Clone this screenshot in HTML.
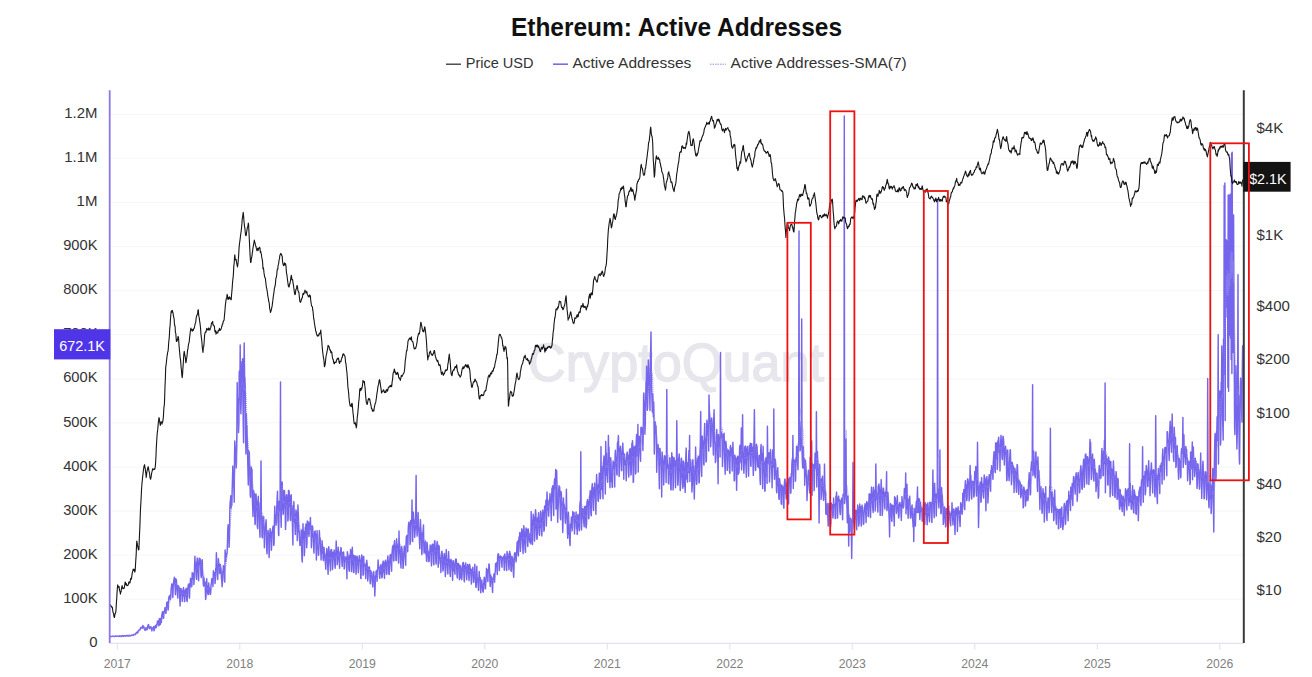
<!DOCTYPE html>
<html><head><meta charset="utf-8"><title>Ethereum: Active Addresses</title>
<style>
html,body{margin:0;padding:0;background:#fff;}
body{width:1312px;height:677px;overflow:hidden;font-family:"Liberation Sans",sans-serif;}
svg{display:block;font-family:"Liberation Sans",sans-serif;}
</style></head><body>
<svg width="1312" height="677" viewBox="0 0 1312 677">
<rect width="1312" height="677" fill="#ffffff"/>
<text x="676.5" y="35.5" text-anchor="middle" font-size="25" font-weight="bold" textLength="331" lengthAdjust="spacingAndGlyphs" fill="#111">Ethereum: Active Addresses</text>
<g font-size="14.5" fill="#333">
<line x1="446" x2="461" y1="64.2" y2="64.2" stroke="#333" stroke-width="1.3"/>
<text x="465.7" y="68" textLength="67.9" lengthAdjust="spacingAndGlyphs">Price USD</text>
<line x1="553" x2="568" y1="64.2" y2="64.2" stroke="#7b68ee" stroke-width="1.6"/>
<text x="572.4" y="68" textLength="118.9" lengthAdjust="spacingAndGlyphs">Active Addresses</text>
<line x1="710" x2="726" y1="64.2" y2="64.2" stroke="#9a8cf0" stroke-width="1" stroke-dasharray="1.5,1"/>
<text x="730.6" y="68" textLength="176.1" lengthAdjust="spacingAndGlyphs">Active Addresses-SMA(7)</text>
</g>
<g stroke="#f6f6f6" stroke-width="1"><line x1="110" x2="1243" y1="114.3" y2="114.3"/><line x1="110" x2="1243" y1="158.4" y2="158.4"/><line x1="110" x2="1243" y1="202.5" y2="202.5"/><line x1="110" x2="1243" y1="246.6" y2="246.6"/><line x1="110" x2="1243" y1="290.7" y2="290.7"/><line x1="110" x2="1243" y1="334.7" y2="334.7"/><line x1="110" x2="1243" y1="378.8" y2="378.8"/><line x1="110" x2="1243" y1="422.9" y2="422.9"/><line x1="110" x2="1243" y1="467.0" y2="467.0"/><line x1="110" x2="1243" y1="511.1" y2="511.1"/><line x1="110" x2="1243" y1="555.1" y2="555.1"/><line x1="110" x2="1243" y1="599.2" y2="599.2"/></g>
<text x="676" y="381" text-anchor="middle" font-size="53" fill="#e7e6ed" stroke="#e7e6ed" stroke-width="1.4" textLength="296" lengthAdjust="spacingAndGlyphs">CryptoQuant</text>
<line x1="109" x2="1244" y1="643.3" y2="643.3" stroke="#e4e2ee" stroke-width="1.2"/>
<g stroke="#e0e0e6" stroke-width="1"><line x1="117.3" x2="117.3" y1="643" y2="649.5"/><line x1="239.8" x2="239.8" y1="643" y2="649.5"/><line x1="362.3" x2="362.3" y1="643" y2="649.5"/><line x1="484.8" x2="484.8" y1="643" y2="649.5"/><line x1="607.3" x2="607.3" y1="643" y2="649.5"/><line x1="729.8" x2="729.8" y1="643" y2="649.5"/><line x1="852.3" x2="852.3" y1="643" y2="649.5"/><line x1="974.8" x2="974.8" y1="643" y2="649.5"/><line x1="1097.3" x2="1097.3" y1="643" y2="649.5"/><line x1="1219.8" x2="1219.8" y1="643" y2="649.5"/></g>
<g font-size="15.3" fill="#333"><text x="64.3" y="117.9" textLength="33.2" lengthAdjust="spacingAndGlyphs">1.2M</text><text x="64.3" y="162.0" textLength="33.2" lengthAdjust="spacingAndGlyphs">1.1M</text><text x="76.6" y="206.1" textLength="20.9" lengthAdjust="spacingAndGlyphs">1M</text><text x="63.2" y="250.2" textLength="34.3" lengthAdjust="spacingAndGlyphs">900K</text><text x="63.2" y="294.3" textLength="34.3" lengthAdjust="spacingAndGlyphs">800K</text><text x="63.2" y="338.3" textLength="34.3" lengthAdjust="spacingAndGlyphs">700K</text><text x="63.2" y="382.4" textLength="34.3" lengthAdjust="spacingAndGlyphs">600K</text><text x="63.2" y="426.5" textLength="34.3" lengthAdjust="spacingAndGlyphs">500K</text><text x="63.2" y="470.6" textLength="34.3" lengthAdjust="spacingAndGlyphs">400K</text><text x="63.2" y="514.7" textLength="34.3" lengthAdjust="spacingAndGlyphs">300K</text><text x="63.2" y="558.7" textLength="34.3" lengthAdjust="spacingAndGlyphs">200K</text><text x="63.2" y="602.8" textLength="34.3" lengthAdjust="spacingAndGlyphs">100K</text><text x="89.2" y="646.9" textLength="8.3" lengthAdjust="spacingAndGlyphs">0</text></g>
<g font-size="15" fill="#333"><text x="1256.5" y="133.3">$4K</text><text x="1256.5" y="240.2">$1K</text><text x="1256.5" y="310.9">$400</text><text x="1256.5" y="364.3">$200</text><text x="1256.5" y="417.8">$100</text><text x="1256.5" y="488.5">$40</text><text x="1256.5" y="541.9">$20</text><text x="1256.5" y="595.4">$10</text></g>
<g font-size="12.2" fill="#808080"><text x="117.3" y="667.5" text-anchor="middle">2017</text><text x="239.8" y="667.5" text-anchor="middle">2018</text><text x="362.3" y="667.5" text-anchor="middle">2019</text><text x="484.8" y="667.5" text-anchor="middle">2020</text><text x="607.3" y="667.5" text-anchor="middle">2021</text><text x="729.8" y="667.5" text-anchor="middle">2022</text><text x="852.3" y="667.5" text-anchor="middle">2023</text><text x="974.8" y="667.5" text-anchor="middle">2024</text><text x="1097.3" y="667.5" text-anchor="middle">2025</text><text x="1219.8" y="667.5" text-anchor="middle">2026</text></g>
<path d="M110.0,636.0 L110.3,636.4 L110.7,636.4 L111.0,636.5 L111.3,636.5 L111.7,636.6 L112.0,636.4 L112.3,636.3 L112.7,636.2 L113.0,636.3 L113.4,636.2 L113.7,636.3 L114.0,636.6 L114.4,636.6 L114.7,636.2 L115.0,636.2 L115.4,636.0 L115.7,636.2 L116.0,636.3 L116.4,636.3 L116.7,636.4 L117.0,636.2 L117.4,636.0 L117.7,636.1 L118.1,636.1 L118.4,636.3 L118.7,636.4 L119.1,636.4 L119.4,636.3 L119.7,635.8 L120.1,636.0 L120.4,636.0 L120.7,636.2 L121.1,636.6 L121.4,636.4 L121.7,635.8 L122.1,635.7 L122.4,635.9 L122.8,635.9 L123.1,635.8 L123.4,636.3 L123.8,636.2 L124.1,635.7 L124.4,635.8 L124.8,635.7 L125.1,635.7 L125.4,635.8 L125.8,636.1 L126.1,636.0 L126.4,635.6 L126.8,635.4 L127.1,635.7 L127.5,635.5 L127.8,635.6 L128.1,636.1 L128.5,636.1 L128.8,635.6 L129.1,635.3 L129.5,635.8 L129.8,635.5 L130.1,635.6 L130.5,635.9 L130.8,635.8 L131.1,635.4 L131.5,635.3 L131.8,635.1 L132.1,635.0 L132.5,635.0 L132.8,635.3 L133.2,635.5 L133.5,634.9 L133.8,634.6 L134.2,634.2 L134.5,634.4 L134.8,634.4 L135.2,634.7 L135.5,634.5 L135.8,633.6 L136.2,632.9 L136.5,632.6 L136.8,632.3 L137.2,632.1 L137.5,633.0 L137.9,632.7 L138.2,630.9 L138.5,630.7 L138.9,630.2 L139.2,629.9 L139.5,629.8 L139.9,629.8 L140.2,629.3 L140.5,627.9 L140.9,627.6 L141.2,627.3 L141.5,627.2 L141.9,627.3 L142.2,628.2 L142.6,628.1 L142.9,625.5 L143.2,626.4 L143.6,627.1 L143.9,626.8 L144.2,628.4 L144.6,629.8 L144.9,629.8 L145.2,630.2 L145.6,628.7 L145.9,627.7 L146.2,628.0 L146.6,628.9 L146.9,629.9 L147.3,628.9 L147.6,627.1 L147.9,625.6 L148.3,624.8 L148.6,624.6 L148.9,626.3 L149.3,628.5 L149.6,628.7 L149.9,627.5 L150.3,627.6 L150.6,626.7 L150.9,626.8 L151.3,628.2 L151.6,629.6 L151.9,630.9 L152.3,627.9 L152.6,628.0 L153.0,628.5 L153.3,628.9 L153.6,626.6 L154.0,630.8 L154.3,628.9 L154.6,629.2 L155.0,626.6 L155.3,625.8 L155.6,625.5 L156.0,626.0 L156.3,627.6 L156.6,624.6 L157.0,624.8 L157.3,622.2 L157.7,620.9 L158.0,623.6 L158.3,621.2 L158.7,625.8 L159.0,625.7 L159.3,618.7 L159.7,619.0 L160.0,620.0 L160.3,624.5 L160.7,618.5 L161.0,619.5 L161.3,622.6 L161.7,616.0 L162.0,614.1 L162.4,612.0 L162.7,611.7 L163.0,615.7 L163.4,618.4 L163.7,617.7 L164.0,611.2 L164.4,611.8 L164.7,609.8 L165.0,607.6 L165.4,608.8 L165.7,613.3 L166.0,613.3 L166.4,608.2 L166.7,603.1 L167.1,602.0 L167.4,602.2 L167.7,603.8 L168.1,610.1 L168.4,607.2 L168.7,598.1 L169.1,596.7 L169.4,596.2 L169.7,595.4 L170.1,597.1 L170.4,599.7 L170.7,597.4 L171.1,589.5 L171.4,587.2 L171.8,583.9 L172.1,584.2 L172.4,584.7 L172.8,597.5 L173.1,590.6 L173.4,583.7 L173.8,580.6 L174.1,578.6 L174.4,577.3 L174.8,582.7 L175.1,587.0 L175.4,594.8 L175.8,578.7 L176.1,583.9 L176.4,579.7 L176.8,586.6 L177.1,589.9 L177.5,594.9 L177.8,598.1 L178.1,585.4 L178.5,588.1 L178.8,589.2 L179.1,587.0 L179.5,590.4 L179.8,600.3 L180.1,605.9 L180.5,588.5 L180.8,588.7 L181.1,588.8 L181.5,594.4 L181.8,590.7 L182.2,601.5 L182.5,595.1 L182.8,596.1 L183.2,589.1 L183.5,587.6 L183.8,592.7 L184.2,595.7 L184.5,601.6 L184.8,601.0 L185.2,590.0 L185.5,592.3 L185.8,593.7 L186.2,588.3 L186.5,595.6 L186.9,600.8 L187.2,601.5 L187.5,589.0 L187.9,588.4 L188.2,585.6 L188.5,584.2 L188.9,584.1 L189.2,596.4 L189.5,598.0 L189.9,583.6 L190.2,586.5 L190.5,578.3 L190.9,581.1 L191.2,583.9 L191.6,586.8 L191.9,585.9 L192.2,572.7 L192.6,579.4 L192.9,576.7 L193.2,574.9 L193.6,573.2 L193.9,584.5 L194.2,580.0 L194.6,565.4 L194.9,556.3 L195.2,566.0 L195.6,562.9 L195.9,568.4 L196.2,577.0 L196.6,579.4 L196.9,561.7 L197.3,558.0 L197.6,560.8 L197.9,564.8 L198.3,574.2 L198.6,580.7 L198.9,569.6 L199.3,558.3 L199.6,564.6 L199.9,558.5 L200.3,560.2 L200.6,559.8 L200.9,574.8 L201.3,577.6 L201.6,566.2 L202.0,566.0 L202.3,559.8 L202.6,575.5 L203.0,575.9 L203.3,583.9 L203.6,586.1 L204.0,578.2 L204.3,583.9 L204.6,582.2 L205.0,582.0 L205.3,588.4 L205.6,599.4 L206.0,597.0 L206.3,587.9 L206.7,578.8 L207.0,585.3 L207.3,586.9 L207.7,592.6 L208.0,594.5 L208.3,594.4 L208.7,582.9 L209.0,587.2 L209.3,588.0 L209.7,589.9 L210.0,593.2 L210.3,594.6 L210.7,593.3 L211.0,584.8 L211.4,584.0 L211.7,579.4 L212.0,578.4 L212.4,581.5 L212.7,583.6 L213.0,586.4 L213.4,570.7 L213.7,575.9 L214.0,572.9 L214.4,574.0 L214.7,572.8 L215.0,583.6 L215.4,579.7 L215.7,568.5 L216.0,569.8 L216.4,552.7 L216.7,565.2 L217.1,571.3 L217.4,576.3 L217.7,579.6 L218.1,567.7 L218.4,558.6 L218.7,562.8 L219.1,563.7 L219.4,565.0 L219.7,573.4 L220.1,572.3 L220.4,564.5 L220.7,567.4 L221.1,569.1 L221.4,578.0 L221.8,580.9 L222.1,586.7 L222.4,583.1 L222.8,571.0 L223.1,571.8 L223.4,565.6 L223.8,569.4 L224.1,569.1 L224.4,579.9 L224.8,582.1 L225.1,550.0 L225.4,554.3 L225.8,561.2 L226.1,554.6 L226.5,556.2 L226.8,553.3 L227.1,553.5 L227.5,541.8 L227.8,529.6 L228.1,524.7 L228.5,529.9 L228.8,526.7 L229.1,547.2 L229.5,536.9 L229.8,511.2 L230.1,502.5 L230.5,499.8 L230.8,495.7 L231.2,508.0 L231.5,503.4 L231.8,505.4 L232.2,489.2 L232.5,479.1 L232.8,466.1 L233.2,486.9 L233.5,475.0 L233.8,486.5 L234.2,502.2 L234.5,458.4 L234.8,440.9 L235.2,448.0 L235.5,447.8 L235.8,459.6 L236.2,467.9 L236.5,462.3 L236.9,425.0 L237.2,382.6 L237.5,408.1 L237.9,412.7 L238.2,398.6 L238.5,432.6 L238.9,423.2 L239.2,372.6 L239.5,370.8 L239.9,386.0 L240.2,345.0 L240.5,399.4 L240.9,413.7 L241.2,402.8 L241.6,371.3 L241.9,361.6 L242.2,374.6 L242.6,358.8 L242.9,399.4 L243.2,421.1 L243.6,442.8 L243.9,373.2 L244.2,343.0 L244.6,376.3 L244.9,378.0 L245.2,386.8 L245.6,435.9 L245.9,453.9 L246.3,413.4 L246.6,428.7 L246.9,425.6 L247.3,439.2 L247.6,455.7 L247.9,467.9 L248.3,485.0 L248.6,450.6 L248.9,456.7 L249.3,451.9 L249.6,464.6 L249.9,476.9 L250.3,495.7 L250.6,497.2 L251.0,467.2 L251.3,467.1 L251.6,471.7 L252.0,469.1 L252.3,496.2 L252.6,505.6 L253.0,516.5 L253.3,491.2 L253.6,490.5 L254.0,498.3 L254.3,493.0 L254.6,511.4 L255.0,524.6 L255.3,523.0 L255.7,494.4 L256.0,494.1 L256.3,498.7 L256.7,503.8 L257.0,511.5 L257.3,526.3 L257.7,528.5 L258.0,501.6 L258.3,496.3 L258.7,510.7 L259.0,502.7 L259.3,516.9 L259.7,531.8 L260.0,537.3 L260.3,511.1 L260.7,509.5 L261.0,461.0 L261.4,517.7 L261.7,515.1 L262.0,536.0 L262.4,537.8 L262.7,517.3 L263.0,518.2 L263.4,520.9 L263.7,516.7 L264.0,528.1 L264.4,547.8 L264.7,540.4 L265.0,527.7 L265.4,528.0 L265.7,523.9 L266.1,519.7 L266.4,530.3 L266.7,550.4 L267.1,553.8 L267.4,537.1 L267.7,535.0 L268.1,530.4 L268.4,538.5 L268.7,533.5 L269.1,557.5 L269.4,550.1 L269.7,536.1 L270.1,528.6 L270.4,532.3 L270.8,540.5 L271.1,532.7 L271.4,550.2 L271.8,543.3 L272.1,531.1 L272.4,530.9 L272.8,528.1 L273.1,526.1 L273.4,527.9 L273.8,545.4 L274.1,543.8 L274.4,522.1 L274.8,506.2 L275.1,517.8 L275.5,514.6 L275.8,521.5 L276.1,525.1 L276.5,522.5 L276.8,507.3 L277.1,499.2 L277.5,491.3 L277.8,507.6 L278.1,513.8 L278.5,533.9 L278.8,535.5 L279.1,501.3 L279.5,505.7 L279.8,511.4 L280.1,502.0 L280.5,382.0 L280.8,514.2 L281.2,527.2 L281.5,488.3 L281.8,506.2 L282.2,481.9 L282.5,498.4 L282.8,509.3 L283.2,514.4 L283.5,512.2 L283.8,490.4 L284.2,498.1 L284.5,490.6 L284.8,498.4 L285.2,510.3 L285.5,529.4 L285.9,521.1 L286.2,497.6 L286.5,494.8 L286.9,495.3 L287.2,502.7 L287.5,501.9 L287.9,521.0 L288.2,518.1 L288.5,490.5 L288.9,490.4 L289.2,492.0 L289.5,506.3 L289.9,495.6 L290.2,519.8 L290.6,520.4 L290.9,502.7 L291.2,494.8 L291.6,507.8 L291.9,510.9 L292.2,514.6 L292.6,532.0 L292.9,545.1 L293.2,505.4 L293.6,512.7 L293.9,501.6 L294.2,513.2 L294.6,521.1 L294.9,524.0 L295.3,534.5 L295.6,518.6 L295.9,509.9 L296.3,511.7 L296.6,517.5 L296.9,523.0 L297.3,540.6 L297.6,534.8 L297.9,505.0 L298.3,513.9 L298.6,521.3 L298.9,531.7 L299.3,531.1 L299.6,540.1 L299.9,545.4 L300.3,544.4 L300.6,537.6 L301.0,541.2 L301.3,529.9 L301.6,547.5 L302.0,559.9 L302.3,562.0 L302.6,537.5 L303.0,523.8 L303.3,535.7 L303.6,538.3 L304.0,531.6 L304.3,555.7 L304.6,551.5 L305.0,535.9 L305.3,527.4 L305.7,526.9 L306.0,523.9 L306.3,531.6 L306.7,547.8 L307.0,542.4 L307.3,521.0 L307.7,523.6 L308.0,523.2 L308.3,533.9 L308.7,522.1 L309.0,536.4 L309.3,529.6 L309.7,523.8 L310.0,529.4 L310.4,517.5 L310.7,527.0 L311.0,527.7 L311.4,547.7 L311.7,541.0 L312.0,526.1 L312.4,525.9 L312.7,527.3 L313.0,535.2 L313.4,538.1 L313.7,548.7 L314.0,553.1 L314.4,535.0 L314.7,531.4 L315.1,531.0 L315.4,535.9 L315.7,534.3 L316.1,549.0 L316.4,560.1 L316.7,545.7 L317.1,530.6 L317.4,546.7 L317.7,548.3 L318.1,547.0 L318.4,555.3 L318.7,554.9 L319.1,536.5 L319.4,530.7 L319.7,538.9 L320.1,537.9 L320.4,543.2 L320.8,552.2 L321.1,559.9 L321.4,548.6 L321.8,552.7 L322.1,540.7 L322.4,547.5 L322.8,546.3 L323.1,558.8 L323.4,560.5 L323.8,549.8 L324.1,547.8 L324.4,554.0 L324.8,554.5 L325.1,559.8 L325.5,564.7 L325.8,569.2 L326.1,556.2 L326.5,552.8 L326.8,548.4 L327.1,552.7 L327.5,560.7 L327.8,568.2 L328.1,574.3 L328.5,550.9 L328.8,546.8 L329.1,551.2 L329.5,555.0 L329.8,561.6 L330.2,566.2 L330.5,570.7 L330.8,550.1 L331.2,554.8 L331.5,549.5 L331.8,552.4 L332.2,557.1 L332.5,569.5 L332.8,566.4 L333.2,552.3 L333.5,553.5 L333.8,558.4 L334.2,549.9 L334.5,558.6 L334.9,565.3 L335.2,568.3 L335.5,553.8 L335.9,552.2 L336.2,541.0 L336.5,549.4 L336.9,554.3 L337.2,564.7 L337.5,562.7 L337.9,556.6 L338.2,547.2 L338.5,551.0 L338.9,557.3 L339.2,558.9 L339.6,568.3 L339.9,560.1 L340.2,551.8 L340.6,552.5 L340.9,547.5 L341.2,548.2 L341.6,555.6 L341.9,561.9 L342.2,566.4 L342.6,557.0 L342.9,552.4 L343.2,555.5 L343.6,551.9 L343.9,556.6 L344.2,569.1 L344.6,568.0 L344.9,557.7 L345.3,557.0 L345.6,556.9 L345.9,560.9 L346.3,558.8 L346.6,563.5 L346.9,578.8 L347.3,551.7 L347.6,553.8 L347.9,554.7 L348.3,559.8 L348.6,561.5 L348.9,569.2 L349.3,571.2 L349.6,555.7 L350.0,555.0 L350.3,555.5 L350.6,549.4 L351.0,556.2 L351.3,569.8 L351.6,571.6 L352.0,559.3 L352.3,547.3 L352.6,557.1 L353.0,554.7 L353.3,565.2 L353.6,572.6 L354.0,572.0 L354.3,555.6 L354.7,556.2 L355.0,557.6 L355.3,556.1 L355.7,562.2 L356.0,574.2 L356.3,570.9 L356.7,557.4 L357.0,556.1 L357.3,556.7 L357.7,563.0 L358.0,564.1 L358.3,572.8 L358.7,566.5 L359.0,558.9 L359.4,555.7 L359.7,559.4 L360.0,561.5 L360.4,560.3 L360.7,578.3 L361.0,578.5 L361.4,559.9 L361.7,555.0 L362.0,556.2 L362.4,558.8 L362.7,562.1 L363.0,575.2 L363.4,574.5 L363.7,556.4 L364.0,564.4 L364.4,564.0 L364.7,566.1 L365.1,564.1 L365.4,572.7 L365.7,578.6 L366.1,565.3 L366.4,563.9 L366.7,560.2 L367.1,563.5 L367.4,569.4 L367.7,580.9 L368.1,577.2 L368.4,567.1 L368.7,569.4 L369.1,568.4 L369.4,566.9 L369.8,571.8 L370.1,582.3 L370.4,583.8 L370.8,570.8 L371.1,573.5 L371.4,572.3 L371.8,572.5 L372.1,578.8 L372.4,582.7 L372.8,586.9 L373.1,579.1 L373.4,576.2 L373.8,571.6 L374.1,579.5 L374.5,582.1 L374.8,596.0 L375.1,588.0 L375.5,576.1 L375.8,577.5 L376.1,571.0 L376.5,572.1 L376.8,570.5 L377.1,581.3 L377.5,570.1 L377.8,568.8 L378.1,559.9 L378.5,567.2 L378.8,567.1 L379.2,567.9 L379.5,577.0 L379.8,578.2 L380.2,567.4 L380.5,565.7 L380.8,564.7 L381.2,574.3 L381.5,566.4 L381.8,577.8 L382.2,577.2 L382.5,563.2 L382.8,564.4 L383.2,561.1 L383.5,563.4 L383.8,572.0 L384.2,574.0 L384.5,578.2 L384.9,561.9 L385.2,561.8 L385.5,560.2 L385.9,562.6 L386.2,564.9 L386.5,574.2 L386.9,573.9 L387.2,563.7 L387.5,559.9 L387.9,555.9 L388.2,561.0 L388.5,561.8 L388.9,574.3 L389.2,574.5 L389.6,564.9 L389.9,557.7 L390.2,554.8 L390.6,554.6 L390.9,561.1 L391.2,563.5 L391.6,571.2 L391.9,554.9 L392.2,551.3 L392.6,546.2 L392.9,550.7 L393.2,545.3 L393.6,560.6 L393.9,561.0 L394.3,543.4 L394.6,540.6 L394.9,545.1 L395.3,548.1 L395.6,549.6 L395.9,560.0 L396.3,560.6 L396.6,538.7 L396.9,542.9 L397.3,545.7 L397.6,547.8 L397.9,548.6 L398.3,558.0 L398.6,563.1 L399.0,531.0 L399.3,544.6 L399.6,543.9 L400.0,551.6 L400.3,554.9 L400.6,562.0 L401.0,568.0 L401.3,551.0 L401.6,546.4 L402.0,549.2 L402.3,553.5 L402.6,556.3 L403.0,568.4 L403.3,566.9 L403.6,558.0 L404.0,550.3 L404.3,546.0 L404.7,548.4 L405.0,555.1 L405.3,557.8 L405.7,565.2 L406.0,545.4 L406.3,536.9 L406.7,536.2 L407.0,535.4 L407.3,538.8 L407.7,551.7 L408.0,541.8 L408.3,527.7 L408.7,522.7 L409.0,522.1 L409.4,526.2 L409.7,523.8 L410.0,544.5 L410.4,542.1 L410.7,520.4 L411.0,522.1 L411.4,524.8 L411.7,524.7 L412.0,500.0 L412.4,540.9 L412.7,541.5 L413.0,523.4 L413.4,512.1 L413.7,517.9 L414.1,521.1 L414.4,526.0 L414.7,537.3 L415.1,531.7 L415.4,526.7 L415.7,516.9 L416.1,475.5 L416.4,517.8 L416.7,525.8 L417.1,536.1 L417.4,530.6 L417.7,520.6 L418.1,512.5 L418.4,527.2 L418.8,528.9 L419.1,534.3 L419.4,539.4 L419.8,548.8 L420.1,526.5 L420.4,519.6 L420.8,528.2 L421.1,532.0 L421.4,537.8 L421.8,554.6 L422.1,550.8 L422.4,532.8 L422.8,539.4 L423.1,530.3 L423.5,524.9 L423.8,545.4 L424.1,553.1 L424.5,550.0 L424.8,547.0 L425.1,543.8 L425.5,541.1 L425.8,554.0 L426.1,546.3 L426.5,560.8 L426.8,561.4 L427.1,542.5 L427.5,548.2 L427.8,552.2 L428.1,550.6 L428.5,557.6 L428.8,561.7 L429.2,560.9 L429.5,552.7 L429.8,552.9 L430.2,545.1 L430.5,547.5 L430.8,545.9 L431.2,561.0 L431.5,565.9 L431.8,552.0 L432.2,544.4 L432.5,551.0 L432.8,544.1 L433.2,545.5 L433.5,562.6 L433.9,564.8 L434.2,548.1 L434.5,541.3 L434.9,540.8 L435.2,552.1 L435.5,548.5 L435.9,562.5 L436.2,564.0 L436.5,549.0 L436.9,543.7 L437.2,541.5 L437.5,544.2 L437.9,551.4 L438.2,567.3 L438.6,555.6 L438.9,545.4 L439.2,547.3 L439.6,556.7 L439.9,557.0 L440.2,563.7 L440.6,562.0 L440.9,572.5 L441.2,561.0 L441.6,554.0 L441.9,551.2 L442.2,553.5 L442.6,559.0 L442.9,571.1 L443.3,568.9 L443.6,560.7 L443.9,557.6 L444.3,553.4 L444.6,556.5 L444.9,560.3 L445.3,576.6 L445.6,572.9 L445.9,558.4 L446.3,549.6 L446.6,558.8 L446.9,559.3 L447.3,565.6 L447.6,570.6 L447.9,574.0 L448.3,560.7 L448.6,551.6 L449.0,561.7 L449.3,559.6 L449.6,561.6 L450.0,572.8 L450.3,576.5 L450.6,562.9 L451.0,559.2 L451.3,560.0 L451.6,560.5 L452.0,567.0 L452.3,573.2 L452.6,580.4 L453.0,565.7 L453.3,560.8 L453.7,563.5 L454.0,567.7 L454.3,570.8 L454.7,571.4 L455.0,574.3 L455.3,561.2 L455.7,559.1 L456.0,560.4 L456.3,559.3 L456.7,567.1 L457.0,575.5 L457.3,578.0 L457.7,563.9 L458.0,563.5 L458.4,563.4 L458.7,568.6 L459.0,568.4 L459.4,579.8 L459.7,573.3 L460.0,565.1 L460.4,578.1 L460.7,566.3 L461.0,570.0 L461.4,570.8 L461.7,579.7 L462.0,576.5 L462.4,569.0 L462.7,563.1 L463.1,566.4 L463.4,562.5 L463.7,569.5 L464.1,580.0 L464.4,581.8 L464.7,565.4 L465.1,567.2 L465.4,565.1 L465.7,562.9 L466.1,569.0 L466.4,575.4 L466.7,579.8 L467.1,568.2 L467.4,568.5 L467.7,564.4 L468.1,568.3 L468.4,572.8 L468.8,577.3 L469.1,580.6 L469.4,564.2 L469.8,565.0 L470.1,568.1 L470.4,568.9 L470.8,573.5 L471.1,578.1 L471.4,584.1 L471.8,569.7 L472.1,569.1 L472.4,571.5 L472.8,567.3 L473.1,574.0 L473.5,582.2 L473.8,581.8 L474.1,572.4 L474.5,574.8 L474.8,564.2 L475.1,574.3 L475.5,578.9 L475.8,586.9 L476.1,587.5 L476.5,578.6 L476.8,566.3 L477.1,576.5 L477.5,578.9 L477.8,581.0 L478.2,586.0 L478.5,590.4 L478.8,579.6 L479.2,571.4 L479.5,579.6 L479.8,579.7 L480.2,577.4 L480.5,589.7 L480.8,592.8 L481.2,584.2 L481.5,580.7 L481.8,580.0 L482.2,586.4 L482.5,587.9 L482.9,591.4 L483.2,592.1 L483.5,583.8 L483.9,582.7 L484.2,577.3 L484.5,578.4 L484.9,584.1 L485.2,589.0 L485.5,588.4 L485.9,580.7 L486.2,576.6 L486.5,568.3 L486.9,570.4 L487.2,574.3 L487.5,577.4 L487.9,581.5 L488.2,569.6 L488.6,571.9 L488.9,563.9 L489.2,564.6 L489.6,572.2 L489.9,580.0 L490.2,586.5 L490.6,575.1 L490.9,576.4 L491.2,576.4 L491.6,577.3 L491.9,582.7 L492.2,586.3 L492.6,592.4 L492.9,580.0 L493.3,577.8 L493.6,578.5 L493.9,573.9 L494.3,576.0 L494.6,582.2 L494.9,573.3 L495.3,571.3 L495.6,563.4 L495.9,566.6 L496.3,566.6 L496.6,562.7 L496.9,565.6 L497.3,574.5 L497.6,557.7 L498.0,554.2 L498.3,553.8 L498.6,554.1 L499.0,557.8 L499.3,570.6 L499.6,565.9 L500.0,556.8 L500.3,556.7 L500.6,555.9 L501.0,556.9 L501.3,556.8 L501.6,561.4 L502.0,567.3 L502.3,557.7 L502.7,559.6 L503.0,559.3 L503.3,557.6 L503.7,556.1 L504.0,563.3 L504.3,570.3 L504.7,554.1 L505.0,554.4 L505.3,561.1 L505.7,561.5 L506.0,557.5 L506.3,568.7 L506.7,570.5 L507.0,551.4 L507.4,555.3 L507.7,553.1 L508.0,555.4 L508.4,560.2 L508.7,565.7 L509.0,569.7 L509.4,559.8 L509.7,551.3 L510.0,553.3 L510.4,554.0 L510.7,561.8 L511.0,570.8 L511.4,571.3 L511.7,564.7 L512.0,556.4 L512.4,558.5 L512.7,558.4 L513.1,564.2 L513.4,573.0 L513.7,577.2 L514.1,563.9 L514.4,554.2 L514.7,553.0 L515.1,552.7 L515.4,557.0 L515.7,558.0 L516.1,561.7 L516.4,557.3 L516.7,551.8 L517.1,542.3 L517.4,552.7 L517.8,541.1 L518.1,553.0 L518.4,555.9 L518.8,539.7 L519.1,536.8 L519.4,540.4 L519.8,532.4 L520.1,542.3 L520.4,551.4 L520.8,544.1 L521.1,536.5 L521.4,533.1 L521.8,528.8 L522.1,530.8 L522.5,539.9 L522.8,547.6 L523.1,553.6 L523.5,533.6 L523.8,525.8 L524.1,529.3 L524.5,535.6 L524.8,543.3 L525.1,549.5 L525.5,552.3 L525.8,531.0 L526.1,528.0 L526.5,537.0 L526.8,530.1 L527.2,529.4 L527.5,543.4 L527.8,546.5 L528.2,528.9 L528.5,531.1 L528.8,533.6 L529.2,534.2 L529.5,540.6 L529.8,542.1 L530.2,542.6 L530.5,534.3 L530.8,543.9 L531.2,511.6 L531.5,529.9 L531.8,520.1 L532.2,538.3 L532.5,544.5 L532.9,521.5 L533.2,514.2 L533.5,526.9 L533.9,518.2 L534.2,517.3 L534.5,541.1 L534.9,534.7 L535.2,516.4 L535.5,509.7 L535.9,513.0 L536.2,522.0 L536.5,528.3 L536.9,539.3 L537.2,537.9 L537.6,518.5 L537.9,517.5 L538.2,520.0 L538.6,512.7 L538.9,527.5 L539.2,534.0 L539.6,535.2 L539.9,522.2 L540.2,519.4 L540.6,511.2 L540.9,527.0 L541.2,522.8 L541.6,531.0 L541.9,535.9 L542.3,512.7 L542.6,511.7 L542.9,510.1 L543.3,515.5 L543.6,523.0 L543.9,531.2 L544.3,529.6 L544.6,506.0 L544.9,506.8 L545.3,507.3 L545.6,513.5 L545.9,500.2 L546.3,526.0 L546.6,515.7 L547.0,491.9 L547.3,499.0 L547.6,499.7 L548.0,510.1 L548.3,509.6 L548.6,516.1 L549.0,508.2 L549.3,500.4 L549.6,501.4 L550.0,493.6 L550.3,501.3 L550.6,499.9 L551.0,513.8 L551.3,520.6 L551.6,498.0 L552.0,488.0 L552.3,491.4 L552.7,485.8 L553.0,500.2 L553.3,503.6 L553.7,515.5 L554.0,493.6 L554.3,481.9 L554.7,478.8 L555.0,488.4 L555.3,482.8 L555.7,469.5 L556.0,508.9 L556.3,480.6 L556.7,470.6 L557.0,486.9 L557.4,508.8 L557.7,522.2 L558.0,510.5 L558.4,502.2 L558.7,490.9 L559.0,485.7 L559.4,495.1 L559.7,487.0 L560.0,497.7 L560.4,517.8 L560.7,519.7 L561.0,491.5 L561.4,494.2 L561.7,503.4 L562.1,502.6 L562.4,507.0 L562.7,532.4 L563.1,520.5 L563.4,498.0 L563.7,504.9 L564.1,504.3 L564.4,507.9 L564.7,508.0 L565.1,519.0 L565.4,523.3 L565.7,515.3 L566.1,508.3 L566.4,489.2 L566.8,514.3 L567.1,517.6 L567.4,531.8 L567.8,538.2 L568.1,523.0 L568.4,512.2 L568.8,522.6 L569.1,534.3 L569.4,529.3 L569.8,543.3 L570.1,545.5 L570.4,524.3 L570.8,527.4 L571.1,525.3 L571.4,516.9 L571.8,522.4 L572.1,530.8 L572.5,526.8 L572.8,511.4 L573.1,513.0 L573.5,513.0 L573.8,513.8 L574.1,512.8 L574.5,533.9 L574.8,523.0 L575.1,516.7 L575.5,516.3 L575.8,517.9 L576.1,512.0 L576.5,528.7 L576.8,521.2 L577.2,534.5 L577.5,523.0 L577.8,514.5 L578.2,515.1 L578.5,516.9 L578.8,525.8 L579.2,530.8 L579.5,528.4 L579.8,505.9 L580.2,501.4 L580.5,504.2 L580.8,451.8 L581.2,519.3 L581.5,530.0 L581.9,519.9 L582.2,513.9 L582.5,508.6 L582.9,512.5 L583.2,509.2 L583.5,517.4 L583.9,523.6 L584.2,526.7 L584.5,506.8 L584.9,513.5 L585.2,512.1 L585.5,506.3 L585.9,526.4 L586.2,527.9 L586.6,523.2 L586.9,503.2 L587.2,501.3 L587.6,499.5 L587.9,502.4 L588.2,501.9 L588.6,518.7 L588.9,518.3 L589.2,504.7 L589.6,496.0 L589.9,495.9 L590.2,490.8 L590.6,500.0 L590.9,514.1 L591.3,515.7 L591.6,494.4 L591.9,487.9 L592.3,483.7 L592.6,495.3 L592.9,494.9 L593.3,507.7 L593.6,510.4 L593.9,487.4 L594.3,496.7 L594.6,483.1 L594.9,494.9 L595.3,496.1 L595.6,501.9 L595.9,514.3 L596.3,485.6 L596.6,474.5 L597.0,485.4 L597.3,488.5 L597.6,484.6 L598.0,500.6 L598.3,501.3 L598.6,493.5 L599.0,482.8 L599.3,473.1 L599.6,480.8 L600.0,486.0 L600.3,498.8 L600.6,496.4 L601.0,446.6 L601.3,489.0 L601.7,466.5 L602.0,489.6 L602.3,475.8 L602.7,489.2 L603.0,498.8 L603.3,463.6 L603.7,460.2 L604.0,455.9 L604.3,460.9 L604.7,470.5 L605.0,476.8 L605.3,494.1 L605.7,441.4 L606.0,457.4 L606.4,452.9 L606.7,475.3 L607.0,468.8 L607.4,479.1 L607.7,482.3 L608.0,463.4 L608.4,435.5 L608.7,458.9 L609.0,447.1 L609.4,464.4 L609.7,479.6 L610.0,487.8 L610.4,459.4 L610.7,457.8 L611.1,463.6 L611.4,481.5 L611.7,471.6 L612.1,486.9 L612.4,487.3 L612.7,470.3 L613.1,460.9 L613.4,467.6 L613.7,462.5 L614.1,468.8 L614.4,463.5 L614.7,487.0 L615.1,455.1 L615.4,450.2 L615.7,456.6 L616.1,459.0 L616.4,464.8 L616.8,473.8 L617.1,475.0 L617.4,444.0 L617.8,441.9 L618.1,440.9 L618.4,435.6 L618.8,453.5 L619.1,476.5 L619.4,471.5 L619.8,448.4 L620.1,449.6 L620.4,446.2 L620.8,458.4 L621.1,458.0 L621.5,470.0 L621.8,470.7 L622.1,451.6 L622.5,447.3 L622.8,443.1 L623.1,451.1 L623.5,453.8 L623.8,479.2 L624.1,460.0 L624.5,454.0 L624.8,457.5 L625.1,461.3 L625.5,465.0 L625.8,460.9 L626.2,480.8 L626.5,469.6 L626.8,453.9 L627.2,452.1 L627.5,454.6 L627.8,455.0 L628.2,460.0 L628.5,473.3 L628.8,477.1 L629.2,461.9 L629.5,449.7 L629.8,451.4 L630.2,448.5 L630.5,459.1 L630.9,475.1 L631.2,473.5 L631.5,463.2 L631.9,443.2 L632.2,450.7 L632.5,440.6 L632.9,447.1 L633.2,482.4 L633.5,481.9 L633.9,456.2 L634.2,447.0 L634.5,453.3 L634.9,457.2 L635.2,446.1 L635.5,473.9 L635.9,473.0 L636.2,442.1 L636.6,434.4 L636.9,455.7 L637.2,448.2 L637.6,451.6 L637.9,424.5 L638.2,472.0 L638.6,447.3 L638.9,439.5 L639.2,436.2 L639.6,440.2 L639.9,446.4 L640.2,455.2 L640.6,461.2 L640.9,427.5 L641.3,432.4 L641.6,427.3 L641.9,429.0 L642.3,432.7 L642.6,436.4 L642.9,450.5 L643.3,431.1 L643.6,396.4 L643.9,392.9 L644.3,409.3 L644.6,402.0 L644.9,434.3 L645.3,422.5 L645.6,406.4 L646.0,382.0 L646.3,389.1 L646.6,366.2 L647.0,394.7 L647.3,410.3 L647.6,408.1 L648.0,392.3 L648.3,360.0 L648.6,368.1 L649.0,388.7 L649.3,385.0 L649.6,390.1 L650.0,410.5 L650.3,361.9 L650.7,347.8 L651.0,332.0 L651.3,369.1 L651.7,389.9 L652.0,400.3 L652.3,412.0 L652.7,393.9 L653.0,401.5 L653.3,416.7 L653.7,402.0 L654.0,420.3 L654.3,454.0 L654.7,439.3 L655.0,422.0 L655.3,422.1 L655.7,429.1 L656.0,425.6 L656.4,436.2 L656.7,472.3 L657.0,462.4 L657.4,446.1 L657.7,447.3 L658.0,444.4 L658.4,447.8 L658.7,449.0 L659.0,471.3 L659.4,488.7 L659.7,457.4 L660.0,448.4 L660.4,455.1 L660.7,463.8 L661.1,459.5 L661.4,471.2 L661.7,497.0 L662.1,451.9 L662.4,456.5 L662.7,460.0 L663.1,464.3 L663.4,466.5 L663.7,484.9 L664.1,471.1 L664.4,455.8 L664.7,461.2 L665.1,456.3 L665.4,458.6 L665.8,464.3 L666.1,482.5 L666.4,459.4 L666.8,389.4 L667.1,456.2 L667.4,465.3 L667.8,468.4 L668.1,465.0 L668.4,483.1 L668.8,483.9 L669.1,470.3 L669.4,462.0 L669.8,457.8 L670.1,468.4 L670.5,470.3 L670.8,489.5 L671.1,490.0 L671.5,461.0 L671.8,452.7 L672.1,463.6 L672.5,456.4 L672.8,469.8 L673.1,490.0 L673.5,481.1 L673.8,458.9 L674.1,457.6 L674.5,465.0 L674.8,463.2 L675.2,460.9 L675.5,487.7 L675.8,479.3 L676.2,461.1 L676.5,460.9 L676.8,420.8 L677.2,464.4 L677.5,459.1 L677.8,485.3 L678.2,482.0 L678.5,465.2 L678.8,458.2 L679.2,454.0 L679.5,464.9 L679.8,464.5 L680.2,490.6 L680.5,488.1 L680.9,466.3 L681.2,458.7 L681.5,458.2 L681.9,472.0 L682.2,477.2 L682.5,483.7 L682.9,488.3 L683.2,460.9 L683.5,465.7 L683.9,462.1 L684.2,469.7 L684.5,486.5 L684.9,483.4 L685.2,492.4 L685.6,466.2 L685.9,454.6 L686.2,448.1 L686.6,473.7 L686.9,479.1 L687.2,474.9 L687.6,482.1 L687.9,462.6 L688.2,465.5 L688.6,460.1 L688.9,450.4 L689.2,472.7 L689.6,435.5 L689.9,481.5 L690.3,459.4 L690.6,460.3 L690.9,467.3 L691.3,470.4 L691.6,467.3 L691.9,492.0 L692.3,484.8 L692.6,460.8 L692.9,459.7 L693.3,474.8 L693.6,465.9 L693.9,484.6 L694.3,499.0 L694.6,484.8 L695.0,473.8 L695.3,469.3 L695.6,446.9 L696.0,467.6 L696.3,478.2 L696.6,484.3 L697.0,480.8 L697.3,463.1 L697.6,458.2 L698.0,464.7 L698.3,456.1 L698.6,465.0 L699.0,483.1 L699.3,481.7 L699.6,460.1 L700.0,452.2 L700.3,445.3 L700.7,411.6 L701.0,454.8 L701.3,470.2 L701.7,476.4 L702.0,450.6 L702.3,436.1 L702.7,444.6 L703.0,442.5 L703.3,441.3 L703.7,463.5 L704.0,465.1 L704.3,434.8 L704.7,423.4 L705.0,444.1 L705.4,438.6 L705.7,443.5 L706.0,462.1 L706.4,460.6 L706.7,423.8 L707.0,420.1 L707.4,426.6 L707.7,434.4 L708.0,425.7 L708.4,441.4 L708.7,451.0 L709.0,395.0 L709.4,412.1 L709.7,414.6 L710.1,423.6 L710.4,420.2 L710.7,446.7 L711.1,437.6 L711.4,420.9 L711.7,417.9 L712.1,422.7 L712.4,428.9 L712.7,428.9 L713.1,445.6 L713.4,455.1 L713.7,420.9 L714.1,409.8 L714.4,427.7 L714.8,442.1 L715.1,442.5 L715.4,462.6 L715.8,460.9 L716.1,449.2 L716.4,448.0 L716.8,429.5 L717.1,447.4 L717.4,442.1 L717.8,459.0 L718.1,483.7 L718.4,434.4 L718.8,437.9 L719.1,441.7 L719.4,441.6 L719.8,446.7 L720.1,457.1 L720.5,352.5 L720.8,436.9 L721.1,436.9 L721.5,432.3 L721.8,436.0 L722.1,442.1 L722.5,466.6 L722.8,457.3 L723.1,434.4 L723.5,443.4 L723.8,448.0 L724.1,433.2 L724.5,452.0 L724.8,463.2 L725.2,474.2 L725.5,450.7 L725.8,441.2 L726.2,444.2 L726.5,454.5 L726.8,448.5 L727.2,470.4 L727.5,467.3 L727.8,455.4 L728.2,450.0 L728.5,452.2 L728.8,451.2 L729.2,456.0 L729.5,471.3 L729.9,473.4 L730.2,447.7 L730.5,445.5 L730.9,451.1 L731.2,447.8 L731.5,456.0 L731.9,455.1 L732.2,471.0 L732.5,455.7 L732.9,442.2 L733.2,452.8 L733.5,454.5 L733.9,460.6 L734.2,480.9 L734.6,480.1 L734.9,455.3 L735.2,460.1 L735.6,457.3 L735.9,462.0 L736.2,458.4 L736.6,490.2 L736.9,476.3 L737.2,462.0 L737.6,456.2 L737.9,456.2 L738.2,474.3 L738.6,457.2 L738.9,473.0 L739.2,468.3 L739.6,448.9 L739.9,445.3 L740.3,449.1 L740.6,445.4 L740.9,462.7 L741.3,428.0 L741.6,469.9 L741.9,446.2 L742.3,446.1 L742.6,414.7 L742.9,450.7 L743.3,457.4 L743.6,466.5 L743.9,473.3 L744.3,462.6 L744.6,447.0 L745.0,451.6 L745.3,445.9 L745.6,461.6 L746.0,465.3 L746.3,477.2 L746.6,449.9 L747.0,448.1 L747.3,446.4 L747.6,458.7 L748.0,452.5 L748.3,470.2 L748.6,476.3 L749.0,450.0 L749.3,445.8 L749.7,445.9 L750.0,453.8 L750.3,443.3 L750.7,465.2 L751.0,466.2 L751.3,446.4 L751.7,443.7 L752.0,454.7 L752.3,447.1 L752.7,455.4 L753.0,464.0 L753.3,475.4 L753.7,450.7 L754.0,438.5 L754.4,409.7 L754.7,443.8 L755.0,452.2 L755.4,470.6 L755.7,469.9 L756.0,459.2 L756.4,444.2 L756.7,446.1 L757.0,446.0 L757.4,456.7 L757.7,466.5 L758.0,466.0 L758.4,467.6 L758.7,461.9 L759.1,455.2 L759.4,456.3 L759.7,466.8 L760.1,480.1 L760.4,484.6 L760.7,449.8 L761.1,444.4 L761.4,456.6 L761.7,460.0 L762.1,453.5 L762.4,476.5 L762.7,488.6 L763.1,446.2 L763.4,460.6 L763.7,461.5 L764.1,462.8 L764.4,474.2 L764.8,491.3 L765.1,490.7 L765.4,459.0 L765.8,472.8 L766.1,457.5 L766.4,475.5 L766.8,473.3 L767.1,483.4 L767.4,426.3 L767.8,463.7 L768.1,463.3 L768.4,462.1 L768.8,461.0 L769.1,452.7 L769.5,482.0 L769.8,475.4 L770.1,461.5 L770.5,449.4 L770.8,461.5 L771.1,463.6 L771.5,463.8 L771.8,471.9 L772.1,487.8 L772.5,452.7 L772.8,449.8 L773.1,451.7 L773.5,467.0 L773.8,409.0 L774.2,469.8 L774.5,479.2 L774.8,468.1 L775.2,459.4 L775.5,462.9 L775.8,468.5 L776.2,477.0 L776.5,490.8 L776.8,492.8 L777.2,470.8 L777.5,471.6 L777.8,467.8 L778.2,481.4 L778.5,486.8 L778.9,499.1 L779.2,499.2 L779.5,478.6 L779.9,481.8 L780.2,489.1 L780.5,484.2 L780.9,492.6 L781.2,503.7 L781.5,504.3 L781.9,485.1 L782.2,492.5 L782.5,486.0 L782.9,488.1 L783.2,493.6 L783.5,505.4 L783.9,508.2 L784.2,487.0 L784.6,481.1 L784.9,478.9 L785.2,481.4 L785.6,493.8 L785.9,491.7 L786.2,499.0 L786.6,487.1 L786.9,482.7 L787.2,482.7 L787.6,478.5 L787.9,488.0 L788.2,490.6 L788.6,503.9 L788.9,480.8 L789.3,478.3 L789.6,479.5 L789.9,477.3 L790.3,483.1 L790.6,493.2 L790.9,493.0 L791.3,473.5 L791.6,475.9 L791.9,463.3 L792.3,458.8 L792.6,464.4 L792.9,435.5 L793.3,488.5 L793.6,459.2 L794.0,461.6 L794.3,462.1 L794.6,461.3 L795.0,460.3 L795.3,481.2 L795.6,480.5 L796.0,457.4 L796.3,462.3 L796.6,446.2 L797.0,447.2 L797.3,447.5 L797.6,463.0 L798.0,469.7 L798.3,444.8 L798.7,442.1 L799.0,231.0 L799.3,424.5 L799.7,438.1 L800.0,450.9 L800.3,449.7 L800.7,441.9 L801.0,422.1 L801.3,439.4 L801.7,319.0 L802.0,448.9 L802.3,460.4 L802.7,467.9 L803.0,446.4 L803.3,447.4 L803.7,467.0 L804.0,467.9 L804.4,458.6 L804.7,485.2 L805.0,477.2 L805.4,460.3 L805.7,463.4 L806.0,467.9 L806.4,474.6 L806.7,478.7 L807.0,500.5 L807.4,489.3 L807.7,483.8 L808.0,478.8 L808.4,470.2 L808.7,479.2 L809.1,479.2 L809.4,489.2 L809.7,493.0 L810.1,457.3 L810.4,469.3 L810.7,468.9 L811.1,470.1 L811.4,474.8 L811.7,441.0 L812.1,495.2 L812.4,463.7 L812.7,464.1 L813.1,467.9 L813.4,468.0 L813.8,465.0 L814.1,490.7 L814.4,482.7 L814.8,463.1 L815.1,453.1 L815.4,465.1 L815.8,461.3 L816.1,468.2 L816.4,411.6 L816.8,487.1 L817.1,468.6 L817.4,451.4 L817.8,462.9 L818.1,474.9 L818.5,468.8 L818.8,490.8 L819.1,522.9 L819.5,464.2 L819.8,466.1 L820.1,485.3 L820.5,484.0 L820.8,479.4 L821.1,499.5 L821.5,492.7 L821.8,478.6 L822.1,485.5 L822.5,476.1 L822.8,488.9 L823.1,492.0 L823.5,500.3 L823.8,499.9 L824.2,488.5 L824.5,464.1 L824.8,483.6 L825.2,493.1 L825.5,492.0 L825.8,514.1 L826.2,514.0 L826.5,509.8 L826.8,514.4 L827.2,503.5 L827.5,508.3 L827.8,516.3 L828.2,526.0 L828.5,524.4 L828.9,503.5 L829.2,507.9 L829.5,503.7 L829.9,509.8 L830.2,516.7 L830.5,526.9 L830.9,522.9 L831.2,503.0 L831.5,504.9 L831.9,509.6 L832.2,504.6 L832.5,506.9 L832.9,518.0 L833.2,514.8 L833.6,498.0 L833.9,505.5 L834.2,505.1 L834.6,506.6 L834.9,504.5 L835.2,518.5 L835.6,518.4 L835.9,496.2 L836.2,497.1 L836.6,492.1 L836.9,505.2 L837.2,501.4 L837.6,518.0 L837.9,502.2 L838.3,497.1 L838.6,496.1 L838.9,500.3 L839.3,499.6 L839.6,502.5 L839.9,511.6 L840.3,514.6 L840.6,503.2 L840.9,500.3 L841.3,504.1 L841.6,498.3 L841.9,499.4 L842.3,512.1 L842.6,519.7 L843.0,494.4 L843.3,494.8 L843.6,495.6 L844.0,494.7 L844.3,116.0 L844.6,503.5 L845.0,498.8 L845.3,483.3 L845.6,483.5 L846.0,439.0 L846.3,484.8 L846.6,497.9 L847.0,506.9 L847.3,522.8 L847.6,503.4 L848.0,496.0 L848.3,506.7 L848.7,546.0 L849.0,515.0 L849.3,528.7 L849.7,532.2 L850.0,518.6 L850.3,518.1 L850.7,520.2 L851.0,518.9 L851.3,526.5 L851.7,558.6 L852.0,537.1 L852.3,524.3 L852.7,518.8 L853.0,462.4 L853.4,515.8 L853.7,520.8 L854.0,523.4 L854.4,528.5 L854.7,513.3 L855.0,514.5 L855.4,518.7 L855.7,510.2 L856.0,513.2 L856.4,523.8 L856.7,529.7 L857.0,510.3 L857.4,511.9 L857.7,505.1 L858.1,509.0 L858.4,516.6 L858.7,526.1 L859.1,523.3 L859.4,513.8 L859.7,504.0 L860.1,513.5 L860.4,506.4 L860.7,508.4 L861.1,523.8 L861.4,526.1 L861.7,509.1 L862.1,505.1 L862.4,509.7 L862.8,514.5 L863.1,513.9 L863.4,524.3 L863.8,523.7 L864.1,510.9 L864.4,506.9 L864.8,506.3 L865.1,503.8 L865.4,509.6 L865.8,514.6 L866.1,522.5 L866.4,506.0 L866.8,501.5 L867.1,503.3 L867.4,509.2 L867.8,503.1 L868.1,516.2 L868.5,516.6 L868.8,505.8 L869.1,493.9 L869.5,500.9 L869.8,494.0 L870.1,499.8 L870.5,517.6 L870.8,509.2 L871.1,498.7 L871.5,487.1 L871.8,490.9 L872.1,495.8 L872.5,503.0 L872.8,508.9 L873.2,512.5 L873.5,487.3 L873.8,491.0 L874.2,490.5 L874.5,500.1 L874.8,493.6 L875.2,511.0 L875.5,504.2 L875.8,464.0 L876.2,490.0 L876.5,499.0 L876.8,498.4 L877.2,493.5 L877.5,506.5 L877.9,512.1 L878.2,486.1 L878.5,488.5 L878.9,484.0 L879.2,486.9 L879.5,494.6 L879.9,505.0 L880.2,515.4 L880.5,489.9 L880.9,488.9 L881.2,479.6 L881.5,490.7 L881.9,495.4 L882.2,515.4 L882.6,510.4 L882.9,493.5 L883.2,488.0 L883.6,488.9 L883.9,497.6 L884.2,495.7 L884.6,506.7 L884.9,509.0 L885.2,492.2 L885.6,496.7 L885.9,491.5 L886.2,490.6 L886.6,471.7 L886.9,510.6 L887.2,509.0 L887.6,495.0 L887.9,492.4 L888.3,498.5 L888.6,504.0 L888.9,511.6 L889.3,521.9 L889.6,536.9 L889.9,510.3 L890.3,509.7 L890.6,503.6 L890.9,504.6 L891.3,515.0 L891.6,520.0 L891.9,521.3 L892.3,505.1 L892.6,508.9 L893.0,510.7 L893.3,505.6 L893.6,513.9 L894.0,519.3 L894.3,526.0 L894.6,496.8 L895.0,505.6 L895.3,497.8 L895.6,503.7 L896.0,504.9 L896.3,513.3 L896.6,511.5 L897.0,501.3 L897.3,495.8 L897.7,505.9 L898.0,504.6 L898.3,512.7 L898.7,518.0 L899.0,516.0 L899.3,504.4 L899.7,502.6 L900.0,502.7 L900.3,506.1 L900.7,504.7 L901.0,512.9 L901.3,520.4 L901.7,507.2 L902.0,496.6 L902.4,503.4 L902.7,504.6 L903.0,507.3 L903.4,508.0 L903.7,506.1 L904.0,499.0 L904.4,488.4 L904.7,492.7 L905.0,498.6 L905.4,494.2 L905.7,473.0 L906.0,513.8 L906.4,494.4 L906.7,488.5 L907.0,484.2 L907.4,509.0 L907.7,499.2 L908.1,518.3 L908.4,513.6 L908.7,499.1 L909.1,502.9 L909.4,502.3 L909.7,496.3 L910.1,505.7 L910.4,518.1 L910.7,517.7 L911.1,509.9 L911.4,509.0 L911.7,507.5 L912.1,505.0 L912.4,517.6 L912.8,520.8 L913.1,527.0 L913.4,514.1 L913.8,541.5 L914.1,508.3 L914.4,513.5 L914.8,516.1 L915.1,522.6 L915.4,526.1 L915.8,509.1 L916.1,504.6 L916.4,501.3 L916.8,512.4 L917.1,499.9 L917.5,487.0 L917.8,512.5 L918.1,502.3 L918.5,500.8 L918.8,498.5 L919.1,512.8 L919.5,499.2 L919.8,519.6 L920.1,514.0 L920.5,502.3 L920.8,507.3 L921.1,506.7 L921.5,511.1 L921.8,508.2 L922.2,521.2 L922.5,521.0 L922.8,511.1 L923.2,507.2 L923.5,503.5 L923.8,504.2 L924.2,508.9 L924.5,524.5 L924.8,524.5 L925.2,502.6 L925.5,508.7 L925.8,514.4 L926.2,504.2 L926.5,510.6 L926.9,519.7 L927.2,524.7 L927.5,507.4 L927.9,502.8 L928.2,507.4 L928.5,515.4 L928.9,511.2 L929.2,519.0 L929.5,521.8 L929.9,502.1 L930.2,505.9 L930.5,504.2 L930.9,502.8 L931.2,508.1 L931.5,516.5 L931.9,522.5 L932.2,504.6 L932.6,497.8 L932.9,470.0 L933.2,498.6 L933.6,502.8 L933.9,511.3 L934.2,517.7 L934.6,483.3 L934.9,493.0 L935.2,498.9 L935.6,501.8 L935.9,494.3 L936.2,516.1 L936.6,504.8 L936.9,493.8 L937.3,496.6 L937.6,200.0 L937.9,493.3 L938.3,496.8 L938.6,503.4 L938.9,507.9 L939.3,489.9 L939.6,487.9 L939.9,450.0 L940.3,501.5 L940.6,501.8 L940.9,513.8 L941.3,512.4 L941.6,487.6 L942.0,496.4 L942.3,495.0 L942.6,503.8 L943.0,507.4 L943.3,524.4 L943.6,523.1 L944.0,514.9 L944.3,509.7 L944.6,506.9 L945.0,514.0 L945.3,516.6 L945.6,526.9 L946.0,525.9 L946.3,508.4 L946.7,512.8 L947.0,511.6 L947.3,509.4 L947.7,515.8 L948.0,527.9 L948.3,524.7 L948.7,506.0 L949.0,516.6 L949.3,514.9 L949.7,511.7 L950.0,519.1 L950.3,523.4 L950.7,525.7 L951.0,513.4 L951.3,514.1 L951.7,513.9 L952.0,502.8 L952.4,515.3 L952.7,519.5 L953.0,525.0 L953.4,510.2 L953.7,509.0 L954.0,510.2 L954.4,513.4 L954.7,524.0 L955.0,534.6 L955.4,517.8 L955.7,509.6 L956.0,508.0 L956.4,509.9 L956.7,515.0 L957.1,508.9 L957.4,531.4 L957.7,521.6 L958.1,506.7 L958.4,512.7 L958.7,511.9 L959.1,511.1 L959.4,514.7 L959.7,520.4 L960.1,526.6 L960.4,511.8 L960.7,502.8 L961.1,504.4 L961.4,508.1 L961.8,512.6 L962.1,514.2 L962.4,511.3 L962.8,493.3 L963.1,494.5 L963.4,499.4 L963.8,489.6 L964.1,494.6 L964.4,507.7 L964.8,509.5 L965.1,486.1 L965.4,480.8 L965.8,492.5 L966.1,484.8 L966.5,493.8 L966.8,500.8 L967.1,497.7 L967.5,478.9 L967.8,478.9 L968.1,480.5 L968.5,483.3 L968.8,487.6 L969.1,500.9 L969.5,494.0 L969.8,482.3 L970.1,465.5 L970.5,479.5 L970.8,475.2 L971.1,483.1 L971.5,499.1 L971.8,498.3 L972.2,481.9 L972.5,481.2 L972.8,485.4 L973.2,482.9 L973.5,481.9 L973.8,497.1 L974.2,495.2 L974.5,479.3 L974.8,471.5 L975.2,477.6 L975.5,475.1 L975.8,466.4 L976.2,491.3 L976.5,496.1 L976.9,475.5 L977.2,477.7 L977.5,442.2 L977.9,479.4 L978.2,494.1 L978.5,527.5 L978.9,511.1 L979.2,486.2 L979.5,489.4 L979.9,485.0 L980.2,482.0 L980.5,488.0 L980.9,502.3 L981.2,501.4 L981.6,477.6 L981.9,483.3 L982.2,491.2 L982.6,484.0 L982.9,489.3 L983.2,495.1 L983.6,498.0 L983.9,483.4 L984.2,475.0 L984.6,480.4 L984.9,477.4 L985.2,486.4 L985.6,494.9 L985.9,510.7 L986.3,479.3 L986.6,481.0 L986.9,476.5 L987.3,483.4 L987.6,482.2 L987.9,502.9 L988.3,494.0 L988.6,481.5 L988.9,478.1 L989.3,474.6 L989.6,475.5 L989.9,479.4 L990.3,489.1 L990.6,491.2 L990.9,470.6 L991.3,473.5 L991.6,465.8 L992.0,473.6 L992.3,470.1 L992.6,475.7 L993.0,479.3 L993.3,462.7 L993.6,457.7 L994.0,451.8 L994.3,455.1 L994.6,464.7 L995.0,471.6 L995.3,472.6 L995.6,443.0 L996.0,458.7 L996.3,450.4 L996.7,456.2 L997.0,442.5 L997.3,469.5 L997.7,461.7 L998.0,440.5 L998.3,440.8 L998.7,437.2 L999.0,445.7 L999.3,452.4 L999.7,447.5 L1000.0,470.9 L1000.3,448.5 L1000.7,441.4 L1001.0,435.4 L1001.4,444.8 L1001.7,444.0 L1002.0,457.8 L1002.4,459.6 L1002.7,440.3 L1003.0,436.3 L1003.4,438.2 L1003.7,442.4 L1004.0,452.5 L1004.4,465.0 L1004.7,455.2 L1005.0,451.9 L1005.4,446.2 L1005.7,447.7 L1006.1,451.6 L1006.4,458.6 L1006.7,480.8 L1007.1,480.0 L1007.4,451.9 L1007.7,449.9 L1008.1,464.6 L1008.4,463.2 L1008.7,474.6 L1009.1,480.6 L1009.4,474.7 L1009.7,459.3 L1010.1,450.0 L1010.4,449.7 L1010.8,467.6 L1011.1,468.6 L1011.4,484.8 L1011.8,480.3 L1012.1,462.2 L1012.4,463.0 L1012.8,466.4 L1013.1,472.4 L1013.4,466.3 L1013.8,480.5 L1014.1,492.6 L1014.4,471.7 L1014.8,468.2 L1015.1,470.6 L1015.4,471.7 L1015.8,476.9 L1016.1,486.6 L1016.5,492.3 L1016.8,474.3 L1017.1,464.4 L1017.5,465.5 L1017.8,475.9 L1018.1,481.1 L1018.5,491.9 L1018.8,494.4 L1019.1,480.5 L1019.5,484.5 L1019.8,484.0 L1020.1,482.0 L1020.5,484.8 L1020.8,497.7 L1021.2,495.5 L1021.5,485.0 L1021.8,485.3 L1022.2,493.5 L1022.5,489.9 L1022.8,491.1 L1023.2,507.7 L1023.5,506.7 L1023.8,486.9 L1024.2,489.1 L1024.5,494.4 L1024.8,491.2 L1025.2,490.8 L1025.5,505.9 L1025.9,496.3 L1026.2,501.1 L1026.5,495.2 L1026.9,489.8 L1027.2,489.5 L1027.5,496.2 L1027.9,500.6 L1028.2,497.7 L1028.5,482.8 L1028.9,479.1 L1029.2,472.7 L1029.5,487.0 L1029.9,484.5 L1030.2,494.9 L1030.6,494.0 L1030.9,470.2 L1031.2,466.0 L1031.6,461.7 L1031.9,470.0 L1032.2,469.3 L1032.6,384.8 L1032.9,475.5 L1033.2,457.0 L1033.6,450.9 L1033.9,461.3 L1034.2,463.0 L1034.6,475.1 L1034.9,473.9 L1035.2,477.8 L1035.6,456.8 L1035.9,451.9 L1036.3,465.2 L1036.6,465.7 L1036.9,460.9 L1037.3,486.1 L1037.6,491.5 L1037.9,456.9 L1038.3,469.6 L1038.6,471.4 L1038.9,470.5 L1039.3,480.2 L1039.6,497.1 L1039.9,509.6 L1040.3,489.3 L1040.6,488.8 L1041.0,486.7 L1041.3,496.5 L1041.6,494.0 L1042.0,513.3 L1042.3,511.4 L1042.6,496.3 L1043.0,488.7 L1043.3,492.8 L1043.6,492.9 L1044.0,504.1 L1044.3,522.0 L1044.6,511.3 L1045.0,493.8 L1045.3,501.7 L1045.7,486.8 L1046.0,502.2 L1046.3,501.7 L1046.7,517.4 L1047.0,520.5 L1047.3,502.4 L1047.7,507.3 L1048.0,497.9 L1048.3,498.2 L1048.7,499.4 L1049.0,512.8 L1049.3,509.9 L1049.7,486.5 L1050.0,487.0 L1050.4,428.3 L1050.7,492.7 L1051.0,494.4 L1051.4,505.7 L1051.7,512.4 L1052.0,491.9 L1052.4,493.7 L1052.7,506.1 L1053.0,497.5 L1053.4,502.4 L1053.7,520.7 L1054.0,519.2 L1054.4,499.6 L1054.7,490.1 L1055.0,503.5 L1055.4,509.7 L1055.7,506.5 L1056.1,519.5 L1056.4,524.2 L1056.7,510.5 L1057.1,508.9 L1057.4,511.7 L1057.7,510.3 L1058.1,510.1 L1058.4,528.7 L1058.7,528.7 L1059.1,509.4 L1059.4,512.7 L1059.7,513.8 L1060.1,517.8 L1060.4,509.1 L1060.8,527.4 L1061.1,522.2 L1061.4,514.2 L1061.8,507.0 L1062.1,519.8 L1062.4,517.1 L1062.8,529.6 L1063.1,526.0 L1063.4,525.8 L1063.8,516.4 L1064.1,505.7 L1064.4,503.4 L1064.8,506.8 L1065.1,509.0 L1065.5,524.2 L1065.8,520.0 L1066.1,509.9 L1066.5,501.5 L1066.8,510.4 L1067.1,502.3 L1067.5,500.3 L1067.8,514.3 L1068.1,520.7 L1068.5,502.8 L1068.8,491.2 L1069.1,499.1 L1069.5,495.4 L1069.8,500.8 L1070.2,503.8 L1070.5,510.5 L1070.8,487.1 L1071.2,491.2 L1071.5,489.5 L1071.8,498.8 L1072.2,483.6 L1072.5,499.1 L1072.8,505.5 L1073.2,485.6 L1073.5,477.4 L1073.8,476.5 L1074.2,486.2 L1074.5,486.1 L1074.8,487.6 L1075.2,494.1 L1075.5,478.5 L1075.9,475.6 L1076.2,472.8 L1076.5,477.5 L1076.9,477.5 L1077.2,501.2 L1077.5,495.5 L1077.9,475.5 L1078.2,472.5 L1078.5,479.0 L1078.9,479.0 L1079.2,482.3 L1079.5,492.8 L1079.9,490.6 L1080.2,471.3 L1080.6,469.1 L1080.9,465.6 L1081.2,471.6 L1081.6,480.7 L1081.9,488.4 L1082.2,489.2 L1082.6,474.3 L1082.9,468.9 L1083.2,466.2 L1083.6,459.2 L1083.9,469.8 L1084.2,487.3 L1084.6,482.7 L1084.9,468.0 L1085.3,454.7 L1085.6,460.8 L1085.9,453.9 L1086.3,466.1 L1086.6,476.5 L1086.9,484.0 L1087.3,456.7 L1087.6,456.9 L1087.9,458.0 L1088.3,464.2 L1088.6,461.7 L1088.9,484.6 L1089.3,472.7 L1089.6,455.0 L1090.0,439.4 L1090.3,460.4 L1090.6,442.2 L1091.0,461.2 L1091.3,479.6 L1091.6,476.3 L1092.0,464.9 L1092.3,459.5 L1092.6,454.1 L1093.0,469.5 L1093.3,467.3 L1093.6,478.3 L1094.0,481.1 L1094.3,459.2 L1094.7,466.8 L1095.0,471.5 L1095.3,469.2 L1095.7,475.3 L1096.0,491.5 L1096.3,486.7 L1096.7,484.1 L1097.0,473.1 L1097.3,480.3 L1097.7,484.4 L1098.0,486.7 L1098.3,498.2 L1098.7,496.2 L1099.0,470.3 L1099.3,465.5 L1099.7,469.7 L1100.0,472.1 L1100.4,478.1 L1100.7,478.0 L1101.0,478.1 L1101.4,463.2 L1101.7,452.4 L1102.0,448.5 L1102.4,460.7 L1102.7,458.1 L1103.0,475.8 L1103.4,475.4 L1103.7,451.1 L1104.0,463.7 L1104.4,440.4 L1104.7,460.4 L1105.1,383.0 L1105.4,492.8 L1105.7,466.2 L1106.1,455.3 L1106.4,464.1 L1106.7,458.2 L1107.1,458.8 L1107.4,468.2 L1107.7,484.6 L1108.1,485.2 L1108.4,466.1 L1108.7,457.1 L1109.1,462.4 L1109.4,460.7 L1109.8,472.1 L1110.1,496.8 L1110.4,487.2 L1110.8,461.4 L1111.1,473.4 L1111.4,470.8 L1111.8,469.1 L1112.1,479.6 L1112.4,493.0 L1112.8,495.6 L1113.1,470.3 L1113.4,461.0 L1113.8,469.9 L1114.1,474.7 L1114.5,479.0 L1114.8,496.6 L1115.1,497.5 L1115.5,485.1 L1115.8,477.2 L1116.1,471.6 L1116.5,477.0 L1116.8,479.0 L1117.1,499.4 L1117.5,498.7 L1117.8,481.3 L1118.1,478.7 L1118.5,489.8 L1118.8,489.0 L1119.1,498.2 L1119.5,508.4 L1119.8,509.3 L1120.2,489.6 L1120.5,498.4 L1120.8,496.1 L1121.2,506.0 L1121.5,494.9 L1121.8,506.5 L1122.2,511.6 L1122.5,498.9 L1122.8,499.0 L1123.2,496.2 L1123.5,500.3 L1123.8,503.4 L1124.2,515.6 L1124.5,507.7 L1124.9,499.9 L1125.2,497.7 L1125.5,488.8 L1125.9,492.9 L1126.2,491.2 L1126.5,505.2 L1126.9,510.0 L1127.2,490.3 L1127.5,495.5 L1127.9,492.0 L1128.2,488.6 L1128.5,495.9 L1128.9,505.8 L1129.2,500.3 L1129.6,443.7 L1129.9,497.5 L1130.2,483.2 L1130.6,502.2 L1130.9,497.4 L1131.2,508.9 L1131.6,509.2 L1131.9,495.7 L1132.2,496.1 L1132.6,485.8 L1132.9,502.2 L1133.2,503.4 L1133.6,512.7 L1133.9,512.9 L1134.3,490.0 L1134.6,492.5 L1134.9,494.4 L1135.3,495.5 L1135.6,499.0 L1135.9,513.7 L1136.3,514.3 L1136.6,499.3 L1136.9,496.5 L1137.3,497.9 L1137.6,498.9 L1137.9,497.1 L1138.3,520.8 L1138.6,511.4 L1138.9,492.5 L1139.3,490.0 L1139.6,490.8 L1140.0,487.1 L1140.3,492.8 L1140.6,503.2 L1141.0,505.6 L1141.3,485.2 L1141.6,479.9 L1142.0,479.6 L1142.3,479.9 L1142.6,446.8 L1143.0,495.4 L1143.3,502.2 L1143.6,484.4 L1144.0,476.3 L1144.3,478.4 L1144.7,484.2 L1145.0,471.4 L1145.3,494.8 L1145.7,490.2 L1146.0,471.8 L1146.3,465.5 L1146.7,469.1 L1147.0,472.3 L1147.3,474.2 L1147.7,486.6 L1148.0,485.9 L1148.3,471.6 L1148.7,460.8 L1149.0,472.2 L1149.4,480.3 L1149.7,474.0 L1150.0,495.8 L1150.4,482.7 L1150.7,471.2 L1151.0,469.8 L1151.4,462.9 L1151.7,469.9 L1152.0,472.1 L1152.4,484.9 L1152.7,492.9 L1153.0,472.6 L1153.4,469.8 L1153.7,469.9 L1154.1,471.7 L1154.4,470.6 L1154.7,493.4 L1155.1,496.8 L1155.4,468.6 L1155.7,415.8 L1156.1,472.0 L1156.4,482.9 L1156.7,487.0 L1157.1,498.6 L1157.4,503.6 L1157.7,475.0 L1158.1,478.2 L1158.4,468.5 L1158.7,479.4 L1159.1,477.5 L1159.4,483.9 L1159.8,493.6 L1160.1,465.7 L1160.4,466.7 L1160.8,471.6 L1161.1,464.8 L1161.4,462.9 L1161.8,470.1 L1162.1,484.1 L1162.4,456.2 L1162.8,449.0 L1163.1,456.1 L1163.4,458.1 L1163.8,459.0 L1164.1,479.8 L1164.5,468.4 L1164.8,447.8 L1165.1,447.7 L1165.5,447.2 L1165.8,452.4 L1166.1,448.5 L1166.5,459.7 L1166.8,475.7 L1167.1,431.6 L1167.5,432.0 L1167.8,439.6 L1168.1,440.5 L1168.5,442.9 L1168.8,451.7 L1169.2,460.5 L1169.5,434.8 L1169.8,430.0 L1170.2,421.2 L1170.5,430.1 L1170.8,442.6 L1171.2,445.2 L1171.5,452.2 L1171.8,429.5 L1172.2,414.0 L1172.5,433.6 L1172.8,435.5 L1173.2,441.6 L1173.5,458.2 L1173.9,461.5 L1174.2,427.2 L1174.5,433.9 L1174.9,441.2 L1175.2,447.7 L1175.5,437.8 L1175.9,467.4 L1176.2,466.1 L1176.5,455.3 L1176.9,450.7 L1177.2,445.7 L1177.5,456.3 L1177.9,454.9 L1178.2,469.9 L1178.6,479.3 L1178.9,459.8 L1179.2,458.3 L1179.6,460.8 L1179.9,462.2 L1180.2,465.8 L1180.6,477.7 L1180.9,476.6 L1181.2,453.6 L1181.6,448.7 L1181.9,449.9 L1182.2,453.2 L1182.6,444.2 L1182.9,417.4 L1183.2,467.6 L1183.6,448.6 L1183.9,434.6 L1184.3,456.7 L1184.6,447.1 L1184.9,453.0 L1185.3,462.5 L1185.6,464.3 L1185.9,446.6 L1186.3,450.8 L1186.6,449.5 L1186.9,458.5 L1187.3,458.3 L1187.6,480.8 L1187.9,475.1 L1188.3,464.5 L1188.6,461.3 L1189.0,461.2 L1189.3,465.8 L1189.6,469.4 L1190.0,484.4 L1190.3,482.4 L1190.6,451.9 L1191.0,458.2 L1191.3,461.3 L1191.6,468.7 L1192.0,454.0 L1192.3,442.0 L1192.6,479.7 L1193.0,454.5 L1193.3,446.9 L1193.7,459.6 L1194.0,462.1 L1194.3,466.9 L1194.7,476.4 L1195.0,472.8 L1195.3,458.2 L1195.7,466.4 L1196.0,461.1 L1196.3,468.5 L1196.7,471.6 L1197.0,488.5 L1197.3,484.0 L1197.7,463.7 L1198.0,464.4 L1198.4,471.3 L1198.7,472.8 L1199.0,479.4 L1199.4,489.1 L1199.7,486.8 L1200.0,470.0 L1200.4,468.3 L1200.7,453.1 L1201.0,476.6 L1201.4,477.0 L1201.7,498.4 L1202.0,487.6 L1202.4,475.4 L1202.7,464.8 L1203.0,461.3 L1203.4,475.4 L1203.7,479.0 L1204.1,498.7 L1204.4,498.4 L1204.7,483.2 L1205.1,471.8 L1205.4,474.4 L1205.7,471.9 L1206.1,477.1 L1206.4,489.2 L1206.7,499.8 L1207.1,486.6 L1207.4,481.7 L1207.7,378.6 L1208.1,482.9 L1208.4,485.0 L1208.8,505.3 L1209.1,507.8 L1209.4,483.7 L1209.8,493.8 L1210.1,480.4 L1210.4,498.8 L1210.8,486.3 L1211.1,513.6 L1211.4,508.6 L1211.8,485.1 L1212.1,490.5 L1212.4,481.2 L1212.8,468.5 L1213.1,496.4 L1213.5,513.0 L1213.8,532.0 L1214.1,484.8 L1214.5,455.8 L1214.8,440.1 L1215.1,433.6 L1215.5,447.2 L1215.8,479.9 L1216.1,477.1 L1216.5,431.4 L1216.8,433.8 L1217.1,416.7 L1217.5,440.4 L1217.8,423.8 L1218.2,334.8 L1218.5,464.0 L1218.8,407.0 L1219.2,399.9 L1219.5,391.2 L1219.8,402.6 L1220.2,391.1 L1220.5,445.0 L1220.8,440.5 L1221.2,382.1 L1221.5,388.3 L1221.8,345.9 L1222.2,370.0 L1222.5,413.8 L1222.8,425.9 L1223.2,440.0 L1223.5,338.9 L1223.9,374.4 L1224.2,185.5 L1224.5,339.3 L1224.9,183.0 L1225.2,420.5 L1225.5,242.6 L1225.9,317.0 L1226.2,239.8 L1226.5,306.9 L1226.9,240.8 L1227.2,304.0 L1227.5,240.8 L1227.9,387.6 L1228.2,195.0 L1228.6,391.3 L1228.9,195.9 L1229.2,303.2 L1229.6,195.3 L1229.9,335.0 L1230.2,194.3 L1230.6,338.3 L1230.9,195.0 L1231.2,359.5 L1231.6,153.2 L1231.9,373.5 L1232.2,152.1 L1232.6,341.4 L1232.9,248.1 L1233.3,352.4 L1233.6,215.0 L1233.9,309.0 L1234.3,369.5 L1234.6,426.7 L1234.9,434.6 L1235.3,392.6 L1235.6,382.6 L1235.9,365.8 L1236.3,386.0 L1236.6,428.5 L1236.9,449.0 L1237.3,431.7 L1237.6,386.7 L1238.0,274.8 L1238.3,406.5 L1238.6,395.3 L1239.0,432.9 L1239.3,459.0 L1239.6,464.0 L1240.0,417.6 L1240.3,387.1 L1240.6,378.1 L1241.0,387.0 L1241.3,400.4 L1241.6,411.0 L1242.0,422.1 L1242.3,371.3 L1242.6,346.3 L1243.0,345.6 L1243.3,345.4" fill="none" stroke="#7565ec" stroke-width="1.45" stroke-linejoin="round"/>
<path d="M110.0,636.0 L110.3,636.4 L110.7,636.4 L111.0,636.5 L111.3,636.5 L111.7,636.6 L112.0,636.4 L112.3,636.4 L112.7,636.4 L113.0,636.4 L113.4,636.4 L113.7,636.3 L114.0,636.3 L114.4,636.4 L114.7,636.3 L115.0,636.3 L115.4,636.3 L115.7,636.3 L116.0,636.3 L116.4,636.3 L116.7,636.2 L117.0,636.2 L117.4,636.2 L117.7,636.2 L118.1,636.2 L118.4,636.2 L118.7,636.2 L119.1,636.2 L119.4,636.2 L119.7,636.2 L120.1,636.2 L120.4,636.2 L120.7,636.2 L121.1,636.2 L121.4,636.2 L121.7,636.1 L122.1,636.1 L122.4,636.1 L122.8,636.1 L123.1,636.0 L123.4,636.0 L123.8,635.9 L124.1,635.9 L124.4,635.9 L124.8,635.9 L125.1,635.9 L125.4,635.9 L125.8,635.9 L126.1,635.8 L126.4,635.8 L126.8,635.8 L127.1,635.8 L127.5,635.7 L127.8,635.7 L128.1,635.7 L128.5,635.7 L128.8,635.7 L129.1,635.7 L129.5,635.7 L129.8,635.7 L130.1,635.7 L130.5,635.7 L130.8,635.6 L131.1,635.6 L131.5,635.6 L131.8,635.5 L132.1,635.4 L132.5,635.4 L132.8,635.3 L133.2,635.2 L133.5,635.2 L133.8,635.1 L134.2,634.9 L134.5,634.8 L134.8,634.7 L135.2,634.7 L135.5,634.5 L135.8,634.3 L136.2,634.1 L136.5,633.9 L136.8,633.6 L137.2,633.3 L137.5,633.0 L137.9,632.8 L138.2,632.4 L138.5,632.1 L138.9,631.7 L139.2,631.4 L139.5,631.0 L139.9,630.6 L140.2,630.1 L140.5,629.7 L140.9,629.2 L141.2,628.8 L141.5,628.4 L141.9,628.1 L142.2,627.8 L142.6,627.7 L142.9,627.3 L143.2,627.1 L143.6,627.1 L143.9,627.1 L144.2,627.2 L144.6,627.4 L144.9,627.7 L145.2,628.4 L145.6,628.7 L145.9,628.8 L146.2,628.9 L146.6,629.0 L146.9,629.0 L147.3,628.9 L147.6,628.5 L147.9,628.0 L148.3,627.6 L148.6,627.1 L148.9,626.8 L149.3,626.6 L149.6,626.5 L149.9,626.6 L150.3,626.9 L150.6,627.1 L150.9,627.4 L151.3,627.7 L151.6,627.9 L151.9,628.2 L152.3,628.2 L152.6,628.3 L153.0,628.6 L153.3,628.9 L153.6,628.6 L154.0,628.8 L154.3,628.5 L154.6,628.7 L155.0,628.5 L155.3,628.1 L155.6,627.6 L156.0,627.5 L156.3,627.1 L156.6,626.5 L157.0,625.9 L157.3,625.2 L157.7,624.5 L158.0,624.2 L158.3,623.6 L158.7,623.3 L159.0,623.4 L159.3,622.6 L159.7,622.1 L160.0,622.0 L160.3,622.1 L160.7,621.7 L161.0,620.9 L161.3,620.4 L161.7,620.0 L162.0,619.3 L162.4,618.2 L162.7,616.4 L163.0,615.9 L163.4,615.8 L163.7,615.1 L164.0,614.4 L164.4,614.1 L164.7,613.8 L165.0,613.2 L165.4,612.2 L165.7,611.5 L166.0,610.8 L166.4,610.4 L166.7,609.2 L167.1,608.0 L167.4,607.3 L167.7,606.6 L168.1,606.1 L168.4,605.2 L168.7,603.8 L169.1,602.9 L169.4,602.0 L169.7,601.1 L170.1,600.1 L170.4,598.6 L170.7,597.2 L171.1,596.0 L171.4,594.7 L171.8,592.9 L172.1,591.3 L172.4,589.5 L172.8,589.2 L173.1,588.2 L173.4,587.4 L173.8,586.5 L174.1,585.7 L174.4,584.7 L174.8,584.4 L175.1,582.9 L175.4,583.5 L175.8,582.8 L176.1,583.3 L176.4,583.4 L176.8,584.8 L177.1,585.8 L177.5,586.9 L177.8,587.4 L178.1,588.4 L178.5,589.0 L178.8,590.3 L179.1,590.4 L179.5,590.5 L179.8,591.2 L180.1,592.3 L180.5,592.8 L180.8,592.9 L181.1,592.8 L181.5,593.9 L181.8,593.9 L182.2,594.1 L182.5,592.5 L182.8,593.6 L183.2,593.7 L183.5,593.5 L183.8,593.3 L184.2,594.0 L184.5,594.0 L184.8,594.8 L185.2,594.0 L185.5,594.4 L185.8,595.3 L186.2,594.6 L186.5,594.6 L186.9,594.5 L187.2,594.6 L187.5,594.4 L187.9,593.9 L188.2,592.7 L188.5,592.1 L188.9,590.5 L189.2,589.9 L189.5,589.4 L189.9,588.6 L190.2,588.3 L190.5,587.3 L190.9,586.9 L191.2,586.8 L191.6,585.5 L191.9,583.7 L192.2,582.2 L192.6,581.2 L192.9,580.9 L193.2,580.1 L193.6,578.5 L193.9,578.2 L194.2,577.3 L194.6,576.3 L194.9,573.0 L195.2,571.5 L195.6,569.7 L195.9,569.1 L196.2,568.0 L196.6,567.9 L196.9,567.4 L197.3,567.6 L197.6,566.9 L197.9,567.2 L198.3,568.0 L198.6,568.5 L198.9,567.1 L199.3,566.6 L199.6,567.6 L199.9,567.2 L200.3,566.6 L200.6,564.5 L200.9,563.7 L201.3,564.9 L201.6,566.0 L202.0,566.2 L202.3,566.4 L202.6,568.5 L203.0,570.8 L203.3,572.1 L203.6,573.4 L204.0,575.1 L204.3,577.6 L204.6,580.8 L205.0,581.7 L205.3,583.5 L205.6,585.7 L206.0,587.3 L206.3,588.7 L206.7,588.0 L207.0,588.4 L207.3,589.1 L207.7,589.7 L208.0,589.0 L208.3,588.6 L208.7,587.9 L209.0,589.1 L209.3,589.5 L209.7,589.9 L210.0,590.0 L210.3,590.0 L210.7,589.9 L211.0,590.1 L211.4,589.7 L211.7,588.5 L212.0,586.8 L212.4,585.1 L212.7,583.6 L213.0,582.6 L213.4,580.6 L213.7,579.4 L214.0,578.5 L214.4,577.9 L214.7,576.6 L215.0,576.6 L215.4,575.7 L215.7,575.4 L216.0,574.5 L216.4,571.6 L216.7,570.3 L217.1,570.1 L217.4,569.1 L217.7,569.1 L218.1,568.9 L218.4,567.3 L218.7,568.8 L219.1,568.6 L219.4,567.7 L219.7,567.2 L220.1,566.2 L220.4,565.7 L220.7,567.0 L221.1,567.9 L221.4,569.9 L221.8,572.2 L222.1,574.1 L222.4,575.7 L222.8,576.6 L223.1,577.2 L223.4,576.7 L223.8,575.5 L224.1,573.8 L224.4,572.8 L224.8,572.7 L225.1,569.7 L225.4,567.2 L225.8,566.6 L226.1,564.5 L226.5,562.6 L226.8,558.8 L227.1,554.7 L227.5,553.6 L227.8,550.0 L228.1,544.8 L228.5,541.3 L228.8,537.1 L229.1,536.2 L229.5,533.8 L229.8,529.5 L230.1,525.6 L230.5,522.0 L230.8,517.1 L231.2,514.4 L231.5,508.2 L231.8,503.7 L232.2,500.6 L232.5,497.2 L232.8,492.4 L233.2,491.2 L233.5,486.5 L233.8,484.0 L234.2,483.6 L234.5,479.2 L234.8,473.7 L235.2,471.1 L235.5,465.5 L235.8,463.3 L236.2,460.7 L236.5,455.0 L236.9,450.2 L237.2,441.9 L237.5,436.2 L237.9,431.2 L238.2,422.5 L238.5,417.4 L238.9,411.8 L239.2,404.3 L239.5,402.7 L239.9,399.5 L240.2,389.8 L240.5,389.9 L240.9,387.2 L241.2,384.3 L241.6,384.1 L241.9,382.8 L242.2,381.2 L242.6,383.2 L242.9,383.2 L243.2,384.2 L243.6,389.9 L243.9,390.2 L244.2,387.5 L244.6,387.8 L244.9,390.5 L245.2,388.7 L245.6,390.9 L245.9,392.5 L246.3,398.2 L246.6,410.5 L246.9,417.5 L247.3,426.2 L247.6,436.1 L247.9,440.6 L248.3,445.1 L248.6,450.4 L248.9,454.4 L249.3,458.1 L249.6,461.8 L249.9,464.8 L250.3,468.8 L250.6,470.5 L251.0,472.9 L251.3,474.4 L251.6,477.2 L252.0,477.9 L252.3,480.6 L252.6,482.0 L253.0,484.8 L253.3,488.2 L253.6,491.5 L254.0,495.3 L254.3,498.7 L254.6,500.9 L255.0,503.6 L255.3,504.6 L255.7,505.0 L256.0,505.5 L256.3,505.6 L256.7,507.1 L257.0,507.1 L257.3,507.4 L257.7,508.2 L258.0,509.2 L258.3,509.5 L258.7,511.2 L259.0,511.1 L259.3,511.8 L259.7,512.6 L260.0,513.9 L260.3,515.2 L260.7,517.1 L261.0,510.0 L261.4,512.2 L261.7,511.9 L262.0,512.5 L262.4,512.6 L262.7,513.5 L263.0,514.7 L263.4,523.3 L263.7,523.1 L264.0,525.0 L264.4,526.7 L264.7,527.1 L265.0,528.5 L265.4,529.9 L265.7,530.4 L266.1,530.8 L266.4,531.1 L266.7,531.5 L267.1,533.4 L267.4,534.7 L267.7,535.7 L268.1,536.7 L268.4,539.3 L268.7,539.8 L269.1,540.8 L269.4,540.3 L269.7,540.2 L270.1,539.2 L270.4,539.5 L270.8,539.8 L271.1,539.7 L271.4,538.6 L271.8,537.7 L272.1,537.0 L272.4,537.3 L272.8,536.7 L273.1,534.6 L273.4,533.9 L273.8,533.3 L274.1,533.3 L274.4,532.0 L274.8,528.5 L275.1,527.0 L275.5,525.4 L275.8,524.5 L276.1,521.6 L276.5,518.5 L276.8,516.4 L277.1,515.4 L277.5,511.6 L277.8,510.6 L278.1,509.5 L278.5,510.8 L278.8,512.6 L279.1,511.8 L279.5,512.7 L279.8,515.6 L280.1,514.8 L280.5,496.0 L280.8,493.1 L281.2,492.0 L281.5,490.1 L281.8,490.2 L282.2,486.0 L282.5,485.5 L282.8,503.7 L283.2,503.7 L283.5,501.5 L283.8,501.8 L284.2,500.7 L284.5,501.9 L284.8,501.9 L285.2,502.0 L285.5,504.2 L285.9,505.5 L286.2,506.5 L286.5,506.0 L286.9,506.7 L287.2,507.3 L287.5,506.1 L287.9,504.9 L288.2,504.5 L288.5,503.5 L288.9,502.9 L289.2,502.4 L289.5,502.9 L289.9,502.0 L290.2,501.8 L290.6,502.1 L290.9,503.9 L291.2,504.5 L291.6,506.8 L291.9,507.4 L292.2,510.1 L292.6,511.9 L292.9,515.4 L293.2,515.8 L293.6,518.3 L293.9,517.5 L294.2,517.8 L294.6,518.7 L294.9,517.6 L295.3,516.1 L295.6,518.0 L295.9,517.6 L296.3,519.0 L296.6,519.6 L296.9,519.9 L297.3,522.2 L297.6,522.3 L297.9,520.3 L298.3,520.9 L298.6,522.3 L298.9,524.3 L299.3,525.5 L299.6,525.4 L299.9,526.9 L300.3,532.6 L300.6,535.9 L301.0,538.8 L301.3,538.5 L301.6,540.9 L302.0,543.7 L302.3,546.1 L302.6,545.1 L303.0,543.1 L303.3,542.3 L303.6,543.5 L304.0,541.3 L304.3,540.7 L304.6,539.2 L305.0,538.9 L305.3,539.4 L305.7,538.2 L306.0,536.1 L306.3,536.1 L306.7,535.0 L307.0,533.7 L307.3,531.6 L307.7,531.0 L308.0,530.5 L308.3,531.9 L308.7,530.6 L309.0,528.9 L309.3,527.1 L309.7,527.5 L310.0,528.3 L310.4,527.5 L310.7,526.5 L311.0,527.3 L311.4,528.9 L311.7,530.6 L312.0,530.9 L312.4,530.4 L312.7,531.8 L313.0,533.0 L313.4,534.5 L313.7,534.6 L314.0,536.3 L314.4,537.6 L314.7,538.4 L315.1,538.9 L315.4,539.0 L315.7,538.5 L316.1,538.5 L316.4,539.5 L316.7,541.1 L317.1,540.9 L317.4,543.2 L317.7,545.0 L318.1,546.8 L318.4,547.7 L318.7,546.9 L319.1,545.6 L319.4,545.6 L319.7,544.5 L320.1,543.0 L320.4,542.5 L320.8,542.1 L321.1,542.8 L321.4,544.5 L321.8,547.6 L322.1,547.9 L322.4,549.3 L322.8,549.7 L323.1,550.6 L323.4,550.7 L323.8,550.9 L324.1,550.2 L324.4,552.1 L324.8,553.1 L325.1,555.0 L325.5,555.9 L325.8,557.1 L326.1,558.0 L326.5,558.8 L326.8,558.0 L327.1,557.7 L327.5,557.8 L327.8,558.3 L328.1,559.0 L328.5,558.3 L328.8,557.4 L329.1,557.8 L329.5,558.2 L329.8,558.3 L330.2,558.0 L330.5,557.5 L330.8,557.4 L331.2,558.5 L331.5,558.3 L331.8,557.9 L332.2,557.3 L332.5,557.7 L332.8,557.1 L333.2,557.5 L333.5,557.3 L333.8,558.5 L334.2,558.2 L334.5,558.4 L334.9,557.8 L335.2,558.0 L335.5,558.3 L335.9,558.1 L336.2,555.6 L336.5,555.5 L336.9,554.9 L337.2,554.8 L337.5,554.0 L337.9,554.4 L338.2,553.7 L338.5,555.1 L338.9,556.3 L339.2,556.9 L339.6,557.4 L339.9,557.1 L340.2,556.4 L340.6,557.1 L340.9,556.6 L341.2,555.3 L341.6,554.9 L341.9,553.9 L342.2,554.8 L342.6,555.6 L342.9,555.6 L343.2,556.7 L343.6,557.2 L343.9,557.4 L344.2,558.4 L344.6,558.6 L344.9,558.7 L345.3,559.4 L345.6,559.6 L345.9,560.9 L346.3,561.2 L346.6,560.4 L346.9,561.9 L347.3,561.1 L347.6,560.6 L347.9,560.3 L348.3,560.2 L348.6,560.6 L348.9,561.4 L349.3,560.3 L349.6,560.9 L350.0,561.0 L350.3,561.1 L350.6,559.6 L351.0,558.9 L351.3,559.0 L351.6,559.0 L352.0,559.5 L352.3,558.4 L352.6,558.7 L353.0,559.4 L353.3,560.7 L353.6,561.1 L354.0,561.2 L354.3,560.7 L354.7,561.9 L355.0,562.0 L355.3,562.2 L355.7,561.8 L356.0,562.0 L356.3,561.8 L356.7,562.1 L357.0,562.1 L357.3,562.0 L357.7,562.9 L358.0,563.2 L358.3,563.0 L358.7,562.4 L359.0,562.6 L359.4,562.5 L359.7,562.9 L360.0,562.7 L360.4,562.1 L360.7,562.9 L361.0,564.6 L361.4,564.8 L361.7,564.7 L362.0,564.2 L362.4,563.9 L362.7,564.1 L363.0,563.7 L363.4,563.1 L363.7,562.6 L364.0,563.9 L364.4,565.1 L364.7,566.1 L365.1,566.4 L365.4,566.0 L365.7,566.6 L366.1,567.9 L366.4,567.8 L366.7,567.3 L367.1,566.9 L367.4,567.7 L367.7,568.8 L368.1,568.6 L368.4,568.9 L368.7,569.7 L369.1,570.8 L369.4,571.3 L369.8,571.7 L370.1,571.9 L370.4,572.8 L370.8,573.3 L371.1,573.9 L371.4,574.5 L371.8,575.3 L372.1,576.3 L372.4,576.3 L372.8,576.8 L373.1,578.0 L373.4,578.4 L373.8,578.3 L374.1,579.3 L374.5,579.7 L374.8,581.7 L375.1,581.8 L375.5,581.4 L375.8,581.5 L376.1,581.5 L376.5,580.4 L376.8,578.7 L377.1,576.6 L377.5,574.1 L377.8,573.0 L378.1,570.5 L378.5,570.0 L378.8,569.3 L379.2,568.9 L379.5,568.3 L379.8,569.4 L380.2,569.2 L380.5,570.1 L380.8,569.7 L381.2,570.7 L381.5,570.5 L381.8,570.6 L382.2,570.5 L382.5,569.9 L382.8,569.7 L383.2,569.2 L383.5,567.7 L383.8,568.5 L384.2,567.9 L384.5,568.1 L384.9,567.9 L385.2,567.5 L385.5,567.4 L385.9,567.2 L386.2,566.2 L386.5,566.3 L386.9,565.6 L387.2,565.9 L387.5,565.6 L387.9,565.0 L388.2,564.8 L388.5,564.3 L388.9,564.4 L389.2,564.4 L389.6,564.6 L389.9,564.3 L390.2,564.2 L390.6,563.2 L390.9,563.1 L391.2,561.6 L391.6,561.1 L391.9,559.7 L392.2,558.8 L392.6,557.5 L392.9,557.0 L393.2,554.7 L393.6,554.3 L393.9,552.8 L394.3,551.2 L394.6,549.7 L394.9,549.5 L395.3,549.2 L395.6,549.8 L395.9,549.7 L396.3,549.6 L396.6,549.0 L396.9,549.3 L397.3,549.4 L397.6,549.3 L397.9,549.2 L398.3,548.9 L398.6,549.3 L399.0,548.2 L399.3,548.4 L399.6,548.1 L400.0,548.7 L400.3,549.6 L400.6,550.2 L401.0,550.9 L401.3,553.7 L401.6,554.0 L402.0,554.7 L402.3,555.0 L402.6,555.2 L403.0,556.1 L403.3,555.9 L403.6,556.9 L404.0,557.5 L404.3,557.1 L404.7,556.3 L405.0,556.2 L405.3,554.6 L405.7,554.4 L406.0,552.6 L406.3,550.7 L406.7,549.3 L407.0,547.4 L407.3,545.1 L407.7,544.2 L408.0,540.9 L408.3,538.4 L408.7,536.3 L409.0,534.3 L409.4,533.0 L409.7,530.9 L410.0,529.8 L410.4,529.9 L410.7,528.8 L411.0,528.7 L411.4,529.1 L411.7,528.9 L412.0,525.5 L412.4,525.0 L412.7,524.9 L413.0,525.4 L413.4,523.9 L413.7,522.9 L414.1,522.4 L414.4,526.1 L414.7,525.6 L415.1,524.2 L415.4,524.7 L415.7,525.4 L416.1,519.3 L416.4,518.8 L416.7,518.8 L417.1,518.6 L417.4,518.5 L417.7,517.6 L418.1,517.0 L418.4,524.4 L418.8,526.0 L419.1,527.2 L419.4,527.7 L419.8,530.3 L420.1,531.1 L420.4,532.1 L420.8,532.2 L421.1,532.7 L421.4,533.2 L421.8,535.3 L422.1,535.6 L422.4,536.5 L422.8,539.4 L423.1,539.7 L423.5,538.7 L423.8,539.7 L424.1,539.5 L424.5,539.4 L424.8,541.4 L425.1,542.1 L425.5,543.6 L425.8,547.8 L426.1,547.9 L426.5,549.0 L426.8,550.6 L427.1,550.0 L427.5,550.6 L427.8,552.2 L428.1,551.7 L428.5,553.3 L428.8,553.5 L429.2,553.4 L429.5,554.9 L429.8,555.5 L430.2,554.5 L430.5,554.1 L430.8,552.4 L431.2,552.3 L431.5,553.0 L431.8,552.9 L432.2,551.7 L432.5,552.5 L432.8,552.0 L433.2,552.0 L433.5,552.2 L433.9,552.1 L434.2,551.5 L434.5,551.0 L434.9,549.6 L435.2,550.7 L435.5,551.2 L435.9,551.1 L436.2,551.0 L436.5,551.2 L436.9,551.5 L437.2,551.6 L437.5,550.5 L437.9,550.9 L438.2,551.6 L438.6,550.4 L438.9,549.9 L439.2,550.4 L439.6,552.5 L439.9,554.4 L440.2,556.1 L440.6,555.4 L440.9,557.8 L441.2,560.0 L441.6,561.0 L441.9,560.2 L442.2,559.7 L442.6,559.1 L442.9,560.3 L443.3,559.8 L443.6,559.8 L443.9,560.3 L444.3,560.6 L444.6,561.0 L444.9,561.2 L445.3,562.0 L445.6,562.6 L445.9,562.2 L446.3,561.1 L446.6,561.9 L446.9,562.2 L447.3,563.0 L447.6,562.2 L447.9,562.3 L448.3,562.6 L448.6,562.9 L449.0,563.3 L449.3,563.4 L449.6,562.8 L450.0,563.2 L450.3,563.5 L450.6,563.8 L451.0,564.9 L451.3,564.7 L451.6,564.8 L452.0,565.6 L452.3,565.6 L452.6,566.2 L453.0,566.6 L453.3,566.8 L453.7,567.3 L454.0,568.3 L454.3,568.9 L454.7,568.6 L455.0,567.8 L455.3,567.1 L455.7,566.9 L456.0,566.4 L456.3,565.2 L456.7,564.7 L457.0,565.3 L457.3,565.8 L457.7,566.2 L458.0,566.8 L458.4,567.2 L458.7,568.6 L459.0,568.7 L459.4,569.4 L459.7,568.7 L460.0,568.9 L460.4,571.0 L460.7,571.4 L461.0,571.6 L461.4,571.9 L461.7,571.9 L462.0,572.4 L462.4,572.9 L462.7,570.8 L463.1,570.8 L463.4,569.7 L463.7,569.5 L464.1,569.6 L464.4,570.3 L464.7,569.8 L465.1,570.4 L465.4,570.2 L465.7,570.3 L466.1,570.2 L466.4,569.5 L466.7,569.2 L467.1,569.7 L467.4,569.8 L467.7,569.8 L468.1,570.5 L468.4,571.1 L468.8,571.3 L469.1,571.5 L469.4,570.9 L469.8,570.4 L470.1,570.9 L470.4,571.0 L470.8,571.1 L471.1,571.2 L471.4,571.7 L471.8,572.5 L472.1,573.1 L472.4,573.6 L472.8,573.3 L473.1,573.4 L473.5,574.0 L473.8,573.7 L474.1,574.0 L474.5,574.9 L474.8,573.8 L475.1,574.8 L475.5,575.5 L475.8,576.2 L476.1,577.0 L476.5,577.9 L476.8,576.7 L477.1,578.4 L477.5,579.1 L477.8,579.4 L478.2,579.2 L478.5,579.7 L478.8,579.8 L479.2,580.5 L479.5,581.0 L479.8,581.1 L480.2,580.6 L480.5,581.1 L480.8,581.5 L481.2,582.1 L481.5,583.4 L481.8,583.5 L482.2,584.5 L482.5,586.0 L482.9,586.2 L483.2,586.1 L483.5,586.1 L483.9,586.4 L484.2,586.0 L484.5,584.8 L484.9,584.3 L485.2,583.9 L485.5,583.4 L485.9,583.0 L486.2,582.1 L486.5,580.8 L486.9,579.6 L487.2,578.2 L487.5,576.6 L487.9,575.6 L488.2,574.0 L488.6,573.3 L488.9,572.7 L489.2,571.9 L489.6,571.6 L489.9,572.0 L490.2,572.7 L490.6,573.5 L490.9,574.1 L491.2,575.9 L491.6,577.7 L491.9,579.2 L492.2,580.1 L492.6,581.0 L492.9,581.6 L493.3,581.8 L493.6,582.1 L493.9,581.6 L494.3,580.7 L494.6,580.1 L494.9,577.4 L495.3,576.1 L495.6,574.1 L495.9,572.4 L496.3,571.3 L496.6,569.4 L496.9,567.1 L497.3,567.2 L497.6,565.3 L498.0,564.0 L498.3,562.2 L498.6,560.4 L499.0,559.7 L499.3,560.4 L499.6,559.1 L500.0,559.0 L500.3,559.4 L500.6,559.7 L501.0,560.1 L501.3,559.9 L501.6,558.6 L502.0,558.8 L502.3,558.9 L502.7,559.4 L503.0,559.8 L503.3,559.9 L503.7,559.8 L504.0,560.1 L504.3,560.6 L504.7,560.0 L505.0,559.3 L505.3,559.6 L505.7,560.1 L506.0,560.3 L506.3,561.1 L506.7,561.1 L507.0,560.7 L507.4,560.9 L507.7,559.7 L508.0,558.8 L508.4,559.2 L508.7,558.8 L509.0,558.7 L509.4,559.9 L509.7,559.3 L510.0,559.4 L510.4,559.2 L510.7,559.4 L511.0,560.1 L511.4,560.3 L511.7,561.0 L512.0,561.8 L512.4,562.5 L512.7,563.1 L513.1,563.5 L513.4,563.8 L513.7,564.6 L514.1,564.5 L514.4,564.2 L514.7,563.4 L515.1,562.6 L515.4,561.6 L515.7,559.4 L516.1,557.2 L516.4,556.3 L516.7,555.9 L517.1,554.4 L517.4,554.4 L517.8,552.1 L518.1,551.4 L518.4,550.6 L518.8,548.1 L519.1,545.9 L519.4,545.6 L519.8,542.8 L520.1,542.9 L520.4,542.7 L520.8,541.0 L521.1,540.6 L521.4,540.0 L521.8,538.4 L522.1,538.2 L522.5,537.8 L522.8,537.3 L523.1,538.6 L523.5,538.2 L523.8,537.2 L524.1,537.2 L524.5,537.9 L524.8,538.4 L525.1,538.7 L525.5,538.5 L525.8,538.1 L526.1,538.4 L526.5,539.5 L526.8,538.7 L527.2,536.7 L527.5,535.9 L527.8,535.0 L528.2,534.7 L528.5,535.2 L528.8,534.7 L529.2,535.3 L529.5,536.9 L529.8,536.7 L530.2,536.1 L530.5,536.9 L530.8,538.7 L531.2,535.6 L531.5,535.0 L531.8,532.1 L532.2,531.5 L532.5,531.8 L532.9,530.0 L533.2,525.7 L533.5,527.9 L533.9,526.3 L534.2,525.8 L534.5,526.2 L534.9,524.8 L535.2,524.1 L535.5,523.5 L535.9,521.5 L536.2,522.0 L536.5,523.6 L536.9,523.3 L537.2,523.8 L537.6,524.1 L537.9,525.2 L538.2,526.2 L538.6,524.9 L538.9,524.8 L539.2,524.0 L539.6,523.7 L539.9,524.2 L540.2,524.4 L540.6,523.2 L540.9,525.2 L541.2,524.5 L541.6,524.1 L541.9,524.2 L542.3,522.8 L542.6,521.7 L542.9,521.6 L543.3,519.9 L543.6,520.0 L543.9,520.0 L544.3,519.1 L544.6,518.1 L544.9,517.4 L545.3,517.0 L545.6,516.8 L545.9,513.5 L546.3,512.8 L546.6,510.8 L547.0,508.8 L547.3,507.7 L547.6,506.6 L548.0,506.1 L548.3,507.4 L548.6,506.0 L549.0,504.9 L549.3,506.2 L549.6,506.5 L550.0,505.6 L550.3,504.4 L550.6,503.0 L551.0,502.7 L551.3,504.4 L551.6,504.1 L552.0,502.2 L552.3,501.9 L552.7,499.6 L553.0,499.7 L553.3,498.2 L553.7,497.5 L554.0,496.9 L554.3,496.0 L554.7,494.2 L555.0,494.6 L555.3,492.1 L555.7,487.2 L556.0,486.3 L556.3,484.4 L556.7,482.8 L557.0,484.0 L557.4,486.9 L557.7,492.5 L558.0,498.3 L558.4,497.4 L558.7,498.9 L559.0,501.0 L559.4,502.2 L559.7,499.1 L560.0,495.6 L560.4,496.6 L560.7,499.1 L561.0,499.2 L561.4,500.4 L561.7,501.6 L562.1,503.8 L562.4,505.2 L562.7,507.2 L563.1,507.4 L563.4,508.3 L563.7,509.8 L564.1,509.9 L564.4,510.7 L564.7,510.8 L565.1,508.9 L565.4,509.3 L565.7,511.8 L566.1,512.3 L566.4,510.1 L566.8,511.1 L567.1,512.4 L567.4,514.2 L567.8,516.4 L568.1,517.5 L568.4,518.0 L568.8,522.8 L569.1,525.7 L569.4,527.3 L569.8,529.0 L570.1,530.0 L570.4,530.2 L570.8,532.4 L571.1,532.8 L571.4,530.3 L571.8,529.3 L572.1,527.5 L572.5,524.8 L572.8,523.0 L573.1,520.9 L573.5,519.2 L573.8,518.7 L574.1,517.4 L574.5,517.8 L574.8,517.3 L575.1,518.0 L575.5,518.5 L575.8,519.2 L576.1,518.9 L576.5,521.2 L576.8,519.4 L577.2,521.0 L577.5,521.9 L577.8,521.7 L578.2,521.3 L578.5,522.0 L578.8,521.6 L579.2,522.9 L579.5,522.1 L579.8,519.6 L580.2,517.8 L580.5,516.2 L580.8,506.9 L581.2,506.0 L581.5,505.9 L581.9,504.6 L582.2,505.8 L582.5,506.8 L582.9,508.0 L583.2,516.2 L583.5,515.9 L583.9,515.0 L584.2,516.0 L584.5,515.0 L584.9,515.7 L585.2,515.6 L585.5,515.2 L585.9,516.5 L586.2,517.1 L586.6,516.6 L586.9,516.1 L587.2,514.3 L587.6,512.5 L587.9,512.0 L588.2,508.5 L588.6,507.2 L588.9,506.5 L589.2,506.7 L589.6,505.9 L589.9,505.4 L590.2,503.8 L590.6,503.5 L590.9,502.9 L591.3,502.5 L591.6,501.0 L591.9,499.8 L592.3,498.1 L592.6,498.7 L592.9,498.0 L593.3,497.1 L593.6,496.3 L593.9,495.3 L594.3,496.6 L594.6,496.5 L594.9,496.4 L595.3,496.6 L595.6,495.8 L595.9,496.3 L596.3,496.1 L596.6,492.9 L597.0,493.2 L597.3,492.3 L597.6,490.7 L598.0,490.5 L598.3,488.6 L598.6,489.8 L599.0,491.0 L599.3,489.2 L599.6,488.1 L600.0,488.3 L600.3,488.0 L600.6,487.3 L601.0,480.6 L601.3,481.5 L601.7,480.6 L602.0,481.8 L602.3,480.4 L602.7,479.0 L603.0,479.4 L603.3,481.8 L603.7,477.7 L604.0,476.1 L604.3,472.0 L604.7,471.3 L605.0,469.5 L605.3,468.9 L605.7,465.7 L606.0,465.3 L606.4,464.9 L606.7,466.9 L607.0,466.7 L607.4,467.0 L607.7,465.3 L608.0,468.5 L608.4,465.3 L608.7,466.2 L609.0,462.2 L609.4,461.5 L609.7,461.6 L610.0,462.4 L610.4,461.8 L610.7,465.0 L611.1,465.7 L611.4,470.6 L611.7,471.6 L612.1,472.7 L612.4,472.6 L612.7,474.1 L613.1,474.6 L613.4,475.2 L613.7,472.4 L614.1,472.0 L614.4,468.7 L614.7,468.7 L615.1,466.5 L615.4,465.0 L615.7,463.4 L616.1,462.9 L616.4,462.3 L616.8,463.8 L617.1,462.1 L617.4,460.5 L617.8,459.3 L618.1,457.1 L618.4,453.7 L618.8,452.1 L619.1,452.5 L619.4,452.0 L619.8,452.6 L620.1,453.7 L620.4,454.5 L620.8,457.7 L621.1,458.4 L621.5,457.4 L621.8,457.3 L622.1,457.8 L622.5,457.5 L622.8,457.0 L623.1,456.0 L623.5,455.4 L623.8,456.7 L624.1,455.2 L624.5,455.5 L624.8,457.0 L625.1,459.6 L625.5,461.5 L625.8,462.5 L626.2,462.8 L626.5,464.2 L626.8,464.1 L627.2,463.4 L627.5,462.4 L627.8,461.0 L628.2,460.9 L628.5,459.8 L628.8,460.8 L629.2,462.0 L629.5,461.7 L629.8,461.2 L630.2,460.3 L630.5,460.1 L630.9,460.4 L631.2,459.9 L631.5,460.1 L631.9,459.2 L632.2,459.1 L632.5,457.9 L632.9,456.2 L633.2,457.3 L633.5,458.5 L633.9,457.5 L634.2,458.0 L634.5,458.4 L634.9,460.7 L635.2,460.6 L635.5,459.4 L635.9,458.1 L636.2,456.1 L636.6,454.3 L636.9,454.6 L637.2,453.3 L637.6,454.1 L637.9,447.1 L638.2,446.9 L638.6,447.7 L638.9,448.4 L639.2,445.6 L639.6,444.5 L639.9,443.7 L640.2,448.1 L640.6,446.6 L640.9,443.7 L641.3,442.7 L641.6,441.5 L641.9,439.8 L642.3,437.9 L642.6,435.2 L642.9,433.7 L643.3,434.2 L643.6,429.1 L643.9,424.1 L644.3,421.3 L644.6,417.0 L644.9,416.6 L645.3,412.6 L645.6,409.1 L646.0,407.1 L646.3,406.5 L646.6,400.4 L647.0,399.3 L647.3,395.9 L647.6,393.8 L648.0,391.8 L648.3,388.7 L648.6,385.7 L649.0,388.9 L649.3,387.5 L649.6,384.6 L650.0,385.0 L650.3,380.6 L650.7,378.9 L651.0,373.7 L651.3,370.9 L651.7,371.6 L652.0,373.1 L652.3,373.3 L652.7,377.8 L653.0,385.5 L653.3,397.6 L653.7,402.3 L654.0,406.7 L654.3,414.4 L654.7,418.3 L655.0,422.3 L655.3,425.2 L655.7,427.0 L656.0,430.3 L656.4,432.6 L656.7,435.2 L657.0,438.5 L657.4,442.0 L657.7,445.6 L658.0,447.8 L658.4,450.9 L658.7,452.8 L659.0,452.6 L659.4,456.4 L659.7,458.0 L660.0,458.1 L660.4,459.7 L660.7,462.0 L661.1,463.4 L661.4,463.4 L661.7,464.6 L662.1,463.8 L662.4,465.0 L662.7,465.7 L663.1,465.8 L663.4,466.8 L663.7,468.7 L664.1,465.0 L664.4,465.6 L664.7,466.3 L665.1,465.7 L665.4,464.9 L665.8,464.6 L666.1,464.3 L666.4,462.6 L666.8,453.1 L667.1,452.4 L667.4,453.7 L667.8,455.1 L668.1,455.2 L668.4,455.3 L668.8,458.8 L669.1,470.3 L669.4,471.2 L669.8,470.1 L670.1,470.1 L670.5,470.8 L670.8,471.7 L671.1,472.6 L671.5,471.3 L671.8,469.9 L672.1,470.8 L672.5,469.1 L672.8,469.0 L673.1,469.1 L673.5,467.8 L673.8,467.5 L674.1,468.2 L674.5,468.4 L674.8,469.4 L675.2,468.1 L675.5,467.8 L675.8,467.5 L676.2,467.8 L676.5,468.3 L676.8,462.0 L677.2,462.2 L677.5,461.9 L677.8,461.5 L678.2,461.9 L678.5,462.5 L678.8,462.1 L679.2,466.9 L679.5,467.0 L679.8,467.7 L680.2,468.5 L680.5,469.4 L680.9,469.5 L681.2,469.6 L681.5,470.2 L681.9,471.2 L682.2,473.0 L682.5,472.0 L682.9,472.0 L683.2,471.3 L683.5,472.3 L683.9,472.8 L684.2,472.5 L684.5,473.8 L684.9,473.8 L685.2,474.4 L685.6,475.1 L685.9,473.6 L686.2,471.6 L686.6,472.1 L686.9,471.1 L687.2,469.9 L687.6,468.4 L687.9,467.9 L688.2,469.4 L688.6,471.1 L688.9,467.8 L689.2,466.9 L689.6,461.3 L689.9,461.2 L690.3,460.7 L690.6,460.0 L690.9,461.0 L691.3,463.9 L691.6,463.1 L691.9,471.2 L692.3,471.7 L692.6,471.9 L692.9,471.8 L693.3,472.8 L693.6,472.2 L693.9,474.7 L694.3,475.7 L694.6,475.7 L695.0,477.5 L695.3,478.9 L695.6,474.9 L696.0,475.1 L696.3,474.2 L696.6,472.1 L697.0,471.5 L697.3,470.0 L697.6,468.4 L698.0,471.0 L698.3,469.4 L698.6,467.5 L699.0,467.3 L699.3,467.4 L699.6,467.0 L700.0,466.1 L700.3,463.4 L700.7,457.0 L701.0,455.5 L701.3,453.7 L701.7,452.9 L702.0,451.6 L702.3,449.3 L702.7,449.2 L703.0,453.6 L703.3,451.7 L703.7,450.7 L704.0,449.1 L704.3,446.8 L704.7,445.0 L705.0,445.0 L705.4,444.4 L705.7,444.7 L706.0,444.5 L706.4,443.9 L706.7,442.3 L707.0,441.8 L707.4,439.3 L707.7,438.7 L708.0,436.2 L708.4,433.2 L708.7,431.9 L709.0,427.7 L709.4,426.6 L709.7,424.9 L710.1,423.4 L710.4,422.6 L710.7,423.3 L711.1,421.4 L711.4,425.1 L711.7,425.9 L712.1,427.1 L712.4,427.8 L712.7,429.1 L713.1,428.9 L713.4,431.4 L713.7,431.4 L714.1,430.3 L714.4,431.0 L714.8,432.8 L715.1,434.8 L715.4,437.2 L715.8,438.1 L716.1,442.1 L716.4,447.6 L716.8,447.8 L717.1,448.6 L717.4,448.5 L717.8,448.0 L718.1,451.3 L718.4,449.2 L718.8,447.7 L719.1,449.4 L719.4,448.6 L719.8,449.3 L720.1,449.0 L720.5,430.3 L720.8,430.6 L721.1,430.5 L721.5,429.1 L721.8,428.3 L722.1,427.7 L722.5,429.0 L722.8,444.0 L723.1,443.7 L723.5,444.6 L723.8,446.8 L724.1,446.4 L724.5,447.8 L724.8,447.3 L725.2,449.7 L725.5,452.1 L725.8,451.8 L726.2,451.2 L726.5,454.3 L726.8,453.8 L727.2,454.8 L727.5,453.8 L727.8,454.5 L728.2,455.8 L728.5,456.9 L728.8,456.4 L729.2,457.5 L729.5,457.6 L729.9,458.5 L730.2,457.4 L730.5,456.8 L730.9,456.6 L731.2,456.1 L731.5,456.1 L731.9,453.8 L732.2,453.5 L732.5,454.6 L732.9,454.1 L733.2,454.4 L733.5,455.3 L733.9,456.0 L734.2,459.7 L734.6,461.0 L734.9,460.9 L735.2,463.5 L735.6,464.1 L735.9,465.2 L736.2,464.9 L736.6,466.2 L736.9,465.7 L737.2,466.6 L737.6,466.1 L737.9,465.9 L738.2,467.7 L738.6,467.5 L738.9,465.0 L739.2,463.9 L739.6,462.0 L739.9,460.5 L740.3,459.5 L740.6,455.3 L740.9,456.1 L741.3,449.7 L741.6,449.9 L741.9,449.5 L742.3,449.6 L742.6,444.7 L742.9,445.5 L743.3,444.7 L743.6,450.2 L743.9,450.7 L744.3,453.1 L744.6,453.2 L745.0,458.5 L745.3,457.8 L745.6,458.4 L746.0,458.2 L746.3,458.7 L746.6,456.9 L747.0,457.1 L747.3,456.3 L747.6,458.2 L748.0,456.9 L748.3,457.6 L748.6,457.4 L749.0,457.4 L749.3,457.1 L749.7,457.0 L750.0,456.3 L750.3,455.0 L750.7,454.3 L751.0,452.9 L751.3,452.4 L751.7,452.1 L752.0,453.3 L752.3,452.4 L752.7,454.1 L753.0,453.9 L753.3,455.2 L753.7,455.8 L754.0,455.1 L754.4,448.7 L754.7,448.2 L755.0,447.7 L755.4,448.7 L755.7,447.9 L756.0,449.1 L756.4,450.0 L756.7,455.1 L757.0,455.5 L757.4,456.1 L757.7,455.5 L758.0,455.0 L758.4,456.2 L758.7,458.7 L759.1,460.0 L759.4,461.5 L759.7,462.9 L760.1,464.9 L760.4,467.5 L760.7,465.0 L761.1,462.5 L761.4,462.7 L761.7,463.2 L762.1,461.3 L762.4,460.8 L762.7,461.3 L763.1,460.8 L763.4,463.1 L763.7,463.8 L764.1,464.2 L764.4,467.2 L764.8,469.3 L765.1,469.6 L765.4,471.4 L765.8,473.2 L766.1,472.6 L766.4,474.4 L766.8,474.3 L767.1,473.2 L767.4,464.0 L767.8,464.6 L768.1,463.3 L768.4,463.9 L768.8,461.9 L769.1,458.9 L769.5,458.7 L769.8,465.8 L770.1,465.4 L770.5,463.4 L770.8,463.4 L771.1,463.7 L771.5,465.3 L771.8,463.9 L772.1,465.6 L772.5,464.4 L772.8,464.4 L773.1,463.0 L773.5,463.5 L773.8,455.7 L774.2,455.4 L774.5,454.2 L774.8,456.4 L775.2,457.7 L775.5,459.3 L775.8,459.5 L776.2,469.3 L776.5,472.3 L776.8,474.2 L777.2,474.6 L777.5,476.3 L777.8,477.0 L778.2,478.9 L778.5,480.3 L778.9,481.5 L779.2,482.4 L779.5,483.5 L779.9,485.0 L780.2,488.0 L780.5,488.4 L780.9,489.2 L781.2,489.9 L781.5,490.6 L781.9,491.5 L782.2,493.1 L782.5,492.6 L782.9,493.2 L783.2,493.3 L783.5,493.6 L783.9,494.1 L784.2,494.4 L784.6,492.8 L784.9,491.7 L785.2,490.8 L785.6,490.8 L785.9,488.9 L786.2,487.6 L786.6,487.6 L786.9,487.8 L787.2,488.4 L787.6,487.9 L787.9,487.1 L788.2,486.9 L788.6,487.6 L788.9,486.7 L789.3,486.1 L789.6,485.7 L789.9,485.5 L790.3,484.8 L790.6,485.2 L790.9,483.6 L791.3,482.6 L791.6,482.2 L791.9,479.9 L792.3,477.3 L792.6,474.6 L792.9,466.3 L793.3,465.7 L793.6,463.6 L794.0,461.6 L794.3,461.4 L794.6,461.8 L795.0,461.2 L795.3,467.7 L795.6,466.6 L796.0,466.3 L796.3,466.4 L796.6,464.2 L797.0,462.1 L797.3,460.3 L797.6,457.7 L798.0,456.2 L798.3,454.4 L798.7,451.5 L799.0,420.8 L799.3,417.5 L799.7,416.2 L800.0,414.4 L800.3,411.6 L800.7,411.1 L801.0,408.3 L801.3,438.1 L801.7,423.0 L802.0,424.5 L802.3,425.9 L802.7,428.5 L803.0,429.2 L803.3,432.8 L803.7,436.7 L804.0,458.0 L804.4,459.4 L804.7,462.9 L805.0,464.2 L805.4,466.2 L805.7,468.5 L806.0,468.6 L806.4,469.6 L806.7,472.5 L807.0,474.7 L807.4,476.4 L807.7,479.7 L808.0,482.0 L808.4,482.3 L808.7,483.0 L809.1,483.0 L809.4,481.4 L809.7,481.9 L810.1,478.1 L810.4,476.8 L810.7,476.6 L811.1,475.3 L811.4,474.6 L811.7,467.8 L812.1,468.1 L812.4,469.0 L812.7,468.3 L813.1,468.1 L813.4,467.8 L813.8,466.4 L814.1,473.5 L814.4,471.7 L814.8,471.6 L815.1,470.1 L815.4,469.7 L815.8,468.7 L816.1,469.2 L816.4,457.9 L816.8,458.5 L817.1,459.3 L817.4,459.0 L817.8,458.7 L818.1,460.7 L818.5,460.8 L818.8,472.1 L819.1,477.2 L819.5,476.6 L819.8,478.7 L820.1,481.9 L820.5,483.2 L820.8,484.7 L821.1,485.9 L821.5,481.6 L821.8,483.7 L822.1,486.4 L822.5,485.1 L822.8,485.8 L823.1,487.6 L823.5,487.7 L823.8,488.8 L824.2,490.2 L824.5,487.1 L824.8,488.2 L825.2,488.8 L825.5,488.8 L825.8,490.7 L826.2,492.8 L826.5,495.8 L826.8,503.0 L827.2,505.8 L827.5,508.0 L827.8,511.5 L828.2,513.2 L828.5,514.7 L828.9,513.8 L829.2,512.8 L829.5,512.9 L829.9,513.1 L830.2,513.1 L830.5,513.3 L830.9,513.0 L831.2,513.0 L831.5,512.5 L831.9,513.4 L832.2,512.6 L832.5,511.2 L832.9,510.0 L833.2,508.8 L833.6,508.1 L833.9,508.2 L834.2,507.6 L834.6,507.9 L834.9,507.5 L835.2,507.6 L835.6,508.1 L835.9,507.8 L836.2,506.6 L836.6,504.8 L836.9,504.6 L837.2,504.1 L837.6,504.1 L837.9,501.7 L838.3,501.9 L838.6,501.7 L838.9,502.9 L839.3,502.1 L839.6,502.3 L839.9,501.3 L840.3,503.1 L840.6,504.0 L840.9,504.6 L841.3,505.1 L841.6,504.9 L841.9,504.5 L842.3,504.6 L842.6,505.3 L843.0,504.1 L843.3,503.3 L843.6,502.1 L844.0,501.5 L844.3,446.8 L844.6,445.5 L845.0,442.5 L845.3,441.0 L845.6,439.3 L846.0,431.3 L846.3,429.8 L846.6,484.4 L847.0,484.9 L847.3,488.3 L847.6,491.2 L848.0,493.0 L848.3,502.6 L848.7,511.4 L849.0,513.8 L849.3,516.9 L849.7,518.3 L850.0,520.5 L850.3,523.6 L850.7,525.6 L851.0,521.7 L851.3,523.3 L851.7,527.6 L852.0,528.3 L852.3,529.1 L852.7,529.2 L853.0,521.0 L853.4,520.5 L853.7,519.7 L854.0,514.7 L854.4,513.4 L854.7,511.9 L855.0,511.3 L855.4,519.3 L855.7,518.5 L856.0,517.4 L856.4,517.5 L856.7,517.6 L857.0,517.2 L857.4,516.8 L857.7,514.9 L858.1,514.7 L858.4,515.2 L858.7,515.5 L859.1,514.6 L859.4,515.1 L859.7,514.0 L860.1,515.2 L860.4,514.8 L860.7,513.7 L861.1,513.3 L861.4,513.7 L861.7,513.1 L862.1,513.2 L862.4,512.7 L862.8,513.8 L863.1,514.6 L863.4,514.7 L863.8,514.3 L864.1,514.6 L864.4,514.8 L864.8,514.3 L865.1,512.8 L865.4,512.2 L865.8,510.8 L866.1,510.7 L866.4,509.9 L866.8,509.2 L867.1,508.7 L867.4,509.5 L867.8,508.6 L868.1,508.8 L868.5,508.0 L868.8,507.9 L869.1,506.9 L869.5,506.5 L869.8,504.3 L870.1,503.9 L870.5,504.1 L870.8,503.0 L871.1,502.0 L871.5,501.0 L871.8,499.6 L872.1,499.9 L872.5,500.3 L872.8,499.1 L873.2,499.6 L873.5,497.9 L873.8,498.5 L874.2,498.4 L874.5,499.0 L874.8,497.7 L875.2,498.0 L875.5,496.8 L875.8,493.5 L876.2,493.3 L876.5,494.5 L876.8,494.3 L877.2,494.3 L877.5,493.6 L877.9,494.8 L878.2,497.9 L878.5,497.7 L878.9,495.6 L879.2,493.9 L879.5,494.1 L879.9,493.9 L880.2,494.4 L880.5,494.9 L880.9,494.9 L881.2,494.3 L881.5,494.8 L881.9,495.0 L882.2,496.4 L882.6,495.7 L882.9,496.3 L883.2,496.1 L883.6,497.5 L883.9,498.5 L884.2,498.5 L884.6,497.3 L884.9,497.1 L885.2,496.9 L885.6,498.1 L885.9,498.5 L886.2,497.5 L886.6,494.1 L886.9,494.6 L887.2,494.6 L887.6,495.0 L887.9,494.4 L888.3,495.4 L888.6,497.3 L888.9,503.0 L889.3,504.6 L889.6,508.6 L889.9,510.8 L890.3,513.3 L890.6,514.0 L890.9,514.1 L891.3,514.6 L891.6,514.3 L891.9,512.1 L892.3,511.3 L892.6,511.2 L893.0,512.2 L893.3,512.4 L893.6,512.2 L894.0,512.1 L894.3,512.8 L894.6,511.6 L895.0,511.1 L895.3,509.3 L895.6,509.0 L896.0,507.7 L896.3,506.9 L896.6,504.8 L897.0,505.4 L897.3,504.0 L897.7,505.2 L898.0,505.3 L898.3,506.4 L898.7,507.1 L899.0,507.8 L899.3,508.2 L899.7,509.2 L900.0,508.7 L900.3,508.9 L900.7,507.8 L901.0,507.1 L901.3,507.7 L901.7,508.1 L902.0,507.2 L902.4,507.4 L902.7,507.1 L903.0,507.5 L903.4,506.8 L903.7,504.8 L904.0,503.6 L904.4,502.4 L904.7,500.9 L905.0,500.0 L905.4,498.1 L905.7,493.1 L906.0,494.2 L906.4,493.6 L906.7,493.6 L907.0,492.4 L907.4,493.9 L907.7,494.6 L908.1,501.1 L908.4,501.0 L908.7,501.7 L909.1,503.8 L909.4,506.3 L909.7,504.5 L910.1,505.5 L910.4,505.4 L910.7,506.0 L911.1,507.6 L911.4,508.4 L911.7,509.2 L912.1,510.4 L912.4,512.1 L912.8,512.5 L913.1,513.8 L913.4,514.4 L913.8,519.1 L914.1,519.2 L914.4,520.4 L914.8,520.2 L915.1,520.4 L915.4,520.3 L915.8,519.6 L916.1,514.3 L916.4,513.3 L916.8,513.2 L917.1,510.8 L917.5,505.8 L917.8,503.8 L918.1,502.9 L918.5,502.3 L918.8,501.9 L919.1,502.0 L919.5,501.9 L919.8,506.5 L920.1,506.8 L920.5,506.7 L920.8,507.7 L921.1,508.8 L921.5,508.6 L921.8,509.9 L922.2,510.1 L922.5,511.1 L922.8,512.4 L923.2,512.4 L923.5,511.9 L923.8,510.9 L924.2,511.0 L924.5,511.5 L924.8,512.0 L925.2,510.8 L925.5,511.0 L925.8,512.5 L926.2,512.5 L926.5,512.8 L926.9,512.1 L927.2,512.1 L927.5,512.8 L927.9,512.0 L928.2,511.0 L928.5,512.6 L928.9,512.7 L929.2,512.6 L929.5,512.2 L929.9,511.4 L930.2,511.8 L930.5,511.4 L930.9,509.6 L931.2,509.1 L931.5,508.8 L931.9,508.9 L932.2,509.2 L932.6,508.1 L932.9,503.2 L933.2,502.6 L933.6,501.8 L933.9,501.1 L934.2,500.4 L934.6,497.3 L934.9,496.7 L935.2,500.8 L935.6,501.2 L935.9,500.0 L936.2,500.7 L936.6,498.9 L936.9,500.4 L937.3,500.9 L937.6,458.2 L937.9,457.0 L938.3,457.4 L938.6,455.5 L938.9,456.0 L939.3,455.4 L939.6,454.2 L939.9,489.9 L940.3,491.1 L940.6,491.8 L940.9,493.3 L941.3,493.9 L941.6,493.6 L942.0,494.8 L942.3,501.2 L942.6,501.5 L943.0,502.3 L943.3,503.8 L943.6,505.4 L944.0,509.3 L944.3,511.2 L944.6,512.9 L945.0,514.3 L945.3,515.6 L945.6,516.0 L946.0,516.4 L946.3,515.5 L946.7,515.9 L947.0,516.6 L947.3,515.9 L947.7,515.8 L948.0,516.0 L948.3,515.8 L948.7,515.5 L949.0,516.0 L949.3,516.5 L949.7,516.8 L950.0,517.3 L950.3,516.6 L950.7,516.8 L951.0,517.8 L951.3,517.5 L951.7,517.3 L952.0,516.1 L952.4,515.5 L952.7,515.0 L953.0,514.9 L953.4,514.4 L953.7,513.7 L954.0,513.2 L954.4,514.7 L954.7,515.9 L955.0,518.1 L955.4,517.0 L955.7,516.9 L956.0,516.8 L956.4,516.8 L956.7,517.0 L957.1,514.8 L957.4,514.4 L957.7,514.9 L958.1,514.5 L958.4,515.2 L958.7,515.5 L959.1,514.9 L959.4,515.7 L959.7,514.1 L960.1,514.9 L960.4,515.6 L960.7,514.2 L961.1,513.1 L961.4,512.7 L961.8,512.4 L962.1,511.5 L962.4,509.3 L962.8,506.7 L963.1,505.5 L963.4,504.8 L963.8,502.1 L964.1,499.6 L964.4,498.6 L964.8,498.4 L965.1,497.3 L965.4,495.4 L965.8,494.4 L966.1,493.7 L966.5,493.6 L966.8,492.6 L967.1,490.9 L967.5,489.9 L967.8,489.6 L968.1,487.9 L968.5,487.7 L968.8,486.8 L969.1,486.8 L969.5,486.3 L969.8,486.8 L970.1,484.9 L970.5,484.7 L970.8,483.6 L971.1,482.9 L971.5,482.7 L971.8,483.3 L972.2,483.2 L972.5,485.5 L972.8,486.3 L973.2,487.4 L973.5,487.2 L973.8,487.0 L974.2,486.5 L974.5,486.2 L974.8,484.8 L975.2,483.6 L975.5,482.5 L975.8,480.3 L976.2,479.5 L976.5,479.6 L976.9,479.1 L977.2,479.9 L977.5,474.9 L977.9,475.5 L978.2,479.5 L978.5,484.6 L978.9,486.8 L979.2,488.3 L979.5,490.0 L979.9,496.1 L980.2,496.5 L980.5,495.6 L980.9,492.0 L981.2,490.6 L981.6,489.4 L981.9,488.5 L982.2,489.4 L982.6,489.7 L982.9,489.9 L983.2,488.8 L983.6,488.4 L983.9,489.2 L984.2,488.0 L984.6,486.5 L984.9,485.5 L985.2,485.1 L985.6,485.1 L985.9,486.9 L986.3,486.3 L986.6,487.1 L986.9,486.6 L987.3,487.4 L987.6,486.8 L987.9,488.0 L988.3,485.6 L988.6,485.9 L988.9,485.5 L989.3,485.2 L989.6,484.1 L989.9,483.7 L990.3,481.8 L990.6,481.4 L990.9,479.8 L991.3,479.1 L991.6,477.9 L992.0,477.6 L992.3,476.3 L992.6,474.4 L993.0,472.6 L993.3,471.5 L993.6,469.3 L994.0,467.3 L994.3,464.6 L994.6,463.9 L995.0,463.3 L995.3,462.3 L995.6,459.5 L996.0,459.7 L996.3,459.5 L996.7,459.6 L997.0,456.4 L997.3,456.1 L997.7,454.6 L998.0,454.2 L998.3,451.7 L998.7,449.8 L999.0,448.3 L999.3,449.7 L999.7,446.5 L1000.0,447.9 L1000.3,449.0 L1000.7,449.1 L1001.0,448.8 L1001.4,448.7 L1001.7,447.5 L1002.0,449.0 L1002.4,447.4 L1002.7,446.2 L1003.0,445.4 L1003.4,445.9 L1003.7,445.5 L1004.0,446.7 L1004.4,447.8 L1004.7,447.1 L1005.0,448.8 L1005.4,450.2 L1005.7,451.5 L1006.1,452.9 L1006.4,453.7 L1006.7,456.0 L1007.1,459.5 L1007.4,459.5 L1007.7,460.1 L1008.1,462.5 L1008.4,464.1 L1008.7,466.4 L1009.1,466.4 L1009.4,465.6 L1009.7,466.7 L1010.1,466.7 L1010.4,464.6 L1010.8,465.2 L1011.1,464.4 L1011.4,465.0 L1011.8,465.8 L1012.1,466.2 L1012.4,468.0 L1012.8,470.4 L1013.1,471.1 L1013.4,470.8 L1013.8,470.2 L1014.1,471.9 L1014.4,473.3 L1014.8,474.0 L1015.1,474.6 L1015.4,474.5 L1015.8,476.0 L1016.1,476.9 L1016.5,476.9 L1016.8,477.2 L1017.1,476.7 L1017.5,476.0 L1017.8,476.6 L1018.1,477.2 L1018.5,477.9 L1018.8,478.2 L1019.1,479.1 L1019.5,482.0 L1019.8,484.6 L1020.1,485.5 L1020.5,486.0 L1020.8,486.9 L1021.2,487.0 L1021.5,487.7 L1021.8,487.8 L1022.2,489.1 L1022.5,490.2 L1022.8,491.1 L1023.2,492.6 L1023.5,494.2 L1023.8,494.4 L1024.2,495.0 L1024.5,495.1 L1024.8,495.3 L1025.2,495.2 L1025.5,495.0 L1025.9,493.5 L1026.2,495.5 L1026.5,496.4 L1026.9,495.8 L1027.2,495.5 L1027.5,496.3 L1027.9,495.5 L1028.2,495.7 L1028.5,493.1 L1028.9,490.8 L1029.2,488.4 L1029.5,488.0 L1029.9,486.3 L1030.2,485.5 L1030.6,485.0 L1030.9,483.2 L1031.2,481.3 L1031.6,479.7 L1031.9,477.3 L1032.2,475.2 L1032.6,459.4 L1032.9,456.8 L1033.2,454.9 L1033.6,452.7 L1033.9,452.7 L1034.2,451.7 L1034.6,452.5 L1034.9,465.2 L1035.2,465.5 L1035.6,465.5 L1035.9,465.7 L1036.3,466.2 L1036.6,466.6 L1036.9,464.6 L1037.3,466.3 L1037.6,468.3 L1037.9,468.3 L1038.3,470.8 L1038.6,471.7 L1038.9,472.4 L1039.3,475.2 L1039.6,476.7 L1039.9,479.3 L1040.3,484.0 L1040.6,486.7 L1041.0,488.9 L1041.3,492.6 L1041.6,494.6 L1042.0,496.9 L1042.3,497.1 L1042.6,498.1 L1043.0,498.1 L1043.3,499.0 L1043.6,498.5 L1044.0,499.9 L1044.3,501.2 L1044.6,501.1 L1045.0,500.8 L1045.3,502.7 L1045.7,501.8 L1046.0,503.1 L1046.3,502.8 L1046.7,502.1 L1047.0,503.4 L1047.3,504.7 L1047.7,505.5 L1048.0,507.1 L1048.3,506.5 L1048.7,506.2 L1049.0,505.5 L1049.3,504.0 L1049.7,501.7 L1050.0,498.8 L1050.4,488.9 L1050.7,488.1 L1051.0,487.4 L1051.4,486.4 L1051.7,486.7 L1052.0,487.5 L1052.4,488.4 L1052.7,499.6 L1053.0,500.3 L1053.4,501.4 L1053.7,503.5 L1054.0,504.5 L1054.4,505.6 L1054.7,505.1 L1055.0,504.7 L1055.4,506.5 L1055.7,507.0 L1056.1,506.9 L1056.4,507.6 L1056.7,509.1 L1057.1,511.8 L1057.4,513.0 L1057.7,513.1 L1058.1,513.6 L1058.4,514.9 L1058.7,515.6 L1059.1,515.4 L1059.4,516.0 L1059.7,516.2 L1060.1,517.3 L1060.4,517.2 L1060.8,517.0 L1061.1,516.1 L1061.4,516.7 L1061.8,515.9 L1062.1,516.8 L1062.4,516.7 L1062.8,519.6 L1063.1,519.4 L1063.4,519.9 L1063.8,520.2 L1064.1,520.1 L1064.4,517.7 L1064.8,516.3 L1065.1,513.3 L1065.5,513.1 L1065.8,512.2 L1066.1,511.3 L1066.5,510.7 L1066.8,511.7 L1067.1,511.0 L1067.5,509.8 L1067.8,508.4 L1068.1,508.5 L1068.5,507.5 L1068.8,506.0 L1069.1,504.4 L1069.5,503.4 L1069.8,503.5 L1070.2,502.0 L1070.5,500.5 L1070.8,498.3 L1071.2,498.3 L1071.5,496.9 L1071.8,497.4 L1072.2,494.9 L1072.5,494.3 L1072.8,493.6 L1073.2,493.3 L1073.5,491.4 L1073.8,489.5 L1074.2,487.7 L1074.5,488.1 L1074.8,486.4 L1075.2,484.8 L1075.5,483.8 L1075.9,483.5 L1076.2,483.0 L1076.5,481.7 L1076.9,480.5 L1077.2,482.4 L1077.5,482.6 L1077.9,482.2 L1078.2,481.8 L1078.5,482.7 L1078.9,482.9 L1079.2,483.6 L1079.5,482.4 L1079.9,481.7 L1080.2,481.1 L1080.6,480.6 L1080.9,478.7 L1081.2,477.6 L1081.6,477.4 L1081.9,476.8 L1082.2,476.5 L1082.6,477.0 L1082.9,476.9 L1083.2,477.0 L1083.6,475.3 L1083.9,473.7 L1084.2,473.6 L1084.6,472.6 L1084.9,471.7 L1085.3,469.7 L1085.6,468.9 L1085.9,468.2 L1086.3,467.6 L1086.6,466.1 L1086.9,466.3 L1087.3,464.7 L1087.6,465.0 L1087.9,464.6 L1088.3,466.1 L1088.6,465.4 L1088.9,466.6 L1089.3,465.0 L1089.6,464.7 L1090.0,462.2 L1090.3,462.6 L1090.6,459.4 L1091.0,459.4 L1091.3,458.7 L1091.6,459.2 L1092.0,460.6 L1092.3,463.5 L1092.6,462.6 L1093.0,466.4 L1093.3,467.3 L1093.6,467.1 L1094.0,467.8 L1094.3,467.0 L1094.7,468.0 L1095.0,470.5 L1095.3,470.5 L1095.7,471.6 L1096.0,473.5 L1096.3,474.3 L1096.7,477.9 L1097.0,478.8 L1097.3,480.0 L1097.7,482.2 L1098.0,483.8 L1098.3,484.8 L1098.7,486.2 L1099.0,484.2 L1099.3,483.1 L1099.7,481.6 L1100.0,479.8 L1100.4,478.6 L1100.7,475.7 L1101.0,473.1 L1101.4,472.1 L1101.7,470.2 L1102.0,467.2 L1102.4,465.6 L1102.7,462.7 L1103.0,462.4 L1103.4,462.0 L1103.7,460.3 L1104.0,461.9 L1104.4,460.8 L1104.7,460.7 L1105.1,450.0 L1105.4,452.4 L1105.7,451.1 L1106.1,451.7 L1106.4,451.7 L1106.7,454.3 L1107.1,454.1 L1107.4,466.2 L1107.7,465.1 L1108.1,467.8 L1108.4,469.3 L1108.7,468.3 L1109.1,468.9 L1109.4,469.2 L1109.8,469.7 L1110.1,471.5 L1110.4,471.8 L1110.8,471.1 L1111.1,473.4 L1111.4,474.6 L1111.8,475.8 L1112.1,476.9 L1112.4,476.4 L1112.8,477.6 L1113.1,478.8 L1113.4,477.0 L1113.8,476.9 L1114.1,477.7 L1114.5,477.6 L1114.8,478.1 L1115.1,478.4 L1115.5,480.5 L1115.8,482.9 L1116.1,483.1 L1116.5,483.4 L1116.8,483.4 L1117.1,483.8 L1117.5,484.0 L1117.8,483.5 L1118.1,483.7 L1118.5,486.3 L1118.8,488.0 L1119.1,490.7 L1119.5,492.0 L1119.8,493.5 L1120.2,494.7 L1120.5,497.5 L1120.8,498.4 L1121.2,500.9 L1121.5,500.4 L1121.8,500.1 L1122.2,500.5 L1122.5,501.8 L1122.8,501.9 L1123.2,501.9 L1123.5,501.1 L1123.8,502.3 L1124.2,503.6 L1124.5,503.0 L1124.9,503.1 L1125.2,503.0 L1125.5,501.9 L1125.9,500.9 L1126.2,499.1 L1126.5,497.6 L1126.9,497.9 L1127.2,496.6 L1127.5,496.3 L1127.9,496.7 L1128.2,496.1 L1128.5,496.8 L1128.9,496.9 L1129.2,495.5 L1129.6,488.8 L1129.9,489.1 L1130.2,487.9 L1130.6,489.8 L1130.9,490.0 L1131.2,490.5 L1131.6,491.7 L1131.9,499.2 L1132.2,499.0 L1132.6,499.3 L1132.9,499.4 L1133.2,500.2 L1133.6,500.8 L1133.9,501.3 L1134.3,500.5 L1134.6,499.9 L1134.9,501.2 L1135.3,500.2 L1135.6,499.6 L1135.9,499.7 L1136.3,499.9 L1136.6,501.3 L1136.9,501.8 L1137.3,502.3 L1137.6,502.8 L1137.9,502.5 L1138.3,503.5 L1138.6,503.1 L1138.9,502.1 L1139.3,501.2 L1139.6,500.2 L1140.0,498.5 L1140.3,497.9 L1140.6,495.4 L1141.0,494.6 L1141.3,493.5 L1141.6,492.1 L1142.0,490.5 L1142.3,489.5 L1142.6,482.9 L1143.0,481.8 L1143.3,481.3 L1143.6,481.2 L1144.0,480.7 L1144.3,480.5 L1144.7,481.1 L1145.0,484.6 L1145.3,484.5 L1145.7,482.8 L1146.0,481.0 L1146.3,479.5 L1146.7,478.2 L1147.0,476.4 L1147.3,476.8 L1147.7,475.7 L1148.0,475.1 L1148.3,475.0 L1148.7,474.4 L1149.0,474.8 L1149.4,475.9 L1149.7,475.9 L1150.0,477.2 L1150.4,476.8 L1150.7,476.7 L1151.0,478.0 L1151.4,476.7 L1151.7,475.2 L1152.0,474.9 L1152.4,473.4 L1152.7,474.8 L1153.0,475.0 L1153.4,475.0 L1153.7,476.0 L1154.1,476.3 L1154.4,476.1 L1154.7,477.3 L1155.1,477.8 L1155.4,477.3 L1155.7,469.6 L1156.1,469.9 L1156.4,471.5 L1156.7,473.8 L1157.1,474.5 L1157.4,475.5 L1157.7,476.4 L1158.1,485.3 L1158.4,484.8 L1158.7,484.3 L1159.1,483.0 L1159.4,480.9 L1159.8,479.4 L1160.1,478.1 L1160.4,476.5 L1160.8,476.9 L1161.1,474.8 L1161.4,472.7 L1161.8,470.8 L1162.1,469.4 L1162.4,468.1 L1162.8,465.5 L1163.1,463.3 L1163.4,462.4 L1163.8,461.8 L1164.1,463.2 L1164.5,461.0 L1164.8,459.7 L1165.1,459.6 L1165.5,458.3 L1165.8,457.5 L1166.1,456.0 L1166.5,453.1 L1166.8,454.1 L1167.1,451.8 L1167.5,449.6 L1167.8,448.5 L1168.1,446.8 L1168.5,446.0 L1168.8,444.9 L1169.2,442.7 L1169.5,443.1 L1169.8,442.9 L1170.2,440.2 L1170.5,438.7 L1170.8,438.7 L1171.2,437.8 L1171.5,436.6 L1171.8,435.8 L1172.2,433.5 L1172.5,435.3 L1172.8,436.1 L1173.2,435.9 L1173.5,437.8 L1173.9,439.1 L1174.2,438.8 L1174.5,441.7 L1174.9,442.7 L1175.2,444.5 L1175.5,443.9 L1175.9,445.2 L1176.2,445.9 L1176.5,449.9 L1176.9,452.3 L1177.2,452.9 L1177.5,454.2 L1177.9,456.6 L1178.2,457.0 L1178.6,458.9 L1178.9,459.5 L1179.2,460.6 L1179.6,462.8 L1179.9,463.6 L1180.2,465.2 L1180.6,466.3 L1180.9,465.9 L1181.2,465.0 L1181.6,463.6 L1181.9,462.1 L1182.2,460.8 L1182.6,457.7 L1182.9,449.1 L1183.2,447.8 L1183.6,447.1 L1183.9,445.1 L1184.3,446.0 L1184.6,445.2 L1184.9,446.4 L1185.3,452.9 L1185.6,452.4 L1185.9,452.1 L1186.3,454.4 L1186.6,453.4 L1186.9,455.0 L1187.3,455.8 L1187.6,458.4 L1187.9,459.9 L1188.3,462.5 L1188.6,464.0 L1189.0,465.7 L1189.3,466.7 L1189.6,468.3 L1190.0,468.8 L1190.3,469.8 L1190.6,468.0 L1191.0,467.6 L1191.3,467.6 L1191.6,468.0 L1192.0,465.8 L1192.3,459.8 L1192.6,459.4 L1193.0,459.8 L1193.3,458.2 L1193.7,457.9 L1194.0,457.0 L1194.3,458.8 L1194.7,463.7 L1195.0,462.8 L1195.3,463.3 L1195.7,466.1 L1196.0,466.3 L1196.3,467.2 L1196.7,467.9 L1197.0,469.6 L1197.3,471.2 L1197.7,472.0 L1198.0,471.7 L1198.4,473.1 L1198.7,473.7 L1199.0,474.9 L1199.4,475.0 L1199.7,475.3 L1200.0,476.2 L1200.4,476.8 L1200.7,474.2 L1201.0,474.8 L1201.4,474.4 L1201.7,475.7 L1202.0,475.9 L1202.4,476.6 L1202.7,476.1 L1203.0,477.3 L1203.4,477.1 L1203.7,477.4 L1204.1,477.4 L1204.4,479.0 L1204.7,480.1 L1205.1,481.1 L1205.4,483.0 L1205.7,482.5 L1206.1,482.2 L1206.4,480.9 L1206.7,481.1 L1207.1,481.5 L1207.4,483.0 L1207.7,469.3 L1208.1,470.8 L1208.4,472.0 L1208.8,474.3 L1209.1,475.4 L1209.4,475.0 L1209.8,476.7 L1210.1,491.3 L1210.4,493.5 L1210.8,493.7 L1211.1,494.9 L1211.4,495.0 L1211.8,495.2 L1212.1,494.7 L1212.4,494.9 L1212.8,490.5 L1213.1,492.0 L1213.5,491.9 L1213.8,495.2 L1214.1,495.2 L1214.5,490.2 L1214.8,484.4 L1215.1,479.4 L1215.5,472.4 L1215.8,467.6 L1216.1,459.8 L1216.5,452.2 L1216.8,449.0 L1217.1,445.7 L1217.5,446.7 L1217.8,443.3 L1218.2,422.6 L1218.5,420.7 L1218.8,417.2 L1219.2,412.4 L1219.5,408.7 L1219.8,403.3 L1220.2,398.6 L1220.5,414.4 L1220.8,411.0 L1221.2,407.5 L1221.5,405.8 L1221.8,399.4 L1222.2,394.7 L1222.5,397.9 L1222.8,395.2 L1223.2,395.1 L1223.5,389.0 L1223.9,387.0 L1224.2,364.1 L1224.5,359.7 L1224.9,326.7 L1225.2,326.0 L1225.5,297.7 L1225.9,294.6 L1226.2,275.4 L1226.5,292.7 L1226.9,278.7 L1227.2,296.0 L1227.5,270.3 L1227.9,291.0 L1228.2,273.6 L1228.6,295.2 L1228.9,279.4 L1229.2,288.3 L1229.6,272.7 L1229.9,286.2 L1230.2,258.6 L1230.6,279.0 L1230.9,251.0 L1231.2,274.4 L1231.6,252.9 L1231.9,278.4 L1232.2,252.3 L1232.6,273.3 L1232.9,260.4 L1233.3,282.9 L1233.6,262.2 L1233.9,284.5 L1234.3,283.9 L1234.6,323.2 L1234.9,336.5 L1235.3,357.1 L1235.6,361.4 L1235.9,383.0 L1236.3,394.0 L1236.6,402.4 L1236.9,405.6 L1237.3,405.2 L1237.6,404.3 L1238.0,388.9 L1238.3,394.7 L1238.6,396.1 L1239.0,396.7 L1239.3,398.1 L1239.6,402.7 L1240.0,407.2 L1240.3,423.2 L1240.6,419.1 L1241.0,418.0 L1241.3,413.3 L1241.6,406.5 L1242.0,400.5 L1242.3,393.9 L1242.6,388.1 L1243.0,383.4 L1243.3,377.5" fill="none" stroke="#8f82f0" stroke-width="1" stroke-dasharray="1,1" opacity="0.8"/>
<path d="M110.0,605.0 L110.3,604.9 L110.7,605.5 L111.0,606.5 L111.3,606.1 L111.7,606.6 L112.0,607.8 L112.3,607.2 L112.7,610.0 L113.0,612.3 L113.4,613.1 L113.7,614.5 L114.0,616.7 L114.4,617.5 L114.7,616.3 L115.0,613.6 L115.4,613.4 L115.7,612.6 L116.0,610.1 L116.4,602.6 L116.7,599.0 L117.0,593.6 L117.4,587.5 L117.7,584.8 L118.1,586.5 L118.4,586.5 L118.7,587.7 L119.1,586.6 L119.4,589.7 L119.7,590.9 L120.1,591.8 L120.4,594.2 L120.7,591.6 L121.1,591.9 L121.4,588.8 L121.7,587.5 L122.1,585.6 L122.4,586.9 L122.8,588.7 L123.1,587.9 L123.4,588.6 L123.8,588.0 L124.1,588.4 L124.4,587.1 L124.8,584.6 L125.1,582.0 L125.4,582.2 L125.8,584.6 L126.1,584.6 L126.4,583.6 L126.8,585.7 L127.1,585.7 L127.5,585.4 L127.8,585.4 L128.1,584.9 L128.5,584.2 L128.8,582.1 L129.1,582.3 L129.5,581.9 L129.8,583.0 L130.1,582.2 L130.5,579.2 L130.8,578.3 L131.1,579.5 L131.5,578.2 L131.8,576.3 L132.1,573.9 L132.5,571.8 L132.8,570.9 L133.2,569.0 L133.5,570.5 L133.8,569.7 L134.2,569.4 L134.5,570.8 L134.8,572.2 L135.2,570.4 L135.5,565.0 L135.8,560.1 L136.2,554.1 L136.5,546.0 L136.8,541.0 L137.2,543.0 L137.5,545.7 L137.9,546.7 L138.2,548.6 L138.5,550.0 L138.9,549.6 L139.2,541.9 L139.5,534.5 L139.9,525.9 L140.2,517.3 L140.5,508.8 L140.9,502.4 L141.2,496.6 L141.5,490.1 L141.9,484.3 L142.2,481.4 L142.6,477.3 L142.9,474.7 L143.2,472.0 L143.6,468.8 L143.9,467.1 L144.2,465.4 L144.6,464.7 L144.9,467.1 L145.2,468.3 L145.6,471.9 L145.9,474.0 L146.2,477.5 L146.6,474.6 L146.9,471.9 L147.3,470.0 L147.6,469.0 L147.9,467.4 L148.3,466.8 L148.6,468.9 L148.9,470.8 L149.3,472.1 L149.6,473.2 L149.9,477.2 L150.3,478.6 L150.6,479.3 L150.9,477.9 L151.3,475.8 L151.6,473.5 L151.9,472.2 L152.3,470.6 L152.6,468.8 L153.0,469.0 L153.3,469.7 L153.6,469.2 L154.0,469.1 L154.3,468.8 L154.6,469.4 L155.0,468.3 L155.3,466.4 L155.6,462.7 L156.0,455.5 L156.3,447.6 L156.6,442.7 L157.0,436.3 L157.3,432.7 L157.7,429.9 L158.0,426.4 L158.3,422.7 L158.7,420.0 L159.0,417.6 L159.3,418.5 L159.7,421.8 L160.0,423.6 L160.3,425.5 L160.7,422.7 L161.0,421.8 L161.3,422.0 L161.7,422.7 L162.0,424.2 L162.4,421.6 L162.7,421.9 L163.0,420.1 L163.4,416.7 L163.7,410.9 L164.0,406.8 L164.4,404.5 L164.7,396.3 L165.0,386.6 L165.4,377.8 L165.7,366.9 L166.0,365.6 L166.4,362.2 L166.7,359.1 L167.1,356.0 L167.4,354.2 L167.7,352.0 L168.1,351.1 L168.4,347.2 L168.7,342.5 L169.1,339.1 L169.4,335.3 L169.7,329.1 L170.1,325.4 L170.4,320.2 L170.7,316.2 L171.1,312.0 L171.4,310.9 L171.8,312.2 L172.1,311.0 L172.4,310.4 L172.8,312.5 L173.1,313.3 L173.4,315.8 L173.8,317.3 L174.1,318.8 L174.4,323.5 L174.8,325.8 L175.1,326.6 L175.4,332.5 L175.8,333.4 L176.1,337.6 L176.4,341.5 L176.8,341.5 L177.1,339.2 L177.5,340.2 L177.8,338.2 L178.1,336.3 L178.5,337.5 L178.8,342.1 L179.1,346.1 L179.5,350.8 L179.8,353.9 L180.1,357.4 L180.5,359.6 L180.8,362.9 L181.1,367.3 L181.5,370.5 L181.8,374.8 L182.2,377.7 L182.5,375.5 L182.8,370.1 L183.2,364.4 L183.5,359.7 L183.8,354.4 L184.2,351.2 L184.5,352.8 L184.8,355.2 L185.2,356.6 L185.5,359.3 L185.8,362.8 L186.2,361.6 L186.5,358.8 L186.9,357.0 L187.2,354.1 L187.5,350.7 L187.9,349.2 L188.2,346.6 L188.5,344.3 L188.9,343.1 L189.2,341.8 L189.5,338.6 L189.9,335.2 L190.2,332.8 L190.5,330.3 L190.9,328.0 L191.2,329.7 L191.6,329.8 L191.9,330.8 L192.2,329.4 L192.6,331.1 L192.9,330.5 L193.2,330.5 L193.6,328.8 L193.9,328.7 L194.2,328.3 L194.6,326.3 L194.9,325.2 L195.2,323.5 L195.6,323.0 L195.9,320.7 L196.2,317.8 L196.6,316.0 L196.9,315.1 L197.3,314.9 L197.6,314.2 L197.9,310.3 L198.3,309.8 L198.6,314.0 L198.9,316.4 L199.3,318.1 L199.6,320.9 L199.9,322.6 L200.3,325.7 L200.6,328.6 L200.9,333.4 L201.3,337.1 L201.6,339.3 L202.0,343.2 L202.3,347.5 L202.6,349.9 L203.0,352.5 L203.3,348.1 L203.6,347.2 L204.0,344.3 L204.3,339.6 L204.6,335.3 L205.0,333.0 L205.3,332.4 L205.6,331.9 L206.0,332.2 L206.3,330.4 L206.7,328.4 L207.0,329.2 L207.3,329.4 L207.7,329.0 L208.0,330.3 L208.3,328.7 L208.7,327.9 L209.0,328.6 L209.3,329.9 L209.7,328.9 L210.0,330.0 L210.3,328.3 L210.7,327.7 L211.0,326.5 L211.4,323.5 L211.7,322.8 L212.0,323.0 L212.4,321.8 L212.7,321.5 L213.0,325.0 L213.4,325.2 L213.7,325.1 L214.0,326.0 L214.4,326.3 L214.7,329.7 L215.0,331.9 L215.4,331.5 L215.7,330.6 L216.0,334.1 L216.4,333.1 L216.7,332.0 L217.1,332.3 L217.4,332.9 L217.7,333.1 L218.1,331.8 L218.4,330.2 L218.7,330.8 L219.1,330.6 L219.4,328.4 L219.7,329.7 L220.1,330.4 L220.4,329.8 L220.7,329.2 L221.1,329.1 L221.4,327.9 L221.8,325.9 L222.1,326.0 L222.4,323.8 L222.8,324.0 L223.1,321.9 L223.4,321.4 L223.8,320.5 L224.1,320.2 L224.4,316.4 L224.8,312.1 L225.1,308.8 L225.4,304.9 L225.8,301.7 L226.1,299.7 L226.5,298.2 L226.8,297.8 L227.1,294.3 L227.5,295.7 L227.8,299.0 L228.1,299.5 L228.5,297.4 L228.8,298.1 L229.1,299.0 L229.5,296.9 L229.8,297.8 L230.1,298.3 L230.5,298.1 L230.8,299.7 L231.2,299.7 L231.5,295.5 L231.8,292.2 L232.2,287.8 L232.5,283.2 L232.8,279.7 L233.2,276.8 L233.5,272.4 L233.8,266.1 L234.2,263.2 L234.5,257.6 L234.8,254.8 L235.2,258.5 L235.5,259.9 L235.8,259.8 L236.2,259.5 L236.5,262.4 L236.9,263.8 L237.2,265.9 L237.5,266.9 L237.9,264.2 L238.2,261.2 L238.5,257.4 L238.9,250.9 L239.2,246.4 L239.5,243.7 L239.9,240.8 L240.2,238.7 L240.5,235.7 L240.9,233.0 L241.2,231.1 L241.6,227.1 L241.9,223.9 L242.2,219.0 L242.6,217.3 L242.9,214.5 L243.2,212.2 L243.6,215.9 L243.9,220.3 L244.2,223.2 L244.6,227.2 L244.9,228.4 L245.2,231.9 L245.6,235.1 L245.9,235.8 L246.3,235.2 L246.6,232.1 L246.9,230.7 L247.3,227.9 L247.6,226.9 L247.9,226.3 L248.3,223.0 L248.6,224.4 L248.9,231.1 L249.3,239.0 L249.6,245.4 L249.9,251.5 L250.3,259.0 L250.6,262.4 L251.0,262.2 L251.3,259.1 L251.6,258.0 L252.0,255.7 L252.3,252.9 L252.6,251.1 L253.0,247.8 L253.3,246.4 L253.6,244.2 L254.0,242.3 L254.3,240.0 L254.6,241.6 L255.0,242.6 L255.3,244.4 L255.7,246.2 L256.0,246.3 L256.3,248.2 L256.7,249.8 L257.0,250.8 L257.3,249.5 L257.7,248.2 L258.0,248.4 L258.3,250.3 L258.7,248.5 L259.0,248.4 L259.3,247.2 L259.7,247.4 L260.0,248.3 L260.3,252.2 L260.7,251.2 L261.0,253.1 L261.4,254.4 L261.7,256.9 L262.0,258.5 L262.4,260.3 L262.7,263.7 L263.0,268.7 L263.4,267.7 L263.7,269.9 L264.0,272.9 L264.4,275.4 L264.7,277.1 L265.0,277.5 L265.4,278.5 L265.7,281.5 L266.1,285.0 L266.4,287.2 L266.7,288.3 L267.1,290.5 L267.4,292.4 L267.7,295.2 L268.1,297.5 L268.4,298.9 L268.7,301.4 L269.1,302.1 L269.4,305.3 L269.7,309.0 L270.1,309.7 L270.4,312.5 L270.8,311.5 L271.1,310.7 L271.4,309.7 L271.8,307.3 L272.1,306.5 L272.4,303.8 L272.8,300.9 L273.1,298.1 L273.4,295.8 L273.8,293.3 L274.1,291.3 L274.4,288.4 L274.8,287.1 L275.1,286.0 L275.5,283.1 L275.8,279.0 L276.1,277.7 L276.5,276.8 L276.8,274.3 L277.1,270.4 L277.5,268.8 L277.8,269.2 L278.1,265.3 L278.5,264.4 L278.8,262.5 L279.1,259.8 L279.5,258.9 L279.8,255.8 L280.1,254.6 L280.5,254.7 L280.8,253.4 L281.2,254.0 L281.5,254.5 L281.8,255.7 L282.2,256.1 L282.5,260.8 L282.8,263.2 L283.2,264.6 L283.5,265.7 L283.8,264.5 L284.2,264.3 L284.5,262.9 L284.8,265.1 L285.2,264.4 L285.5,263.6 L285.9,265.1 L286.2,269.2 L286.5,273.1 L286.9,274.7 L287.2,277.3 L287.5,279.7 L287.9,282.7 L288.2,285.2 L288.5,286.3 L288.9,287.0 L289.2,287.0 L289.5,283.9 L289.9,284.0 L290.2,282.5 L290.6,279.6 L290.9,277.5 L291.2,275.3 L291.6,276.4 L291.9,279.6 L292.2,279.9 L292.6,279.6 L292.9,282.1 L293.2,283.9 L293.6,286.2 L293.9,288.8 L294.2,290.7 L294.6,293.7 L294.9,294.7 L295.3,294.3 L295.6,292.0 L295.9,289.3 L296.3,288.8 L296.6,288.3 L296.9,285.6 L297.3,285.8 L297.6,287.6 L297.9,290.5 L298.3,291.2 L298.6,292.4 L298.9,292.2 L299.3,296.8 L299.6,298.9 L299.9,301.6 L300.3,302.3 L300.6,302.0 L301.0,301.4 L301.3,299.6 L301.6,299.1 L302.0,297.8 L302.3,298.0 L302.6,295.7 L303.0,293.6 L303.3,293.5 L303.6,294.4 L304.0,293.8 L304.3,292.2 L304.6,291.4 L305.0,290.1 L305.3,291.7 L305.7,292.1 L306.0,293.0 L306.3,292.7 L306.7,291.3 L307.0,292.5 L307.3,294.5 L307.7,295.2 L308.0,295.2 L308.3,296.6 L308.7,296.1 L309.0,297.0 L309.3,296.2 L309.7,294.9 L310.0,295.6 L310.4,296.1 L310.7,299.9 L311.0,302.2 L311.4,304.9 L311.7,306.1 L312.0,306.4 L312.4,306.8 L312.7,310.0 L313.0,311.2 L313.4,315.3 L313.7,318.5 L314.0,319.6 L314.4,323.0 L314.7,324.7 L315.1,327.5 L315.4,328.6 L315.7,331.2 L316.1,331.4 L316.4,333.6 L316.7,334.4 L317.1,335.7 L317.4,336.1 L317.7,335.7 L318.1,335.1 L318.4,335.4 L318.7,335.9 L319.1,333.6 L319.4,333.7 L319.7,334.0 L320.1,332.5 L320.4,332.4 L320.8,330.1 L321.1,334.7 L321.4,337.8 L321.8,341.0 L322.1,345.8 L322.4,348.9 L322.8,353.0 L323.1,354.9 L323.4,357.5 L323.8,359.1 L324.1,362.2 L324.4,366.7 L324.8,365.8 L325.1,364.9 L325.5,361.5 L325.8,358.4 L326.1,355.8 L326.5,354.4 L326.8,352.8 L327.1,350.8 L327.5,349.5 L327.8,347.2 L328.1,345.2 L328.5,346.7 L328.8,346.2 L329.1,346.7 L329.5,349.0 L329.8,349.3 L330.2,350.5 L330.5,350.0 L330.8,352.8 L331.2,351.6 L331.5,351.8 L331.8,352.1 L332.2,355.8 L332.5,357.9 L332.8,359.2 L333.2,359.2 L333.5,361.3 L333.8,363.1 L334.2,363.8 L334.5,363.5 L334.9,362.0 L335.2,362.2 L335.5,362.5 L335.9,362.5 L336.2,362.2 L336.5,359.9 L336.9,359.9 L337.2,358.5 L337.5,358.4 L337.9,358.9 L338.2,358.0 L338.5,358.2 L338.9,360.9 L339.2,362.8 L339.6,363.5 L339.9,361.2 L340.2,361.2 L340.6,361.2 L340.9,361.8 L341.2,360.2 L341.6,358.7 L341.9,357.4 L342.2,357.7 L342.6,355.4 L342.9,354.5 L343.2,353.8 L343.6,355.0 L343.9,354.0 L344.2,355.3 L344.6,355.6 L344.9,356.2 L345.3,359.0 L345.6,362.9 L345.9,363.2 L346.3,366.9 L346.6,370.1 L346.9,372.2 L347.3,377.4 L347.6,381.5 L347.9,386.9 L348.3,389.9 L348.6,392.6 L348.9,396.8 L349.3,400.8 L349.6,402.9 L350.0,405.3 L350.3,406.0 L350.6,405.5 L351.0,405.0 L351.3,406.6 L351.6,404.1 L352.0,403.3 L352.3,404.2 L352.6,408.0 L353.0,412.9 L353.3,415.0 L353.6,418.2 L354.0,422.4 L354.3,423.8 L354.7,423.8 L355.0,423.6 L355.3,422.6 L355.7,425.1 L356.0,425.6 L356.3,428.0 L356.7,425.4 L357.0,421.0 L357.3,416.7 L357.7,414.1 L358.0,410.6 L358.3,407.5 L358.7,402.1 L359.0,399.8 L359.4,395.2 L359.7,389.8 L360.0,388.5 L360.4,388.6 L360.7,390.8 L361.0,389.9 L361.4,387.8 L361.7,389.1 L362.0,387.8 L362.4,386.0 L362.7,383.2 L363.0,380.4 L363.4,382.3 L363.7,382.2 L364.0,381.9 L364.4,381.5 L364.7,385.0 L365.1,388.0 L365.4,392.4 L365.7,396.4 L366.1,400.4 L366.4,403.0 L366.7,403.2 L367.1,404.5 L367.4,403.8 L367.7,402.0 L368.1,399.8 L368.4,399.3 L368.7,398.4 L369.1,398.6 L369.4,399.9 L369.8,399.3 L370.1,401.5 L370.4,403.1 L370.8,404.3 L371.1,405.8 L371.4,408.2 L371.8,409.1 L372.1,408.8 L372.4,411.1 L372.8,411.3 L373.1,411.2 L373.4,410.1 L373.8,410.9 L374.1,408.8 L374.5,406.4 L374.8,405.3 L375.1,403.6 L375.5,403.2 L375.8,401.9 L376.1,399.7 L376.5,397.4 L376.8,394.3 L377.1,392.7 L377.5,390.3 L377.8,387.3 L378.1,385.9 L378.5,384.7 L378.8,383.1 L379.2,380.2 L379.5,379.7 L379.8,380.3 L380.2,383.2 L380.5,385.5 L380.8,387.3 L381.2,389.9 L381.5,393.0 L381.8,392.5 L382.2,391.9 L382.5,391.0 L382.8,391.1 L383.2,391.0 L383.5,389.7 L383.8,390.3 L384.2,391.3 L384.5,392.5 L384.9,392.6 L385.2,392.5 L385.5,391.3 L385.9,392.5 L386.2,390.0 L386.5,389.8 L386.9,389.6 L387.2,390.8 L387.5,391.1 L387.9,389.9 L388.2,388.1 L388.5,387.1 L388.9,387.1 L389.2,387.1 L389.6,386.8 L389.9,385.9 L390.2,385.6 L390.6,386.7 L390.9,385.3 L391.2,385.2 L391.6,386.7 L391.9,384.6 L392.2,381.3 L392.6,379.3 L392.9,375.6 L393.2,372.9 L393.6,372.1 L393.9,371.7 L394.3,369.0 L394.6,369.9 L394.9,372.5 L395.3,371.9 L395.6,372.3 L395.9,374.3 L396.3,373.7 L396.6,374.4 L396.9,374.5 L397.3,372.3 L397.6,373.0 L397.9,372.9 L398.3,374.3 L398.6,377.1 L399.0,378.1 L399.3,377.9 L399.6,378.6 L400.0,379.1 L400.3,380.5 L400.6,378.9 L401.0,377.6 L401.3,375.3 L401.6,376.2 L402.0,376.4 L402.3,375.8 L402.6,375.1 L403.0,374.5 L403.3,373.6 L403.6,373.3 L404.0,372.9 L404.3,371.4 L404.7,368.5 L405.0,364.1 L405.3,360.0 L405.7,358.1 L406.0,355.3 L406.3,352.3 L406.7,350.3 L407.0,350.6 L407.3,347.5 L407.7,344.9 L408.0,341.2 L408.3,340.4 L408.7,339.9 L409.0,339.1 L409.4,338.1 L409.7,339.0 L410.0,338.8 L410.4,338.1 L410.7,339.7 L411.0,338.4 L411.4,336.8 L411.7,340.3 L412.0,341.0 L412.4,341.4 L412.7,341.5 L413.0,342.5 L413.4,344.5 L413.7,346.5 L414.1,348.3 L414.4,349.0 L414.7,348.3 L415.1,348.4 L415.4,348.7 L415.7,348.4 L416.1,346.5 L416.4,345.9 L416.7,343.8 L417.1,342.1 L417.4,338.9 L417.7,337.0 L418.1,335.6 L418.4,333.8 L418.8,333.2 L419.1,334.0 L419.4,333.7 L419.8,331.3 L420.1,328.3 L420.4,325.5 L420.8,322.3 L421.1,322.5 L421.4,324.5 L421.8,326.3 L422.1,328.1 L422.4,329.9 L422.8,331.3 L423.1,330.3 L423.5,331.5 L423.8,331.9 L424.1,329.8 L424.5,327.7 L424.8,326.7 L425.1,328.3 L425.5,331.5 L425.8,334.3 L426.1,337.2 L426.5,342.0 L426.8,347.2 L427.1,351.9 L427.5,356.3 L427.8,360.0 L428.1,357.7 L428.5,356.0 L428.8,356.7 L429.2,354.5 L429.5,352.2 L429.8,351.9 L430.2,351.7 L430.5,351.1 L430.8,353.1 L431.2,353.9 L431.5,354.9 L431.8,354.3 L432.2,354.9 L432.5,355.3 L432.8,354.4 L433.2,353.9 L433.5,353.3 L433.9,351.6 L434.2,350.5 L434.5,350.6 L434.9,353.1 L435.2,355.7 L435.5,356.9 L435.9,357.6 L436.2,359.2 L436.5,359.4 L436.9,360.7 L437.2,361.4 L437.5,360.4 L437.9,360.7 L438.2,362.3 L438.6,363.8 L438.9,365.4 L439.2,365.4 L439.6,365.1 L439.9,364.7 L440.2,365.6 L440.6,368.6 L440.9,370.5 L441.2,372.6 L441.6,374.4 L441.9,372.5 L442.2,372.4 L442.6,372.0 L442.9,373.6 L443.3,375.4 L443.6,374.2 L443.9,373.8 L444.3,374.0 L444.6,373.0 L444.9,371.8 L445.3,370.5 L445.6,371.1 L445.9,369.6 L446.3,370.5 L446.6,370.2 L446.9,370.0 L447.3,369.9 L447.6,367.1 L447.9,364.0 L448.3,362.5 L448.6,359.2 L449.0,356.2 L449.3,354.0 L449.6,357.8 L450.0,359.9 L450.3,363.2 L450.6,367.6 L451.0,373.0 L451.3,374.2 L451.6,375.2 L452.0,375.7 L452.3,373.7 L452.6,371.3 L453.0,371.2 L453.3,370.1 L453.7,369.7 L454.0,370.2 L454.3,369.1 L454.7,367.8 L455.0,366.9 L455.3,366.5 L455.7,367.2 L456.0,367.8 L456.3,366.6 L456.7,364.9 L457.0,368.1 L457.3,370.2 L457.7,372.0 L458.0,372.0 L458.4,374.3 L458.7,374.6 L459.0,375.4 L459.4,375.0 L459.7,375.7 L460.0,377.1 L460.4,376.6 L460.7,376.2 L461.0,375.7 L461.4,373.7 L461.7,371.7 L462.0,370.2 L462.4,368.0 L462.7,368.3 L463.1,366.6 L463.4,367.5 L463.7,368.7 L464.1,367.3 L464.4,367.3 L464.7,366.8 L465.1,365.4 L465.4,365.0 L465.7,364.7 L466.1,365.7 L466.4,367.0 L466.7,365.6 L467.1,365.2 L467.4,366.0 L467.7,367.6 L468.1,364.7 L468.4,366.4 L468.8,366.3 L469.1,368.4 L469.4,368.2 L469.8,370.4 L470.1,373.7 L470.4,378.4 L470.8,381.7 L471.1,382.0 L471.4,386.0 L471.8,387.3 L472.1,387.4 L472.4,386.3 L472.8,384.3 L473.1,383.0 L473.5,382.1 L473.8,381.7 L474.1,381.9 L474.5,381.7 L474.8,379.6 L475.1,379.2 L475.5,380.2 L475.8,381.1 L476.1,381.1 L476.5,381.6 L476.8,382.5 L477.1,384.0 L477.5,385.9 L477.8,386.0 L478.2,387.5 L478.5,391.2 L478.8,394.9 L479.2,398.7 L479.5,397.6 L479.8,399.1 L480.2,395.7 L480.5,396.1 L480.8,395.7 L481.2,395.2 L481.5,394.5 L481.8,395.6 L482.2,394.7 L482.5,395.5 L482.9,395.7 L483.2,395.6 L483.5,395.2 L483.9,394.3 L484.2,391.9 L484.5,391.8 L484.9,391.7 L485.2,390.5 L485.5,390.4 L485.9,390.6 L486.2,387.9 L486.5,386.4 L486.9,384.5 L487.2,382.1 L487.5,381.2 L487.9,378.8 L488.2,376.9 L488.6,375.9 L488.9,375.3 L489.2,375.0 L489.6,377.1 L489.9,375.7 L490.2,375.3 L490.6,373.1 L490.9,372.9 L491.2,373.4 L491.6,374.0 L491.9,372.2 L492.2,370.9 L492.6,371.6 L492.9,370.5 L493.3,370.8 L493.6,368.1 L493.9,368.2 L494.3,367.9 L494.6,366.9 L494.9,364.3 L495.3,362.5 L495.6,361.1 L495.9,359.8 L496.3,357.8 L496.6,355.7 L496.9,354.1 L497.3,354.1 L497.6,349.7 L498.0,346.2 L498.3,342.5 L498.6,339.9 L499.0,336.0 L499.3,335.0 L499.6,334.3 L500.0,334.8 L500.3,334.6 L500.6,335.6 L501.0,336.5 L501.3,337.7 L501.6,337.5 L502.0,339.1 L502.3,340.5 L502.7,345.5 L503.0,345.1 L503.3,347.8 L503.7,349.7 L504.0,351.5 L504.3,348.4 L504.7,349.5 L505.0,346.4 L505.3,347.7 L505.7,347.0 L506.0,347.9 L506.3,350.5 L506.7,355.3 L507.0,358.5 L507.4,357.8 L507.7,366.6 L508.0,389.7 L508.4,406.2 L508.7,404.8 L509.0,400.9 L509.4,398.8 L509.7,396.8 L510.0,393.6 L510.4,392.1 L510.7,391.2 L511.0,392.1 L511.4,392.0 L511.7,392.4 L512.0,395.4 L512.4,396.2 L512.7,395.4 L513.1,395.9 L513.4,395.6 L513.7,393.5 L514.1,391.5 L514.4,389.4 L514.7,387.3 L515.1,384.4 L515.4,382.8 L515.7,381.9 L516.1,378.8 L516.4,376.3 L516.7,373.9 L517.1,373.1 L517.4,376.1 L517.8,377.0 L518.1,379.0 L518.4,379.0 L518.8,379.7 L519.1,379.4 L519.4,378.2 L519.8,377.5 L520.1,375.1 L520.4,371.5 L520.8,370.1 L521.1,367.9 L521.4,366.6 L521.8,365.1 L522.1,364.4 L522.5,363.6 L522.8,363.0 L523.1,360.8 L523.5,360.5 L523.8,358.2 L524.1,356.7 L524.5,357.4 L524.8,356.7 L525.1,355.1 L525.5,356.8 L525.8,357.9 L526.1,359.2 L526.5,359.3 L526.8,359.6 L527.2,359.1 L527.5,358.5 L527.8,360.8 L528.2,360.7 L528.5,360.4 L528.8,360.2 L529.2,362.8 L529.5,364.3 L529.8,363.6 L530.2,362.4 L530.5,361.9 L530.8,361.9 L531.2,358.8 L531.5,358.8 L531.8,357.4 L532.2,355.5 L532.5,353.8 L532.9,353.6 L533.2,354.5 L533.5,353.5 L533.9,353.0 L534.2,350.8 L534.5,350.2 L534.9,350.0 L535.2,346.9 L535.5,345.3 L535.9,346.8 L536.2,345.2 L536.5,345.3 L536.9,346.6 L537.2,345.1 L537.6,345.1 L537.9,345.8 L538.2,347.4 L538.6,346.3 L538.9,347.6 L539.2,347.9 L539.6,349.4 L539.9,350.8 L540.2,351.2 L540.6,351.7 L540.9,349.5 L541.2,348.1 L541.6,347.4 L541.9,347.4 L542.3,349.1 L542.6,347.4 L542.9,347.5 L543.3,346.3 L543.6,344.9 L543.9,347.3 L544.3,347.9 L544.6,350.4 L544.9,352.1 L545.3,350.7 L545.6,348.1 L545.9,350.5 L546.3,349.7 L546.6,348.0 L547.0,348.6 L547.3,348.5 L547.6,347.4 L548.0,346.8 L548.3,346.7 L548.6,346.6 L549.0,347.4 L549.3,346.8 L549.6,346.2 L550.0,346.8 L550.3,347.0 L550.6,348.2 L551.0,347.7 L551.3,347.4 L551.6,345.8 L552.0,345.9 L552.3,341.1 L552.7,338.2 L553.0,334.0 L553.3,331.3 L553.7,329.2 L554.0,324.0 L554.3,321.9 L554.7,317.9 L555.0,317.9 L555.3,315.5 L555.7,311.7 L556.0,309.0 L556.3,308.9 L556.7,309.2 L557.0,309.9 L557.4,308.1 L557.7,307.1 L558.0,308.3 L558.4,306.6 L558.7,305.4 L559.0,303.3 L559.4,301.1 L559.7,301.8 L560.0,301.7 L560.4,301.5 L560.7,301.9 L561.0,304.0 L561.4,306.7 L561.7,307.5 L562.1,307.8 L562.4,307.4 L562.7,309.5 L563.1,309.7 L563.4,308.6 L563.7,308.1 L564.1,306.3 L564.4,305.6 L564.7,305.1 L565.1,302.4 L565.4,299.7 L565.7,297.5 L566.1,295.7 L566.4,300.2 L566.8,305.3 L567.1,309.9 L567.4,312.5 L567.8,315.6 L568.1,320.2 L568.4,318.1 L568.8,318.2 L569.1,318.1 L569.4,316.9 L569.8,314.8 L570.1,314.2 L570.4,312.2 L570.8,311.9 L571.1,314.1 L571.4,315.4 L571.8,317.3 L572.1,319.0 L572.5,319.6 L572.8,321.6 L573.1,322.9 L573.5,322.8 L573.8,323.7 L574.1,322.6 L574.5,321.1 L574.8,317.8 L575.1,318.1 L575.5,318.3 L575.8,318.4 L576.1,318.1 L576.5,316.1 L576.8,316.0 L577.2,314.6 L577.5,317.0 L577.8,316.1 L578.2,316.6 L578.5,314.4 L578.8,312.6 L579.2,311.7 L579.5,312.3 L579.8,312.7 L580.2,312.1 L580.5,308.3 L580.8,308.3 L581.2,305.6 L581.5,306.2 L581.9,307.0 L582.2,306.6 L582.5,306.3 L582.9,303.3 L583.2,305.0 L583.5,305.8 L583.9,307.5 L584.2,306.9 L584.5,307.3 L584.9,306.3 L585.2,306.5 L585.5,307.1 L585.9,307.9 L586.2,310.0 L586.6,308.9 L586.9,307.5 L587.2,305.9 L587.6,306.7 L587.9,304.3 L588.2,304.1 L588.6,299.9 L588.9,297.1 L589.2,295.9 L589.6,294.0 L589.9,296.1 L590.2,298.3 L590.6,295.7 L590.9,293.6 L591.3,292.7 L591.6,294.2 L591.9,294.9 L592.3,294.6 L592.6,291.5 L592.9,288.9 L593.3,283.9 L593.6,280.3 L593.9,279.2 L594.3,278.6 L594.6,276.5 L594.9,276.9 L595.3,279.3 L595.6,279.8 L595.9,279.7 L596.3,280.8 L596.6,281.7 L597.0,282.1 L597.3,281.8 L597.6,280.0 L598.0,278.2 L598.3,275.6 L598.6,275.3 L599.0,274.5 L599.3,273.9 L599.6,274.8 L600.0,275.3 L600.3,275.7 L600.6,274.7 L601.0,273.1 L601.3,274.5 L601.7,272.3 L602.0,271.3 L602.3,271.1 L602.7,272.3 L603.0,273.6 L603.3,275.8 L603.7,276.4 L604.0,275.1 L604.3,274.9 L604.7,273.6 L605.0,271.2 L605.3,268.5 L605.7,266.7 L606.0,266.0 L606.4,263.4 L606.7,259.1 L607.0,253.8 L607.4,247.9 L607.7,240.0 L608.0,235.3 L608.4,229.3 L608.7,227.3 L609.0,224.8 L609.4,221.8 L609.7,221.1 L610.0,218.4 L610.4,219.8 L610.7,222.4 L611.1,225.6 L611.4,227.9 L611.7,226.9 L612.1,224.8 L612.4,222.5 L612.7,222.0 L613.1,218.7 L613.4,215.9 L613.7,214.1 L614.1,213.9 L614.4,215.7 L614.7,218.4 L615.1,218.8 L615.4,219.5 L615.7,216.6 L616.1,216.8 L616.4,214.5 L616.8,213.8 L617.1,211.2 L617.4,209.4 L617.8,206.5 L618.1,201.3 L618.4,199.3 L618.8,197.8 L619.1,193.7 L619.4,193.4 L619.8,192.8 L620.1,191.3 L620.4,190.9 L620.8,188.4 L621.1,188.6 L621.5,189.6 L621.8,187.6 L622.1,187.0 L622.5,188.4 L622.8,188.1 L623.1,187.0 L623.5,186.1 L623.8,189.1 L624.1,191.8 L624.5,195.5 L624.8,196.5 L625.1,200.7 L625.5,203.1 L625.8,206.7 L626.2,206.7 L626.5,203.5 L626.8,201.2 L627.2,198.4 L627.5,196.4 L627.8,195.6 L628.2,195.4 L628.5,194.3 L628.8,192.6 L629.2,191.1 L629.5,190.9 L629.8,191.3 L630.2,189.9 L630.5,188.8 L630.9,187.3 L631.2,188.8 L631.5,191.3 L631.9,189.0 L632.2,190.7 L632.5,191.3 L632.9,189.7 L633.2,191.6 L633.5,192.9 L633.9,194.8 L634.2,194.6 L634.5,198.7 L634.9,200.3 L635.2,197.1 L635.5,196.0 L635.9,193.7 L636.2,191.7 L636.6,190.1 L636.9,184.4 L637.2,183.5 L637.6,181.7 L637.9,181.1 L638.2,181.4 L638.6,179.7 L638.9,179.2 L639.2,179.2 L639.6,178.3 L639.9,177.0 L640.2,173.0 L640.6,169.4 L640.9,166.0 L641.3,164.4 L641.6,167.1 L641.9,167.5 L642.3,168.5 L642.6,169.6 L642.9,172.0 L643.3,174.1 L643.6,173.9 L643.9,175.5 L644.3,174.5 L644.6,174.6 L644.9,171.2 L645.3,168.4 L645.6,168.2 L646.0,165.1 L646.3,162.8 L646.6,160.2 L647.0,157.4 L647.3,154.9 L647.6,152.2 L648.0,149.7 L648.3,146.0 L648.6,142.3 L649.0,142.3 L649.3,140.1 L649.6,137.2 L650.0,134.0 L650.3,129.5 L650.7,127.1 L651.0,129.8 L651.3,134.0 L651.7,135.9 L652.0,136.0 L652.3,138.3 L652.7,142.8 L653.0,152.5 L653.3,160.3 L653.7,165.6 L654.0,171.9 L654.3,177.2 L654.7,175.1 L655.0,170.3 L655.3,164.6 L655.7,161.5 L656.0,158.1 L656.4,155.9 L656.7,156.3 L657.0,158.8 L657.4,158.8 L657.7,158.3 L658.0,159.4 L658.4,157.3 L658.7,158.8 L659.0,158.9 L659.4,159.0 L659.7,160.2 L660.0,163.3 L660.4,163.4 L660.7,165.7 L661.1,167.7 L661.4,168.0 L661.7,171.3 L662.1,172.3 L662.4,172.6 L662.7,173.7 L663.1,174.9 L663.4,177.7 L663.7,178.9 L664.1,183.0 L664.4,185.4 L664.7,186.7 L665.1,187.8 L665.4,190.2 L665.8,188.2 L666.1,184.2 L666.4,181.8 L666.8,181.3 L667.1,180.2 L667.4,179.0 L667.8,177.4 L668.1,173.4 L668.4,172.7 L668.8,171.7 L669.1,173.9 L669.4,175.1 L669.8,176.2 L670.1,177.9 L670.5,179.5 L670.8,181.0 L671.1,182.6 L671.5,182.8 L671.8,181.9 L672.1,183.2 L672.5,185.8 L672.8,187.9 L673.1,188.4 L673.5,190.0 L673.8,190.3 L674.1,191.6 L674.5,188.7 L674.8,186.2 L675.2,186.0 L675.5,184.2 L675.8,183.4 L676.2,179.7 L676.5,176.2 L676.8,173.4 L677.2,171.4 L677.5,168.5 L677.8,167.1 L678.2,163.7 L678.5,162.8 L678.8,161.3 L679.2,157.2 L679.5,155.3 L679.8,152.3 L680.2,152.3 L680.5,151.5 L680.9,151.7 L681.2,152.2 L681.5,148.6 L681.9,146.1 L682.2,146.1 L682.5,145.8 L682.9,147.6 L683.2,148.4 L683.5,147.3 L683.9,148.2 L684.2,147.7 L684.5,148.0 L684.9,147.8 L685.2,148.7 L685.6,147.5 L685.9,146.6 L686.2,143.1 L686.6,144.4 L686.9,141.9 L687.2,139.5 L687.6,136.8 L687.9,134.7 L688.2,132.8 L688.6,132.3 L688.9,131.2 L689.2,133.0 L689.6,134.6 L689.9,136.8 L690.3,140.7 L690.6,143.0 L690.9,145.7 L691.3,145.4 L691.6,145.5 L691.9,144.8 L692.3,145.4 L692.6,140.9 L692.9,139.9 L693.3,138.7 L693.6,140.0 L693.9,141.8 L694.3,144.6 L694.6,148.0 L695.0,150.5 L695.3,152.7 L695.6,154.9 L696.0,155.9 L696.3,156.1 L696.6,155.4 L697.0,153.2 L697.3,155.1 L697.6,153.1 L698.0,153.1 L698.3,150.5 L698.6,149.0 L699.0,146.7 L699.3,145.6 L699.6,143.4 L700.0,140.8 L700.3,140.4 L700.7,141.2 L701.0,140.9 L701.3,140.2 L701.7,138.1 L702.0,137.2 L702.3,136.9 L702.7,135.3 L703.0,135.4 L703.3,134.0 L703.7,133.1 L704.0,131.1 L704.3,129.1 L704.7,128.0 L705.0,127.1 L705.4,126.8 L705.7,125.5 L706.0,124.6 L706.4,124.6 L706.7,122.3 L707.0,123.6 L707.4,124.0 L707.7,124.0 L708.0,123.1 L708.4,123.7 L708.7,122.6 L709.0,124.2 L709.4,124.0 L709.7,121.3 L710.1,121.5 L710.4,120.0 L710.7,118.6 L711.1,117.5 L711.4,116.6 L711.7,116.3 L712.1,118.6 L712.4,120.4 L712.7,120.8 L713.1,120.4 L713.4,120.7 L713.7,122.4 L714.1,124.8 L714.4,128.3 L714.8,127.6 L715.1,126.9 L715.4,125.7 L715.8,124.4 L716.1,123.7 L716.4,122.6 L716.8,121.4 L717.1,119.7 L717.4,119.4 L717.8,119.9 L718.1,121.1 L718.4,119.6 L718.8,119.1 L719.1,120.1 L719.4,120.3 L719.8,122.8 L720.1,123.0 L720.5,124.4 L720.8,124.0 L721.1,124.8 L721.5,126.3 L721.8,129.3 L722.1,129.5 L722.5,131.0 L722.8,129.5 L723.1,129.0 L723.5,129.1 L723.8,129.5 L724.1,131.1 L724.5,132.6 L724.8,130.0 L725.2,130.2 L725.5,128.3 L725.8,130.1 L726.2,130.0 L726.5,129.6 L726.8,128.9 L727.2,128.4 L727.5,128.1 L727.8,127.5 L728.2,128.7 L728.5,129.2 L728.8,130.4 L729.2,130.6 L729.5,131.7 L729.9,131.0 L730.2,135.7 L730.5,136.5 L730.9,138.3 L731.2,141.9 L731.5,145.8 L731.9,147.2 L732.2,147.5 L732.5,148.2 L732.9,147.6 L733.2,145.9 L733.5,144.9 L733.9,145.4 L734.2,145.9 L734.6,144.4 L734.9,145.3 L735.2,149.7 L735.6,154.7 L735.9,157.8 L736.2,160.2 L736.6,164.4 L736.9,168.4 L737.2,167.2 L737.6,169.1 L737.9,170.7 L738.2,169.8 L738.6,167.3 L738.9,166.0 L739.2,165.1 L739.6,165.2 L739.9,161.9 L740.3,162.7 L740.6,163.3 L740.9,160.1 L741.3,155.5 L741.6,153.0 L741.9,151.2 L742.3,150.6 L742.6,149.2 L742.9,146.6 L743.3,145.4 L743.6,148.1 L743.9,151.1 L744.3,152.7 L744.6,155.1 L745.0,157.3 L745.3,159.0 L745.6,159.6 L746.0,162.0 L746.3,159.7 L746.6,160.6 L747.0,158.6 L747.3,158.4 L747.6,156.6 L748.0,156.3 L748.3,155.2 L748.6,155.0 L749.0,153.2 L749.3,153.4 L749.7,155.5 L750.0,157.6 L750.3,158.2 L750.7,159.8 L751.0,160.2 L751.3,162.8 L751.7,164.8 L752.0,165.9 L752.3,167.2 L752.7,165.5 L753.0,164.0 L753.3,162.8 L753.7,160.7 L754.0,158.0 L754.4,157.1 L754.7,156.5 L755.0,151.6 L755.4,150.6 L755.7,149.3 L756.0,147.7 L756.4,148.4 L756.7,146.9 L757.0,147.2 L757.4,145.6 L757.7,144.3 L758.0,144.9 L758.4,143.8 L758.7,143.4 L759.1,141.9 L759.4,140.7 L759.7,141.4 L760.1,142.0 L760.4,140.4 L760.7,139.4 L761.1,143.4 L761.4,143.4 L761.7,143.2 L762.1,144.6 L762.4,144.4 L762.7,144.8 L763.1,146.7 L763.4,148.8 L763.7,148.9 L764.1,150.9 L764.4,151.1 L764.8,151.1 L765.1,151.5 L765.4,151.4 L765.8,152.5 L766.1,153.2 L766.4,152.5 L766.8,153.0 L767.1,152.3 L767.4,151.6 L767.8,151.4 L768.1,152.6 L768.4,152.9 L768.8,154.5 L769.1,156.4 L769.5,156.3 L769.8,155.5 L770.1,154.5 L770.5,156.2 L770.8,159.0 L771.1,162.7 L771.5,162.7 L771.8,165.6 L772.1,168.6 L772.5,173.7 L772.8,176.3 L773.1,178.6 L773.5,179.1 L773.8,180.5 L774.2,180.7 L774.5,180.2 L774.8,179.8 L775.2,178.6 L775.5,179.2 L775.8,180.4 L776.2,182.1 L776.5,182.7 L776.8,184.7 L777.2,186.8 L777.5,185.6 L777.8,185.7 L778.2,184.4 L778.5,183.5 L778.9,184.0 L779.2,184.1 L779.5,186.3 L779.9,189.1 L780.2,189.9 L780.5,190.0 L780.9,190.0 L781.2,190.2 L781.5,191.2 L781.9,190.5 L782.2,191.4 L782.5,191.3 L782.9,192.9 L783.2,199.4 L783.5,206.7 L783.9,211.6 L784.2,215.1 L784.6,218.5 L784.9,224.0 L785.2,228.1 L785.6,231.9 L785.9,237.4 L786.2,232.2 L786.6,229.1 L786.9,227.5 L787.2,223.2 L787.6,224.6 L787.9,224.6 L788.2,226.8 L788.6,228.0 L788.9,228.6 L789.3,228.3 L789.6,230.7 L789.9,228.0 L790.3,225.8 L790.6,225.1 L790.9,224.7 L791.3,224.4 L791.6,224.4 L791.9,224.5 L792.3,226.7 L792.6,228.2 L792.9,227.6 L793.3,230.9 L793.6,231.7 L794.0,231.9 L794.3,226.4 L794.6,221.2 L795.0,216.9 L795.3,212.3 L795.6,211.8 L796.0,208.1 L796.3,206.6 L796.6,203.6 L797.0,202.5 L797.3,201.1 L797.6,199.1 L798.0,200.7 L798.3,199.5 L798.7,199.7 L799.0,196.9 L799.3,195.6 L799.7,194.6 L800.0,195.7 L800.3,196.5 L800.7,196.6 L801.0,194.0 L801.3,194.4 L801.7,194.5 L802.0,195.4 L802.3,195.0 L802.7,195.4 L803.0,193.7 L803.3,192.6 L803.7,191.0 L804.0,189.5 L804.4,187.8 L804.7,185.1 L805.0,184.5 L805.4,185.8 L805.7,189.0 L806.0,190.8 L806.4,193.7 L806.7,193.0 L807.0,194.3 L807.4,196.4 L807.7,198.9 L808.0,199.1 L808.4,198.6 L808.7,197.8 L809.1,199.2 L809.4,204.0 L809.7,206.1 L810.1,206.0 L810.4,205.7 L810.7,204.5 L811.1,204.0 L811.4,202.7 L811.7,200.3 L812.1,198.9 L812.4,198.7 L812.7,197.8 L813.1,198.0 L813.4,195.3 L813.8,195.3 L814.1,194.0 L814.4,192.9 L814.8,195.8 L815.1,197.7 L815.4,200.1 L815.8,203.0 L816.1,205.9 L816.4,209.0 L816.8,212.7 L817.1,214.5 L817.4,214.5 L817.8,218.2 L818.1,218.8 L818.5,219.9 L818.8,219.5 L819.1,217.1 L819.5,215.7 L819.8,215.5 L820.1,215.8 L820.5,215.4 L820.8,216.1 L821.1,217.0 L821.5,217.8 L821.8,217.5 L822.1,217.2 L822.5,216.6 L822.8,215.2 L823.1,216.6 L823.5,214.9 L823.8,215.2 L824.2,215.9 L824.5,213.7 L824.8,215.0 L825.2,215.0 L825.5,215.7 L825.8,215.7 L826.2,214.2 L826.5,214.9 L826.8,215.5 L827.2,217.1 L827.5,218.1 L827.8,216.0 L828.2,214.7 L828.5,213.1 L828.9,211.4 L829.2,209.3 L829.5,205.7 L829.9,203.8 L830.2,202.1 L830.5,204.8 L830.9,203.5 L831.2,201.2 L831.5,199.8 L831.9,200.6 L832.2,199.1 L832.5,200.6 L832.9,207.0 L833.2,212.0 L833.6,215.9 L833.9,221.3 L834.2,224.7 L834.6,227.8 L834.9,228.8 L835.2,227.3 L835.6,227.1 L835.9,226.3 L836.2,226.5 L836.6,225.8 L836.9,222.4 L837.2,222.4 L837.6,221.0 L837.9,222.0 L838.3,222.1 L838.6,223.9 L838.9,223.5 L839.3,220.9 L839.6,220.5 L839.9,221.1 L840.3,220.4 L840.6,219.4 L840.9,220.9 L841.3,220.4 L841.6,221.3 L841.9,221.2 L842.3,219.0 L842.6,217.4 L843.0,216.7 L843.3,218.0 L843.6,218.1 L844.0,217.5 L844.3,217.4 L844.6,217.8 L845.0,217.9 L845.3,218.3 L845.6,221.8 L846.0,223.2 L846.3,223.4 L846.6,224.2 L847.0,226.8 L847.3,228.2 L847.6,228.6 L848.0,227.5 L848.3,226.0 L848.7,226.1 L849.0,226.6 L849.3,225.1 L849.7,224.0 L850.0,224.6 L850.3,222.2 L850.7,219.0 L851.0,217.9 L851.3,217.6 L851.7,217.0 L852.0,217.2 L852.3,218.1 L852.7,218.2 L853.0,216.8 L853.4,218.3 L853.7,218.3 L854.0,217.4 L854.4,214.2 L854.7,212.6 L855.0,207.9 L855.4,205.4 L855.7,201.5 L856.0,200.3 L856.4,200.9 L856.7,200.2 L857.0,201.6 L857.4,200.9 L857.7,200.4 L858.1,199.3 L858.4,199.2 L858.7,198.4 L859.1,199.2 L859.4,200.5 L859.7,200.3 L860.1,198.1 L860.4,198.1 L860.7,199.1 L861.1,199.1 L861.4,198.6 L861.7,199.0 L862.1,199.8 L862.4,195.8 L862.8,196.9 L863.1,197.0 L863.4,196.8 L863.8,196.0 L864.1,197.0 L864.4,198.5 L864.8,197.3 L865.1,199.0 L865.4,199.8 L865.8,202.3 L866.1,203.4 L866.4,202.4 L866.8,201.7 L867.1,201.8 L867.4,201.2 L867.8,201.1 L868.1,199.4 L868.5,197.1 L868.8,196.1 L869.1,195.4 L869.5,195.5 L869.8,197.1 L870.1,196.1 L870.5,195.7 L870.8,197.7 L871.1,198.1 L871.5,199.2 L871.8,198.8 L872.1,198.6 L872.5,199.4 L872.8,202.6 L873.2,204.3 L873.5,203.4 L873.8,205.1 L874.2,207.4 L874.5,209.5 L874.8,209.1 L875.2,207.4 L875.5,207.7 L875.8,204.1 L876.2,202.2 L876.5,198.9 L876.8,195.0 L877.2,193.9 L877.5,195.1 L877.9,196.4 L878.2,195.1 L878.5,194.4 L878.9,193.1 L879.2,190.4 L879.5,191.0 L879.9,192.8 L880.2,193.5 L880.5,191.7 L880.9,192.1 L881.2,192.1 L881.5,190.5 L881.9,189.2 L882.2,187.4 L882.6,186.5 L882.9,188.0 L883.2,187.8 L883.6,187.3 L883.9,189.3 L884.2,190.4 L884.6,189.0 L884.9,188.7 L885.2,188.3 L885.6,186.1 L885.9,185.0 L886.2,184.7 L886.6,183.0 L886.9,181.7 L887.2,179.2 L887.6,180.9 L887.9,183.4 L888.3,183.8 L888.6,183.7 L888.9,187.0 L889.3,189.0 L889.6,188.6 L889.9,186.6 L890.3,186.3 L890.6,187.8 L890.9,187.2 L891.3,187.0 L891.6,186.4 L891.9,187.3 L892.3,189.1 L892.6,187.6 L893.0,187.3 L893.3,187.2 L893.6,186.7 L894.0,185.6 L894.3,186.9 L894.6,187.4 L895.0,188.6 L895.3,190.8 L895.6,190.7 L896.0,191.7 L896.3,191.3 L896.6,191.3 L897.0,191.7 L897.3,191.6 L897.7,189.7 L898.0,191.7 L898.3,191.9 L898.7,190.5 L899.0,187.8 L899.3,187.8 L899.7,188.7 L900.0,190.0 L900.3,191.0 L900.7,190.1 L901.0,190.6 L901.3,188.2 L901.7,188.0 L902.0,188.8 L902.4,187.6 L902.7,187.1 L903.0,186.8 L903.4,186.6 L903.7,188.7 L904.0,188.2 L904.4,190.6 L904.7,189.9 L905.0,189.8 L905.4,189.6 L905.7,190.3 L906.0,190.5 L906.4,191.9 L906.7,192.7 L907.0,196.2 L907.4,197.5 L907.7,196.0 L908.1,195.2 L908.4,194.7 L908.7,193.3 L909.1,190.6 L909.4,188.4 L909.7,187.4 L910.1,187.2 L910.4,186.8 L910.7,185.7 L911.1,185.4 L911.4,183.8 L911.7,183.1 L912.1,183.8 L912.4,184.3 L912.8,186.7 L913.1,186.8 L913.4,187.7 L913.8,187.1 L914.1,188.9 L914.4,189.0 L914.8,188.0 L915.1,188.0 L915.4,188.7 L915.8,186.0 L916.1,184.2 L916.4,185.4 L916.8,185.6 L917.1,185.5 L917.5,183.5 L917.8,185.5 L918.1,186.7 L918.5,187.7 L918.8,186.6 L919.1,187.5 L919.5,189.2 L919.8,189.0 L920.1,188.9 L920.5,188.5 L920.8,189.5 L921.1,189.4 L921.5,189.3 L921.8,187.7 L922.2,185.8 L922.5,187.2 L922.8,189.3 L923.2,190.1 L923.5,191.7 L923.8,190.9 L924.2,190.6 L924.5,190.9 L924.8,190.5 L925.2,192.4 L925.5,190.5 L925.8,189.9 L926.2,189.9 L926.5,189.4 L926.9,190.9 L927.2,188.9 L927.5,190.7 L927.9,192.3 L928.2,193.1 L928.5,195.3 L928.9,198.0 L929.2,197.9 L929.5,198.5 L929.9,198.6 L930.2,198.9 L930.5,197.9 L930.9,196.7 L931.2,197.1 L931.5,196.1 L931.9,196.9 L932.2,197.6 L932.6,197.4 L932.9,198.2 L933.2,198.7 L933.6,198.9 L933.9,200.7 L934.2,201.1 L934.6,201.8 L934.9,199.7 L935.2,200.6 L935.6,198.6 L935.9,198.0 L936.2,199.8 L936.6,201.8 L936.9,201.2 L937.3,199.4 L937.6,199.7 L937.9,199.1 L938.3,199.3 L938.6,197.4 L938.9,198.6 L939.3,201.1 L939.6,200.0 L939.9,199.7 L940.3,199.5 L940.6,201.1 L940.9,199.3 L941.3,200.3 L941.6,200.7 L942.0,200.3 L942.3,201.2 L942.6,198.9 L943.0,197.2 L943.3,196.3 L943.6,197.3 L944.0,196.9 L944.3,196.0 L944.6,197.1 L945.0,197.0 L945.3,196.8 L945.6,196.9 L946.0,197.9 L946.3,201.8 L946.7,200.9 L947.0,201.8 L947.3,202.2 L947.7,202.4 L948.0,204.0 L948.3,204.0 L948.7,203.9 L949.0,202.4 L949.3,200.4 L949.7,199.9 L950.0,198.6 L950.3,197.0 L950.7,196.9 L951.0,194.5 L951.3,192.6 L951.7,192.7 L952.0,191.7 L952.4,191.6 L952.7,189.6 L953.0,189.6 L953.4,187.8 L953.7,188.6 L954.0,187.6 L954.4,186.2 L954.7,186.2 L955.0,184.7 L955.4,181.9 L955.7,181.9 L956.0,180.4 L956.4,180.0 L956.7,178.4 L957.1,181.7 L957.4,182.4 L957.7,182.6 L958.1,182.7 L958.4,185.5 L958.7,184.8 L959.1,184.4 L959.4,184.5 L959.7,185.4 L960.1,185.0 L960.4,182.9 L960.7,182.9 L961.1,182.3 L961.4,182.8 L961.8,183.0 L962.1,181.2 L962.4,180.4 L962.8,179.1 L963.1,178.3 L963.4,177.3 L963.8,176.0 L964.1,175.5 L964.4,174.3 L964.8,173.9 L965.1,172.6 L965.4,171.1 L965.8,171.7 L966.1,173.2 L966.5,174.9 L966.8,175.9 L967.1,175.9 L967.5,176.4 L967.8,176.8 L968.1,174.8 L968.5,173.7 L968.8,175.6 L969.1,175.4 L969.5,171.8 L969.8,171.6 L970.1,171.8 L970.5,170.2 L970.8,173.0 L971.1,174.4 L971.5,175.3 L971.8,174.5 L972.2,174.5 L972.5,174.9 L972.8,174.9 L973.2,173.4 L973.5,173.0 L973.8,172.6 L974.2,172.3 L974.5,170.4 L974.8,170.2 L975.2,169.6 L975.5,169.3 L975.8,169.0 L976.2,166.7 L976.5,167.2 L976.9,167.5 L977.2,165.3 L977.5,164.6 L977.9,162.9 L978.2,161.8 L978.5,163.5 L978.9,165.1 L979.2,168.5 L979.5,169.6 L979.9,169.1 L980.2,170.2 L980.5,168.1 L980.9,171.2 L981.2,172.4 L981.6,173.3 L981.9,173.8 L982.2,173.1 L982.6,173.2 L982.9,172.6 L983.2,172.2 L983.6,172.9 L983.9,171.7 L984.2,174.1 L984.6,173.0 L984.9,174.0 L985.2,172.4 L985.6,170.1 L985.9,169.8 L986.3,169.2 L986.6,168.2 L986.9,167.3 L987.3,165.7 L987.6,165.4 L987.9,164.2 L988.3,163.6 L988.6,164.3 L988.9,162.1 L989.3,160.7 L989.6,159.3 L989.9,157.6 L990.3,155.3 L990.6,154.4 L990.9,153.9 L991.3,153.1 L991.6,149.5 L992.0,148.7 L992.3,148.0 L992.6,146.4 L993.0,143.6 L993.3,140.9 L993.6,141.6 L994.0,142.1 L994.3,141.1 L994.6,138.4 L995.0,138.3 L995.3,137.0 L995.6,137.5 L996.0,135.1 L996.3,134.1 L996.7,132.3 L997.0,131.6 L997.3,129.2 L997.7,130.7 L998.0,132.5 L998.3,133.8 L998.7,136.8 L999.0,139.5 L999.3,139.2 L999.7,141.5 L1000.0,144.0 L1000.3,146.5 L1000.7,148.7 L1001.0,147.1 L1001.4,146.2 L1001.7,143.3 L1002.0,140.6 L1002.4,139.1 L1002.7,138.0 L1003.0,136.9 L1003.4,136.9 L1003.7,137.9 L1004.0,139.5 L1004.4,139.5 L1004.7,140.4 L1005.0,139.7 L1005.4,140.4 L1005.7,141.3 L1006.1,140.9 L1006.4,137.1 L1006.7,136.6 L1007.1,140.6 L1007.4,142.1 L1007.7,142.8 L1008.1,144.5 L1008.4,147.4 L1008.7,149.3 L1009.1,150.6 L1009.4,150.5 L1009.7,151.7 L1010.1,150.7 L1010.4,150.7 L1010.8,152.1 L1011.1,153.0 L1011.4,151.8 L1011.8,150.1 L1012.1,147.9 L1012.4,148.1 L1012.8,148.3 L1013.1,148.9 L1013.4,148.8 L1013.8,147.2 L1014.1,145.9 L1014.4,148.4 L1014.8,148.5 L1015.1,152.0 L1015.4,150.5 L1015.8,150.2 L1016.1,150.1 L1016.5,151.6 L1016.8,153.5 L1017.1,153.6 L1017.5,155.2 L1017.8,154.4 L1018.1,154.6 L1018.5,153.9 L1018.8,154.0 L1019.1,154.0 L1019.5,153.3 L1019.8,154.7 L1020.1,150.1 L1020.5,147.0 L1020.8,144.9 L1021.2,142.1 L1021.5,141.0 L1021.8,137.8 L1022.2,138.5 L1022.5,137.2 L1022.8,137.9 L1023.2,137.7 L1023.5,137.7 L1023.8,136.7 L1024.2,134.0 L1024.5,132.3 L1024.8,133.2 L1025.2,132.9 L1025.5,133.8 L1025.9,132.2 L1026.2,133.1 L1026.5,134.4 L1026.9,131.6 L1027.2,132.1 L1027.5,134.5 L1027.9,133.6 L1028.2,134.9 L1028.5,135.8 L1028.9,137.7 L1029.2,138.1 L1029.5,137.9 L1029.9,138.2 L1030.2,138.6 L1030.6,138.7 L1030.9,138.5 L1031.2,140.6 L1031.6,140.4 L1031.9,139.4 L1032.2,138.8 L1032.6,139.9 L1032.9,137.7 L1033.2,138.8 L1033.6,140.2 L1033.9,142.4 L1034.2,142.4 L1034.6,141.9 L1034.9,142.6 L1035.2,144.1 L1035.6,147.3 L1035.9,148.9 L1036.3,149.9 L1036.6,149.7 L1036.9,151.0 L1037.3,152.7 L1037.6,153.3 L1037.9,152.2 L1038.3,152.7 L1038.6,153.1 L1038.9,151.0 L1039.3,148.4 L1039.6,146.5 L1039.9,145.0 L1040.3,142.8 L1040.6,143.1 L1041.0,143.4 L1041.3,144.3 L1041.6,144.1 L1042.0,143.0 L1042.3,143.0 L1042.6,141.3 L1043.0,140.9 L1043.3,140.0 L1043.6,142.5 L1044.0,140.3 L1044.3,142.5 L1044.6,144.7 L1045.0,145.8 L1045.3,147.5 L1045.7,150.7 L1046.0,155.2 L1046.3,160.2 L1046.7,163.2 L1047.0,168.2 L1047.3,170.3 L1047.7,170.4 L1048.0,169.6 L1048.3,166.7 L1048.7,165.7 L1049.0,163.6 L1049.3,163.3 L1049.7,160.8 L1050.0,159.0 L1050.4,157.9 L1050.7,158.5 L1051.0,159.4 L1051.4,160.3 L1051.7,159.9 L1052.0,161.4 L1052.4,161.2 L1052.7,161.5 L1053.0,163.2 L1053.4,163.6 L1053.7,162.2 L1054.0,163.9 L1054.4,164.8 L1054.7,165.2 L1055.0,167.7 L1055.4,167.8 L1055.7,169.5 L1056.1,169.8 L1056.4,173.2 L1056.7,171.2 L1057.1,171.6 L1057.4,172.2 L1057.7,173.8 L1058.1,173.4 L1058.4,172.8 L1058.7,174.2 L1059.1,172.6 L1059.4,171.9 L1059.7,170.8 L1060.1,170.2 L1060.4,167.5 L1060.8,165.7 L1061.1,164.6 L1061.4,163.7 L1061.8,164.0 L1062.1,163.6 L1062.4,164.0 L1062.8,163.8 L1063.1,165.4 L1063.4,164.5 L1063.8,164.4 L1064.1,162.5 L1064.4,161.1 L1064.8,162.1 L1065.1,162.1 L1065.5,161.6 L1065.8,163.3 L1066.1,164.8 L1066.5,165.2 L1066.8,167.4 L1067.1,168.9 L1067.5,170.7 L1067.8,171.1 L1068.1,169.3 L1068.5,169.7 L1068.8,168.3 L1069.1,166.9 L1069.5,167.5 L1069.8,167.0 L1070.2,165.4 L1070.5,164.3 L1070.8,163.5 L1071.2,161.3 L1071.5,162.5 L1071.8,162.9 L1072.2,161.7 L1072.5,160.9 L1072.8,162.3 L1073.2,161.1 L1073.5,164.2 L1073.8,163.2 L1074.2,163.9 L1074.5,161.3 L1074.8,161.7 L1075.2,161.6 L1075.5,162.8 L1075.9,163.5 L1076.2,163.7 L1076.5,166.9 L1076.9,168.4 L1077.2,168.0 L1077.5,165.7 L1077.9,159.3 L1078.2,155.7 L1078.5,154.5 L1078.9,151.0 L1079.2,148.4 L1079.5,145.7 L1079.9,146.1 L1080.2,145.5 L1080.6,144.9 L1080.9,145.4 L1081.2,146.7 L1081.6,147.3 L1081.9,145.7 L1082.2,146.7 L1082.6,147.6 L1082.9,146.7 L1083.2,144.6 L1083.6,143.2 L1083.9,142.0 L1084.2,141.0 L1084.6,139.2 L1084.9,138.5 L1085.3,138.0 L1085.6,136.7 L1085.9,136.3 L1086.3,134.8 L1086.6,132.6 L1086.9,132.3 L1087.3,133.1 L1087.6,136.2 L1087.9,133.2 L1088.3,132.3 L1088.6,131.0 L1088.9,131.0 L1089.3,129.6 L1089.6,129.5 L1090.0,130.6 L1090.3,130.7 L1090.6,131.6 L1091.0,134.6 L1091.3,136.7 L1091.6,135.6 L1092.0,139.2 L1092.3,139.3 L1092.6,140.7 L1093.0,141.2 L1093.3,140.9 L1093.6,140.3 L1094.0,141.4 L1094.3,140.7 L1094.7,139.4 L1095.0,138.9 L1095.3,139.2 L1095.7,136.9 L1096.0,138.2 L1096.3,138.1 L1096.7,139.9 L1097.0,142.7 L1097.3,144.0 L1097.7,145.7 L1098.0,146.1 L1098.3,146.3 L1098.7,144.9 L1099.0,145.6 L1099.3,145.4 L1099.7,142.2 L1100.0,142.3 L1100.4,144.0 L1100.7,144.2 L1101.0,145.5 L1101.4,144.9 L1101.7,143.4 L1102.0,143.2 L1102.4,142.7 L1102.7,141.6 L1103.0,143.3 L1103.4,143.9 L1103.7,143.5 L1104.0,144.1 L1104.4,144.3 L1104.7,145.4 L1105.1,147.8 L1105.4,147.4 L1105.7,147.2 L1106.1,150.2 L1106.4,154.4 L1106.7,154.9 L1107.1,155.0 L1107.4,154.8 L1107.7,156.0 L1108.1,157.2 L1108.4,157.6 L1108.7,159.4 L1109.1,159.2 L1109.4,159.2 L1109.8,158.4 L1110.1,160.9 L1110.4,162.9 L1110.8,163.9 L1111.1,162.1 L1111.4,163.1 L1111.8,162.8 L1112.1,163.0 L1112.4,163.0 L1112.8,161.9 L1113.1,161.0 L1113.4,158.4 L1113.8,159.3 L1114.1,160.9 L1114.5,161.5 L1114.8,163.5 L1115.1,167.1 L1115.5,168.5 L1115.8,169.0 L1116.1,169.2 L1116.5,170.8 L1116.8,174.2 L1117.1,175.7 L1117.5,177.1 L1117.8,176.8 L1118.1,178.3 L1118.5,180.2 L1118.8,180.8 L1119.1,181.9 L1119.5,182.2 L1119.8,184.2 L1120.2,187.0 L1120.5,187.5 L1120.8,187.4 L1121.2,186.7 L1121.5,185.2 L1121.8,183.5 L1122.2,182.2 L1122.5,181.6 L1122.8,180.9 L1123.2,181.4 L1123.5,181.8 L1123.8,183.6 L1124.2,184.4 L1124.5,184.1 L1124.9,184.1 L1125.2,182.0 L1125.5,184.0 L1125.9,183.2 L1126.2,182.6 L1126.5,185.0 L1126.9,185.8 L1127.2,187.1 L1127.5,189.1 L1127.9,190.4 L1128.2,192.6 L1128.5,195.0 L1128.9,197.9 L1129.2,199.2 L1129.6,201.2 L1129.9,201.9 L1130.2,203.8 L1130.6,206.4 L1130.9,204.4 L1131.2,204.2 L1131.6,204.5 L1131.9,202.2 L1132.2,198.4 L1132.6,198.9 L1132.9,197.6 L1133.2,197.7 L1133.6,196.9 L1133.9,196.0 L1134.3,194.7 L1134.6,194.0 L1134.9,192.0 L1135.3,190.7 L1135.6,191.7 L1135.9,191.4 L1136.3,192.0 L1136.6,192.0 L1136.9,191.6 L1137.3,190.4 L1137.6,191.5 L1137.9,190.5 L1138.3,190.9 L1138.6,189.0 L1138.9,188.7 L1139.3,184.4 L1139.6,178.9 L1140.0,172.2 L1140.3,167.2 L1140.6,164.4 L1141.0,163.6 L1141.3,162.5 L1141.6,163.5 L1142.0,163.2 L1142.3,162.5 L1142.6,163.4 L1143.0,163.2 L1143.3,162.1 L1143.6,163.0 L1144.0,162.2 L1144.3,163.0 L1144.7,161.8 L1145.0,161.9 L1145.3,163.0 L1145.7,163.2 L1146.0,163.5 L1146.3,163.7 L1146.7,164.4 L1147.0,163.6 L1147.3,163.1 L1147.7,161.8 L1148.0,163.1 L1148.3,161.0 L1148.7,161.0 L1149.0,158.8 L1149.4,158.4 L1149.7,159.0 L1150.0,158.2 L1150.4,161.7 L1150.7,161.8 L1151.0,162.1 L1151.4,163.9 L1151.7,163.8 L1152.0,166.4 L1152.4,168.3 L1152.7,166.2 L1153.0,166.0 L1153.4,166.9 L1153.7,169.3 L1154.1,169.7 L1154.4,170.7 L1154.7,173.2 L1155.1,173.4 L1155.4,173.1 L1155.7,170.8 L1156.1,171.4 L1156.4,172.5 L1156.7,170.5 L1157.1,167.0 L1157.4,164.2 L1157.7,165.2 L1158.1,164.3 L1158.4,165.5 L1158.7,163.7 L1159.1,162.3 L1159.4,162.0 L1159.8,163.2 L1160.1,162.4 L1160.4,159.4 L1160.8,158.1 L1161.1,156.5 L1161.4,155.4 L1161.8,153.4 L1162.1,151.0 L1162.4,149.2 L1162.8,144.3 L1163.1,142.7 L1163.4,142.4 L1163.8,141.2 L1164.1,138.1 L1164.5,134.7 L1164.8,136.2 L1165.1,135.5 L1165.5,135.2 L1165.8,135.4 L1166.1,134.6 L1166.5,134.6 L1166.8,136.4 L1167.1,135.7 L1167.5,138.0 L1167.8,137.2 L1168.1,136.2 L1168.5,136.0 L1168.8,135.8 L1169.2,135.8 L1169.5,135.1 L1169.8,133.1 L1170.2,133.0 L1170.5,130.1 L1170.8,126.3 L1171.2,124.7 L1171.5,122.8 L1171.8,120.0 L1172.2,117.8 L1172.5,118.2 L1172.8,120.3 L1173.2,119.9 L1173.5,118.0 L1173.9,116.9 L1174.2,117.2 L1174.5,116.7 L1174.9,116.5 L1175.2,118.3 L1175.5,120.1 L1175.9,120.7 L1176.2,122.0 L1176.5,122.1 L1176.9,122.3 L1177.2,122.8 L1177.5,122.0 L1177.9,122.8 L1178.2,122.7 L1178.6,122.0 L1178.9,122.1 L1179.2,122.2 L1179.6,121.2 L1179.9,120.4 L1180.2,119.4 L1180.6,121.0 L1180.9,119.0 L1181.2,119.4 L1181.6,120.9 L1181.9,120.0 L1182.2,119.3 L1182.6,118.6 L1182.9,116.8 L1183.2,118.7 L1183.6,118.8 L1183.9,117.9 L1184.3,118.7 L1184.6,120.6 L1184.9,121.8 L1185.3,122.3 L1185.6,124.5 L1185.9,125.0 L1186.3,126.0 L1186.6,127.8 L1186.9,128.5 L1187.3,128.1 L1187.6,126.3 L1187.9,128.6 L1188.3,127.2 L1188.6,127.0 L1189.0,125.0 L1189.3,122.6 L1189.6,121.5 L1190.0,120.1 L1190.3,119.6 L1190.6,120.1 L1191.0,121.7 L1191.3,124.7 L1191.6,127.7 L1192.0,128.3 L1192.3,131.1 L1192.6,133.6 L1193.0,131.8 L1193.3,130.2 L1193.7,129.1 L1194.0,130.5 L1194.3,129.3 L1194.7,128.0 L1195.0,128.7 L1195.3,127.5 L1195.7,127.8 L1196.0,129.4 L1196.3,130.5 L1196.7,128.5 L1197.0,127.8 L1197.3,129.6 L1197.7,128.7 L1198.0,131.5 L1198.4,133.4 L1198.7,135.6 L1199.0,137.9 L1199.4,137.7 L1199.7,138.7 L1200.0,139.4 L1200.4,141.4 L1200.7,144.0 L1201.0,144.4 L1201.4,145.2 L1201.7,143.5 L1202.0,143.7 L1202.4,144.1 L1202.7,144.5 L1203.0,145.9 L1203.4,148.2 L1203.7,148.8 L1204.1,149.9 L1204.4,148.6 L1204.7,150.0 L1205.1,150.7 L1205.4,149.4 L1205.7,150.8 L1206.1,150.9 L1206.4,153.1 L1206.7,154.6 L1207.1,155.6 L1207.4,157.0 L1207.7,155.2 L1208.1,153.2 L1208.4,151.7 L1208.8,150.2 L1209.1,147.6 L1209.4,146.7 L1209.8,145.8 L1210.1,144.6 L1210.4,142.2 L1210.8,143.2 L1211.1,144.3 L1211.4,144.9 L1211.8,145.6 L1212.1,147.4 L1212.4,147.4 L1212.8,148.9 L1213.1,148.5 L1213.5,147.3 L1213.8,147.1 L1214.1,146.5 L1214.5,146.9 L1214.8,149.0 L1215.1,149.4 L1215.5,150.5 L1215.8,153.0 L1216.1,155.0 L1216.5,155.0 L1216.8,154.0 L1217.1,156.4 L1217.5,154.9 L1217.8,152.5 L1218.2,149.9 L1218.5,151.1 L1218.8,149.2 L1219.2,148.5 L1219.5,147.8 L1219.8,149.0 L1220.2,146.7 L1220.5,146.3 L1220.8,146.2 L1221.2,147.4 L1221.5,146.6 L1221.8,146.5 L1222.2,145.6 L1222.5,146.6 L1222.8,147.4 L1223.2,146.5 L1223.5,146.8 L1223.9,144.6 L1224.2,144.3 L1224.5,144.0 L1224.9,144.4 L1225.2,146.5 L1225.5,150.0 L1225.9,151.1 L1226.2,151.7 L1226.5,151.7 L1226.9,152.4 L1227.2,151.9 L1227.5,152.9 L1227.9,154.5 L1228.2,155.1 L1228.6,154.3 L1228.9,155.0 L1229.2,157.2 L1229.6,158.1 L1229.9,162.7 L1230.2,168.2 L1230.6,173.2 L1230.9,176.2 L1231.2,175.4 L1231.6,178.0 L1231.9,182.2 L1232.2,182.3 L1232.6,183.6 L1232.9,182.1 L1233.3,182.2 L1233.6,182.0 L1233.9,181.8 L1234.3,179.9 L1234.6,180.7 L1234.9,181.9 L1235.3,182.3 L1235.6,181.6 L1235.9,182.0 L1236.3,181.7 L1236.6,183.0 L1236.9,184.0 L1237.3,184.3 L1237.6,184.5 L1238.0,184.1 L1238.3,184.2 L1238.6,181.6 L1239.0,181.6 L1239.3,183.0 L1239.6,182.5 L1240.0,183.6 L1240.3,182.0 L1240.6,182.2 L1241.0,182.2 L1241.3,183.0 L1241.6,183.3 L1242.0,186.1 L1242.3,182.2 L1242.6,180.5 L1243.0,179.7 L1243.3,179.9" fill="none" stroke="#151515" stroke-width="1.1" stroke-linejoin="round"/>
<line x1="109.7" x2="109.7" y1="90.3" y2="643" stroke="#8a78ea" stroke-width="1.8"/>
<line x1="1243.8" x2="1243.8" y1="90.3" y2="643" stroke="#3a3a3a" stroke-width="2"/>
<rect x="54" y="329.2" width="56.3" height="30.2" fill="#4f34e8"/>
<text x="59.2" y="350.8" font-size="15.3" fill="#fff" textLength="45.8" lengthAdjust="spacingAndGlyphs">672.1K</text>
<rect x="1243.3" y="161.9" width="47.3" height="29.8" fill="#131313"/>
<text x="1249.2" y="183.7" font-size="15.5" fill="#fff" textLength="37.3" lengthAdjust="spacingAndGlyphs">$2.1K</text>
<g fill="none" stroke="#ee1111" stroke-width="1.8">
<rect x="787.4" y="222.8" width="23.4" height="296.6"/>
<rect x="830.2" y="111.3" width="24.2" height="423.3"/>
<rect x="923.8" y="191" width="24.1" height="352"/>
<rect x="1210.3" y="143.3" width="38.6" height="337"/>
</g>
</svg>
</body></html>
